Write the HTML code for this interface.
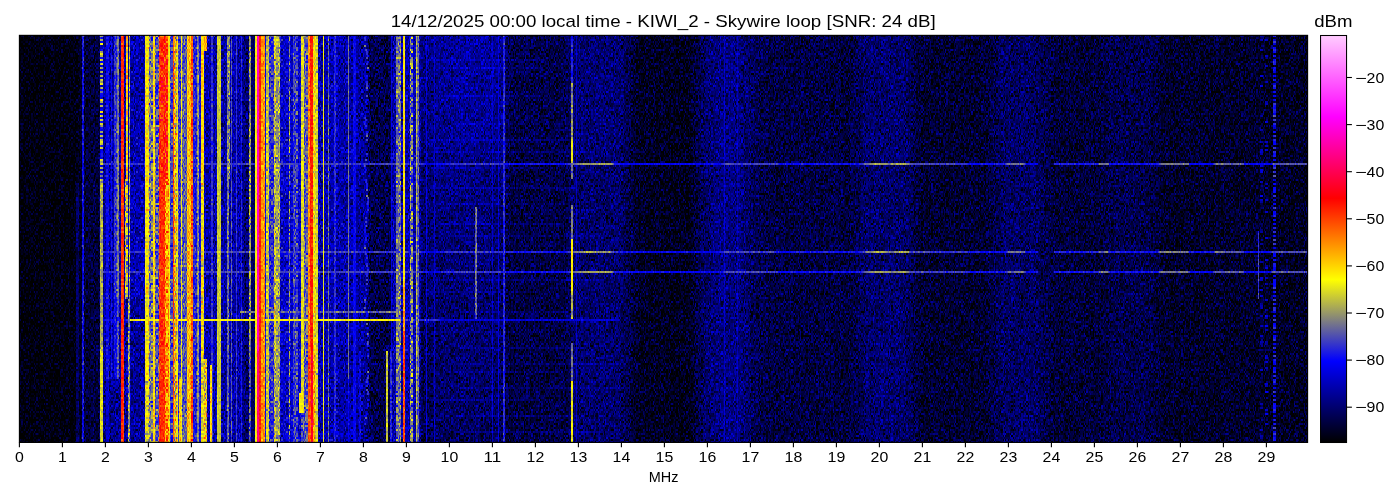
<!DOCTYPE html>
<html><head><meta charset="utf-8"><title>waterfall</title>
<style>
html,body{margin:0;padding:0;background:#fff;width:1400px;height:500px;overflow:hidden}
svg{position:absolute;left:0;top:0;display:block}
text{font-family:"Liberation Sans",sans-serif;fill:#000}
.t{font-size:13.9px}
.ti{font-size:16.7px}
</style></head><body>
<svg width="1400" height="500" viewBox="0 0 1400 500">
<defs>
<filter id="cm" filterUnits="userSpaceOnUse" x="19" y="35" width="1289" height="408" color-interpolation-filters="sRGB">
<feTurbulence type="fractalNoise" baseFrequency="0.877 0.713" numOctaves="2" seed="3" result="n0"/>
<feColorMatrix in="n0" type="matrix" values="2 0 0 0 -.5 2 0 0 0 -.5 2 0 0 0 -.5 0 0 0 0 1" result="n1"/>
<feFlood flood-color="#fff" x="19" y="35" width="1289" height="1" result="row"/>
<feOffset in="row" dx="0" dy="0" x="19" y="35" width="1289" height="2" result="rtile"/>
<feTile in="rtile" result="rmask"/>
<feComposite in="n1" in2="rmask" operator="in" result="ns"/>
<feOffset in="ns" dx="0" dy="1" result="ns2"/>
<feMerge result="nv"><feMergeNode in="ns"/><feMergeNode in="ns2"/></feMerge>
<feFlood flood-color="#fff" x="21" y="35" width="1" height="408" result="col"/>
<feOffset in="col" dx="0" dy="0" x="19" y="35" width="5" height="408" result="ctile"/>
<feTile in="ctile" result="cmask"/>
<feComposite in="nv" in2="cmask" operator="in" result="nc"/>
<feOffset in="nc" dx="1" dy="0" result="nc2"/>
<feMerge result="n"><feMergeNode in="nv"/><feMergeNode in="nc2"/></feMerge>
<feColorMatrix in="SourceGraphic" type="matrix" values="0 1 0 0 0 0 0 0 0 0 0 0 0 0 0 0 0 0 0 1" result="a"/>
<feColorMatrix in="SourceGraphic" type="matrix" values="1 0 0 0 0 0 0 0 0 0 0 0 1 0 0 0 0 0 0 1" result="b"/>
<feComposite in="n" in2="a" operator="arithmetic" k1="2" k2="0" k3="0" k4="0" result="na"/>
<feComposite in="na" in2="b" operator="arithmetic" k1="0" k2="1" k3="1" k4="0" result="sm"/>
<feColorMatrix in="sm" type="matrix" values="1 0 -1 0 0 1 0 -1 0 0 1 0 -1 0 0 0 0 0 0 1" result="t"/>
<feComponentTransfer in="t">
<feFuncR type="table" tableValues="0 0 1 1 1"/>
<feFuncG type="table" tableValues="0 0 1 0 0"/>
<feFuncB type="table" tableValues="0 1 0 0 1"/>
</feComponentTransfer>
</filter>
<linearGradient id="cb" x1="0" y1="1" x2="0" y2="0">
<stop offset="0" stop-color="#000"/><stop offset="0.2" stop-color="#00f"/><stop offset="0.4" stop-color="#ff0"/>
<stop offset="0.6" stop-color="#f00"/><stop offset="0.8" stop-color="#f0f"/><stop offset="1" stop-color="#fcf"/>
</linearGradient>
</defs>
<rect x="19" y="35" width="1289" height="408" fill="#000046"/>
<g filter="url(#cm)" shape-rendering="crispEdges">
<rect x="19" y="35" width="1289" height="408" fill="#002000"/>
<path fill="#001412" d="M19 35h57v408h-57z"/>
<path fill="#001410" d="M76 35h1v148h-1z"/>
<path fill="#081000" d="M76 183h1v260h-1zM77 183h1v260h-1zM78 183h1v260h-1zM251 35h4v128h-4zM251 165h4v86h-4zM251 253h4v18h-4zM251 273h4v38h-4zM251 313h4v6h-4zM251 321h4v122h-4z"/>
<path fill="#00140e" d="M77 35h1v148h-1z"/>
<path fill="#00140c" d="M78 35h1v148h-1zM79 35h1v408h-1z"/>
<path fill="#00140a" d="M80 35h2v408h-2z"/>
<path fill="#241a00" d="M82 35h2v408h-2z"/>
<path fill="#001608" d="M84 35h9v408h-9z"/>
<path fill="#001808" d="M93 35h1v408h-1z"/>
<path fill="#00180a" d="M94 35h5v408h-5z"/>
<path fill="#001806" d="M99 35h1v408h-1z"/>
<path fill="#600800" d="M100 35h3v2h-3zM100 75h3v2h-3zM100 87h3v2h-3zM100 131h3v2h-3zM100 161h3v2h-3z"/>
<path fill="#3a0800" d="M100 37h3v2h-3zM100 57h3v2h-3zM100 121h3v2h-3zM1273 51h3v2h-3zM1273 55h3v2h-3zM1273 59h3v2h-3zM1273 67h3v2h-3zM1273 79h3v2h-3zM1273 109h3v2h-3zM1273 189h3v4h-3zM1273 265h3v2h-3zM1273 279h3v2h-3zM1273 295h3v2h-3zM1273 359h3v2h-3zM1273 403h3v4h-3zM1273 423h3v2h-3zM1273 437h3v2h-3z"/>
<path fill="#640800" d="M100 39h3v2h-3zM100 51h3v2h-3zM100 67h3v2h-3zM100 101h3v2h-3z"/>
<path fill="#320800" d="M100 41h3v2h-3zM100 133h3v2h-3zM100 149h3v4h-3zM1260 85h3v2h-3zM1260 195h3v2h-3zM1265 315h3v2h-3zM1273 71h3v2h-3zM1273 247h3v2h-3zM1273 269h3v2h-3zM1273 343h3v2h-3zM1273 351h3v2h-3zM1273 363h3v2h-3zM1273 415h3v2h-3z"/>
<path fill="#720800" d="M100 43h3v2h-3zM100 159h3v2h-3z"/>
<path fill="#280800" d="M100 45h3v2h-3zM100 69h3v2h-3zM100 107h3v2h-3zM1260 39h3v2h-3zM1265 141h3v2h-3zM1265 199h3v2h-3zM1265 329h3v2h-3zM1265 367h3v2h-3z"/>
<path fill="#260800" d="M100 47h3v2h-3zM1260 35h3v2h-3zM1260 181h3v2h-3zM1260 199h3v2h-3zM1260 261h3v2h-3zM1260 341h3v2h-3zM1260 403h3v2h-3zM1265 39h3v2h-3zM1265 65h3v2h-3zM1265 101h3v4h-3zM1265 187h3v2h-3zM1265 277h3v2h-3zM1265 385h3v2h-3z"/>
<path fill="#340800" d="M100 49h3v2h-3zM100 61h3v2h-3zM100 109h3v2h-3zM100 113h3v2h-3zM1265 325h3v2h-3zM1265 413h3v2h-3zM1273 113h3v2h-3zM1273 203h3v2h-3zM1273 235h3v2h-3zM1273 267h3v2h-3zM1273 275h3v2h-3zM1273 367h3v2h-3zM1273 431h3v2h-3z"/>
<path fill="#7a0800" d="M100 53h3v2h-3zM100 111h3v2h-3z"/>
<path fill="#620800" d="M100 55h3v2h-3z"/>
<path fill="#700800" d="M100 59h3v2h-3zM100 119h3v2h-3zM100 123h3v2h-3zM100 141h3v4h-3z"/>
<path fill="#6c0800" d="M100 63h3v2h-3zM100 139h3v2h-3zM100 147h3v2h-3z"/>
<path fill="#2c0800" d="M100 65h3v2h-3zM100 169h3v2h-3zM1260 49h3v2h-3zM1260 151h3v2h-3zM1260 171h3v2h-3zM1260 277h3v2h-3zM1260 295h3v2h-3zM1260 369h3v2h-3zM1265 211h3v2h-3zM1265 361h3v2h-3zM1265 409h3v2h-3zM1273 39h3v2h-3zM1273 83h3v2h-3zM1273 179h3v2h-3z"/>
<path fill="#660800" d="M100 71h3v2h-3zM100 105h3v2h-3zM100 167h3v2h-3z"/>
<path fill="#240800" d="M100 73h3v2h-3zM1260 129h3v2h-3zM1260 141h3v2h-3zM1260 149h3v2h-3zM1260 305h3v4h-3zM1260 325h3v2h-3zM1260 429h3v2h-3zM1260 435h3v2h-3zM1265 183h3v2h-3zM1265 283h3v2h-3z"/>
<path fill="#2a0800" d="M100 77h3v2h-3zM100 85h3v2h-3zM100 97h3v2h-3zM100 157h3v2h-3zM1260 279h3v2h-3zM1265 55h3v2h-3zM1265 145h3v2h-3zM1265 149h3v2h-3zM1265 237h3v2h-3zM1265 299h3v2h-3zM1265 355h3v4h-3zM1265 383h3v2h-3zM1265 423h3v2h-3zM1273 383h3v2h-3z"/>
<path fill="#6a0800" d="M100 79h3v2h-3z"/>
<path fill="#5c0800" d="M100 81h3v2h-3z"/>
<path fill="#760800" d="M100 83h3v2h-3z"/>
<path fill="#3c0800" d="M100 89h3v2h-3zM100 137h3v2h-3zM100 145h3v2h-3zM1273 195h3v2h-3zM1273 291h3v2h-3zM1273 315h3v2h-3zM1273 337h3v2h-3zM1273 379h3v2h-3zM1273 419h3v2h-3zM1273 439h3v2h-3z"/>
<path fill="#580800" d="M100 91h3v2h-3zM100 175h3v2h-3z"/>
<path fill="#380800" d="M100 93h3v2h-3zM100 117h3v2h-3zM100 127h3v2h-3zM100 155h3v2h-3zM1273 75h3v2h-3zM1273 87h3v2h-3zM1273 95h3v2h-3zM1273 105h3v2h-3zM1273 131h3v2h-3zM1273 141h3v4h-3zM1273 153h3v2h-3zM1273 165h3v2h-3zM1273 183h3v2h-3zM1273 187h3v2h-3zM1273 211h3v4h-3zM1273 223h3v2h-3zM1273 259h3v2h-3zM1273 281h3v4h-3zM1273 325h3v2h-3zM1273 335h3v2h-3zM1273 361h3v2h-3zM1273 369h3v2h-3zM1273 395h3v2h-3zM1273 411h3v2h-3z"/>
<path fill="#360800" d="M100 95h3v2h-3zM100 129h3v2h-3zM100 153h3v2h-3zM100 165h3v2h-3zM1273 47h3v2h-3zM1273 69h3v2h-3zM1273 91h3v2h-3zM1273 99h3v2h-3zM1273 107h3v2h-3zM1273 159h3v2h-3zM1273 219h3v2h-3zM1273 253h3v4h-3zM1273 285h3v2h-3zM1273 323h3v2h-3zM1273 387h3v2h-3zM1273 407h3v2h-3z"/>
<path fill="#800800" d="M100 99h3v2h-3z"/>
<path fill="#2e0800" d="M100 103h3v2h-3zM100 173h3v2h-3zM1260 75h3v2h-3zM1260 165h3v2h-3zM1260 169h3v2h-3zM1265 259h3v2h-3zM1265 267h3v2h-3zM1273 43h3v2h-3zM1273 125h3v4h-3zM1273 199h3v2h-3zM1273 435h3v2h-3z"/>
<path fill="#6e0800" d="M100 115h3v2h-3zM100 163h3v2h-3z"/>
<path fill="#560800" d="M100 125h3v2h-3z"/>
<path fill="#680800" d="M100 135h3v2h-3z"/>
<path fill="#5e0800" d="M100 171h3v2h-3z"/>
<path fill="#300800" d="M100 177h3v2h-3zM1260 289h3v2h-3zM1260 335h3v2h-3zM1265 121h3v2h-3zM1265 391h3v2h-3zM1273 311h3v2h-3zM1273 331h3v2h-3z"/>
<path fill="#5a1000" d="M100 179h3v172h-3zM571 291h1v28h-1zM572 291h1v28h-1z"/>
<path fill="#6a0c00" d="M100 351h3v92h-3z"/>
<path fill="#081c00" d="M103 35h1v128h-1zM103 165h1v86h-1zM103 253h1v18h-1zM103 273h1v46h-1zM103 321h1v122h-1zM430 35h1v4h-1zM431 35h1v18h-1zM432 35h1v24h-1zM432 61h1v4h-1zM433 35h1v24h-1zM433 61h1v16h-1zM435 43h1v16h-1zM435 61h1v40h-1zM436 55h1v4h-1zM436 61h1v52h-1zM437 69h1v56h-1z"/>
<path fill="#400c00" d="M103 163h1v2h-1zM103 251h1v2h-1zM103 271h1v2h-1zM104 163h2v2h-2zM104 251h2v2h-2zM104 271h2v2h-2zM106 163h3v2h-3zM106 251h3v2h-3zM106 271h3v2h-3zM109 163h2v2h-2zM109 251h2v2h-2zM109 271h2v2h-2zM111 163h1v2h-1zM111 251h1v2h-1zM111 271h1v2h-1zM112 163h2v2h-2zM112 251h2v2h-2zM112 271h2v2h-2zM114 163h3v2h-3zM114 251h3v2h-3zM114 271h3v2h-3zM119 163h2v2h-2zM119 251h2v2h-2zM119 271h2v2h-2zM124 163h1v2h-1zM124 251h1v2h-1zM124 271h1v2h-1zM125 163h1v2h-1zM128 163h1v2h-1zM128 251h1v2h-1zM128 271h1v2h-1zM130 163h1v2h-1zM130 251h1v2h-1zM130 271h1v2h-1zM131 163h2v2h-2zM131 251h2v2h-2zM131 271h2v2h-2zM133 163h12v2h-12zM133 251h12v2h-12zM133 271h12v2h-12zM170 163h3v2h-3zM170 251h3v2h-3zM170 271h3v2h-3zM178 163h1v2h-1zM178 251h1v2h-1zM178 271h1v2h-1zM179 163h2v2h-2zM179 251h2v2h-2zM179 271h2v2h-2zM364 37h1v2h-1zM364 123h1v2h-1zM365 37h1v2h-1zM365 123h1v2h-1zM365 221h1v2h-1zM366 51h1v2h-1zM366 89h1v2h-1zM366 221h1v2h-1zM366 279h1v2h-1zM366 283h1v2h-1zM366 381h1v2h-1zM367 51h1v2h-1zM367 89h1v2h-1zM367 279h1v2h-1zM367 283h1v2h-1zM367 343h1v2h-1zM367 381h1v2h-1zM367 391h1v4h-1zM368 343h1v2h-1zM368 391h1v4h-1zM449 163h1v2h-1zM449 251h1v2h-1zM449 271h1v2h-1zM450 163h1v2h-1zM450 251h1v2h-1zM450 271h1v2h-1zM451 163h1v2h-1zM451 251h1v2h-1zM451 271h1v2h-1zM452 163h1v2h-1zM452 251h1v2h-1zM452 271h1v2h-1zM453 163h1v2h-1zM453 251h1v2h-1zM453 271h1v2h-1zM454 163h1v2h-1zM454 251h1v2h-1zM454 271h1v2h-1zM455 163h1v2h-1zM455 251h1v2h-1zM455 271h1v2h-1zM456 163h1v2h-1zM456 251h1v2h-1zM456 271h1v2h-1zM457 163h1v2h-1zM457 251h1v2h-1zM457 271h1v2h-1zM458 163h1v2h-1zM458 251h1v2h-1zM458 271h1v2h-1zM459 163h1v2h-1zM459 251h1v2h-1zM459 271h1v2h-1zM460 163h1v2h-1zM460 251h1v2h-1zM460 271h1v2h-1zM461 163h1v2h-1zM461 251h1v2h-1zM461 271h1v2h-1zM462 163h1v2h-1zM462 251h1v2h-1zM462 271h1v2h-1zM463 163h1v2h-1zM463 251h1v2h-1zM463 271h1v2h-1zM464 163h1v2h-1zM464 251h1v2h-1zM464 271h1v2h-1zM465 163h1v2h-1zM465 251h1v2h-1zM465 271h1v2h-1zM466 163h1v2h-1zM466 251h1v2h-1zM466 271h1v2h-1zM467 163h1v2h-1zM467 251h1v2h-1zM467 271h1v2h-1zM468 163h1v2h-1zM468 251h1v2h-1zM468 271h1v2h-1zM469 163h2v2h-2zM469 251h2v2h-2zM469 271h2v2h-2zM471 163h1v2h-1zM471 251h1v2h-1zM471 271h1v2h-1zM472 163h1v2h-1zM472 251h1v2h-1zM472 271h1v2h-1zM473 163h1v2h-1zM473 251h1v2h-1zM473 271h1v2h-1zM474 163h1v2h-1zM474 251h1v2h-1zM474 271h1v2h-1zM475 163h1v2h-1zM476 163h1v2h-1zM477 163h1v2h-1zM477 251h1v2h-1zM477 271h1v2h-1zM478 163h1v2h-1zM478 251h1v2h-1zM478 271h1v2h-1zM479 163h1v2h-1zM479 251h1v2h-1zM479 271h1v2h-1zM480 163h1v2h-1zM480 251h1v2h-1zM480 271h1v2h-1zM481 163h1v2h-1zM481 251h1v2h-1zM481 271h1v2h-1zM482 163h1v2h-1zM482 251h1v2h-1zM482 271h1v2h-1zM483 163h1v2h-1zM483 251h1v2h-1zM483 271h1v2h-1zM484 163h1v2h-1zM484 251h1v2h-1zM484 271h1v2h-1zM485 163h1v2h-1zM485 251h1v2h-1zM485 271h1v2h-1zM486 163h1v2h-1zM486 251h1v2h-1zM486 271h1v2h-1zM487 163h1v2h-1zM487 251h1v2h-1zM487 271h1v2h-1zM488 163h1v2h-1zM488 251h1v2h-1zM488 271h1v2h-1zM489 163h1v2h-1zM489 251h1v2h-1zM489 271h1v2h-1zM490 163h1v2h-1zM490 251h1v2h-1zM490 271h1v2h-1zM491 163h1v2h-1zM491 251h1v2h-1zM491 271h1v2h-1zM492 163h1v2h-1zM492 251h1v2h-1zM492 271h1v2h-1zM493 163h1v2h-1zM493 251h1v2h-1zM493 271h1v2h-1zM494 163h1v2h-1zM494 251h1v2h-1zM494 271h1v2h-1zM495 163h1v2h-1zM495 251h1v2h-1zM495 271h1v2h-1zM496 163h1v2h-1zM496 251h1v2h-1zM496 271h1v2h-1zM497 163h1v2h-1zM497 251h1v2h-1zM497 271h1v2h-1zM498 163h1v2h-1zM498 251h1v2h-1zM498 271h1v2h-1zM499 163h1v2h-1zM499 251h1v2h-1zM499 271h1v2h-1zM500 163h1v2h-1zM500 251h1v2h-1zM500 271h1v2h-1zM776 163h1v2h-1zM776 251h1v2h-1zM776 271h1v2h-1zM862 163h1v2h-1zM862 251h1v2h-1zM862 271h1v2h-1zM958 163h9v2h-9zM958 251h9v2h-9zM958 271h9v2h-9z"/>
<path fill="#320c00" d="M103 319h1v2h-1zM104 319h2v2h-2zM109 319h2v2h-2zM112 319h2v2h-2zM119 319h2v2h-2zM124 319h1v2h-1zM125 319h1v2h-1zM126 319h2v2h-2zM348 379h1v64h-1zM353 35h3v128h-3zM353 165h3v86h-3zM353 253h3v18h-3zM353 273h3v38h-3zM353 313h3v6h-3zM353 321h3v122h-3zM365 415h1v2h-1zM366 415h1v2h-1zM367 205h1v2h-1zM367 349h1v2h-1zM368 205h1v2h-1zM368 349h1v2h-1zM426 163h1v2h-1zM426 251h1v2h-1zM426 271h1v2h-1zM437 163h1v2h-1zM437 251h1v2h-1zM437 271h1v2h-1zM438 163h1v2h-1zM438 251h1v2h-1zM438 271h1v2h-1zM623 163h1v2h-1zM623 251h1v2h-1zM623 271h1v2h-1zM624 163h1v2h-1zM624 251h1v2h-1zM624 271h1v2h-1zM625 163h2v2h-2zM625 251h2v2h-2zM625 271h2v2h-2zM627 163h3v2h-3zM627 251h3v2h-3zM627 271h3v2h-3zM630 163h2v2h-2zM630 251h2v2h-2zM630 271h2v2h-2zM632 163h2v2h-2zM632 251h2v2h-2zM632 271h2v2h-2zM634 163h2v2h-2zM634 251h2v2h-2zM634 271h2v2h-2zM636 163h2v2h-2zM636 251h2v2h-2zM636 271h2v2h-2zM638 163h30v2h-30zM638 251h30v2h-30zM638 271h30v2h-30zM668 163h22v2h-22zM668 251h22v2h-22zM668 271h22v2h-22zM690 163h2v2h-2zM690 251h2v2h-2zM690 271h2v2h-2zM692 163h1v2h-1zM692 251h1v2h-1zM692 271h1v2h-1zM693 163h2v2h-2zM693 251h2v2h-2zM693 271h2v2h-2zM695 163h1v2h-1zM695 251h1v2h-1zM695 271h1v2h-1zM696 163h2v2h-2zM696 251h2v2h-2zM696 271h2v2h-2zM698 163h2v2h-2zM698 251h2v2h-2zM698 271h2v2h-2zM700 163h2v2h-2zM700 251h2v2h-2zM700 271h2v2h-2zM702 163h2v2h-2zM702 251h2v2h-2zM702 271h2v2h-2zM704 163h2v2h-2zM704 251h2v2h-2zM704 271h2v2h-2zM706 163h4v2h-4zM706 251h4v2h-4zM706 271h4v2h-4zM710 163h3v2h-3zM710 251h3v2h-3zM710 271h3v2h-3zM713 163h5v2h-5zM713 251h5v2h-5zM713 271h5v2h-5zM718 163h2v2h-2zM718 251h2v2h-2zM718 271h2v2h-2zM1026 163h10v2h-10zM1026 251h10v2h-10zM1026 271h10v2h-10zM1036 163h2v2h-2zM1036 251h2v2h-2zM1036 271h2v2h-2zM1190 163h23v2h-23zM1190 251h23v2h-23zM1190 271h23v2h-23zM1245 163h13v2h-13zM1245 251h13v2h-13zM1245 271h13v2h-13zM1258 163h1v2h-1zM1259 163h1v2h-1zM1259 251h1v2h-1zM1259 271h1v2h-1zM1260 163h3v2h-3zM1260 251h3v2h-3zM1260 271h3v2h-3zM1263 163h1v2h-1zM1263 251h1v2h-1zM1263 271h1v2h-1zM1264 163h1v2h-1zM1264 251h1v2h-1zM1264 271h1v2h-1zM1265 163h3v2h-3zM1265 251h3v2h-3zM1265 271h3v2h-3zM1268 163h3v2h-3zM1268 251h3v2h-3zM1268 271h3v2h-3z"/>
<path fill="#0a1e00" d="M104 35h2v128h-2zM104 165h2v86h-2zM104 253h2v18h-2zM104 273h2v46h-2zM104 321h2v58h-2zM109 35h2v128h-2zM109 165h2v86h-2zM109 253h2v18h-2zM109 273h2v46h-2zM109 321h2v58h-2zM112 35h2v128h-2zM112 165h2v86h-2zM112 253h2v18h-2zM112 273h2v46h-2zM112 321h2v58h-2zM119 35h2v128h-2zM119 165h2v86h-2zM119 253h2v18h-2zM119 273h2v46h-2zM119 321h2v58h-2zM124 35h1v128h-1zM124 165h1v86h-1zM124 253h1v18h-1zM124 273h1v46h-1zM124 321h1v122h-1zM125 35h1v128h-1zM125 165h1v14h-1zM125 299h1v20h-1zM125 321h1v122h-1zM126 299h2v20h-2zM126 321h2v122h-2zM128 35h1v128h-1zM128 165h1v86h-1zM128 253h1v18h-1zM128 273h1v26h-1zM351 35h2v128h-2zM351 165h2v86h-2zM351 253h2v18h-2zM351 273h2v38h-2zM351 313h2v6h-2zM351 321h2v122h-2zM356 35h2v128h-2zM356 165h2v86h-2zM356 253h2v18h-2zM356 273h2v38h-2zM356 313h2v6h-2zM356 321h2v122h-2zM392 35h1v128h-1zM392 165h1v86h-1zM392 253h1v18h-1zM392 273h1v38h-1zM392 313h1v6h-1zM392 321h1v122h-1zM419 175h1v76h-1zM419 253h1v18h-1zM419 273h1v46h-1zM419 321h1v28h-1zM420 35h1v70h-1z"/>
<path fill="#041e00" d="M104 379h2v64h-2zM109 379h2v64h-2zM111 379h1v64h-1zM112 379h2v64h-2zM114 379h3v64h-3zM117 379h2v64h-2zM119 379h2v64h-2zM366 37h1v12h-1zM366 55h1v2h-1zM366 59h1v4h-1zM366 65h1v10h-1zM366 77h1v4h-1zM366 91h1v4h-1zM366 97h1v2h-1zM366 103h1v4h-1zM366 109h1v10h-1zM366 121h1v4h-1zM366 129h1v2h-1zM366 137h1v2h-1zM366 141h1v12h-1zM366 157h1v2h-1zM366 161h1v2h-1zM366 165h1v4h-1zM366 171h1v8h-1zM366 191h1v4h-1zM366 197h1v14h-1zM366 213h1v4h-1zM366 227h1v10h-1zM366 241h1v10h-1zM366 261h1v2h-1zM366 267h1v4h-1zM366 277h1v2h-1zM366 281h1v2h-1zM366 285h1v4h-1zM366 291h1v2h-1zM366 295h1v2h-1zM366 299h1v12h-1zM366 317h1v2h-1zM366 321h1v2h-1zM366 325h1v54h-1zM366 383h1v2h-1zM366 387h1v2h-1zM366 391h1v16h-1zM366 409h1v6h-1zM366 419h1v16h-1zM366 437h1v2h-1zM366 441h1v2h-1zM420 185h1v66h-1zM420 253h1v18h-1zM420 273h1v28h-1z"/>
<path fill="#2e1000" d="M106 35h3v128h-3zM106 165h3v86h-3zM106 253h3v18h-3zM106 273h3v106h-3zM111 35h1v128h-1zM111 165h1v86h-1zM111 253h1v18h-1zM111 273h1v106h-1zM265 35h1v128h-1zM265 165h1v86h-1zM265 253h1v18h-1zM265 273h1v38h-1zM265 313h1v6h-1zM265 321h1v122h-1z"/>
<path fill="#221000" d="M106 379h3v64h-3zM724 35h1v128h-1zM724 165h1v86h-1zM724 253h1v18h-1zM724 273h1v170h-1z"/>
<path fill="#381400" d="M114 35h3v128h-3zM114 165h3v86h-3zM114 253h3v18h-3zM114 273h3v26h-3z"/>
<path fill="#2a1400" d="M114 299h3v80h-3zM199 35h2v128h-2zM199 165h2v86h-2zM199 253h2v18h-2zM199 273h2v46h-2zM199 321h2v122h-2z"/>
<path fill="#4e1000" d="M117 35h2v264h-2z"/>
<path fill="#401400" d="M117 299h2v80h-2z"/>
<path fill="#a01400" d="M121 35h3v408h-3zM159 179h6v264h-6z"/>
<path fill="#4c2600" d="M125 179h1v120h-1zM126 179h2v120h-2z"/>
<path fill="#6a1e00" d="M126 35h2v144h-2zM179 379h2v64h-2z"/>
<path fill="#3e2600" d="M128 299h1v144h-1zM129 299h1v144h-1z"/>
<path fill="#482200" d="M129 35h1v264h-1z"/>
<path fill="#0c1e00" d="M130 35h1v128h-1zM130 165h1v86h-1zM130 253h1v18h-1zM130 273h1v46h-1zM130 321h1v122h-1zM131 35h2v128h-2zM131 165h2v86h-2zM131 253h2v18h-2zM131 273h2v26h-2zM206 51h1v112h-1zM206 165h1v86h-1zM206 253h1v18h-1zM206 273h1v46h-1zM206 321h1v38h-1zM207 35h3v128h-3zM207 165h3v86h-3zM207 253h3v18h-3zM207 273h3v46h-3zM207 321h3v122h-3zM210 35h1v128h-1zM210 165h1v86h-1zM210 253h1v18h-1zM210 273h1v46h-1zM210 321h1v44h-1zM213 35h4v128h-4zM213 165h4v86h-4zM213 253h4v18h-4zM213 273h4v46h-4zM213 321h4v122h-4zM221 35h6v128h-6zM221 165h6v86h-6zM221 253h6v18h-6zM221 273h6v46h-6zM221 321h6v122h-6zM229 179h1v72h-1zM229 253h1v18h-1zM229 273h1v46h-1zM229 321h1v122h-1zM230 35h1v128h-1zM230 165h1v86h-1zM230 253h1v18h-1zM230 273h1v46h-1zM230 321h1v122h-1zM232 35h4v128h-4zM232 165h4v86h-4zM232 253h4v18h-4zM232 273h4v46h-4zM232 321h4v122h-4zM237 35h3v128h-3zM237 165h3v86h-3zM237 253h3v18h-3zM237 273h3v46h-3zM237 321h3v122h-3zM240 35h1v128h-1zM240 165h1v86h-1zM240 253h1v18h-1zM240 273h1v38h-1zM240 313h1v6h-1zM240 321h1v122h-1zM339 35h9v128h-9zM339 165h9v86h-9zM339 253h9v18h-9zM339 273h9v38h-9zM339 313h9v6h-9zM339 321h9v122h-9zM349 35h2v128h-2zM349 165h2v86h-2zM349 253h2v18h-2zM349 273h2v38h-2zM349 313h2v6h-2zM349 321h2v122h-2zM419 149h1v14h-1zM419 165h1v10h-1z"/>
<path fill="#740c00" d="M130 319h1v2h-1zM131 319h2v2h-2zM133 319h12v2h-12zM149 319h4v2h-4zM155 319h4v2h-4zM170 319h3v2h-3zM177 319h1v2h-1zM178 319h1v2h-1zM179 319h2v2h-2zM181 319h1v2h-1zM182 319h5v2h-5zM193 319h4v2h-4zM197 319h2v2h-2zM199 319h2v2h-2zM204 319h1v2h-1zM205 319h1v2h-1zM206 319h1v2h-1zM207 319h3v2h-3zM210 319h1v2h-1zM211 319h1v2h-1zM212 319h1v2h-1zM213 319h4v2h-4zM217 319h4v2h-4zM221 319h6v2h-6zM227 319h2v2h-2zM229 319h1v2h-1zM230 319h1v2h-1zM231 319h1v2h-1zM232 319h4v2h-4zM236 319h1v2h-1zM237 319h3v2h-3zM240 319h1v2h-1zM241 319h1v2h-1zM242 319h1v2h-1zM243 319h1v2h-1zM244 319h1v2h-1zM245 319h1v2h-1zM246 319h3v2h-3zM249 319h2v2h-2zM251 319h4v2h-4zM255 35h2v408h-2zM265 319h1v2h-1zM266 319h3v2h-3zM269 319h5v2h-5zM274 319h2v2h-2zM276 319h4v2h-4zM280 319h9v2h-9zM289 319h1v2h-1zM290 319h3v2h-3zM293 319h5v2h-5zM298 319h1v2h-1zM299 319h2v2h-2zM301 319h3v2h-3zM304 319h4v2h-4zM315 319h3v2h-3zM318 319h5v2h-5zM323 319h1v2h-1zM324 319h4v2h-4zM328 319h1v2h-1zM329 319h5v2h-5zM334 319h2v2h-2zM336 319h3v2h-3zM339 319h9v2h-9zM348 319h1v2h-1zM349 319h2v2h-2zM351 319h2v2h-2zM353 319h3v2h-3zM356 319h2v2h-2zM358 319h1v2h-1zM359 319h2v2h-2zM361 319h3v2h-3zM364 319h1v2h-1zM365 319h1v2h-1zM366 319h1v2h-1zM367 319h1v2h-1zM368 319h1v2h-1zM369 319h1v2h-1zM370 319h16v2h-16zM386 319h2v2h-2zM388 319h2v2h-2zM390 319h1v2h-1zM391 319h1v2h-1zM392 319h1v2h-1zM393 319h3v2h-3zM396 319h4v2h-4z"/>
<path fill="#081e00" d="M131 299h2v20h-2zM131 321h2v122h-2zM133 299h12v20h-12zM133 321h12v122h-12zM358 35h1v128h-1zM358 165h1v86h-1zM358 253h1v18h-1zM358 273h1v38h-1zM358 313h1v6h-1zM358 321h1v122h-1zM359 35h2v128h-2zM359 165h2v86h-2zM359 253h2v18h-2zM359 273h2v38h-2zM359 313h2v6h-2zM359 321h2v30h-2zM361 35h3v128h-3zM361 165h3v86h-3zM361 253h3v18h-3zM361 273h3v38h-3zM361 313h3v6h-3zM361 321h3v122h-3zM364 35h1v2h-1zM364 41h1v4h-1zM364 47h1v64h-1zM364 113h1v2h-1zM364 119h1v2h-1zM364 125h1v38h-1zM364 169h1v2h-1zM364 173h1v56h-1zM364 237h1v4h-1zM364 243h1v2h-1zM364 249h1v2h-1zM364 253h1v18h-1zM364 273h1v26h-1zM364 303h1v4h-1zM364 309h1v2h-1zM364 313h1v6h-1zM364 321h1v100h-1zM364 425h1v18h-1zM365 41h1v4h-1zM365 47h1v2h-1zM365 51h1v50h-1zM365 103h1v4h-1zM365 109h1v2h-1zM365 113h1v2h-1zM365 129h1v30h-1zM365 161h1v2h-1zM365 173h1v6h-1zM365 183h1v34h-1zM365 227h1v2h-1zM365 243h1v2h-1zM365 249h1v2h-1zM365 255h1v16h-1zM365 273h1v16h-1zM365 291h1v6h-1zM365 303h1v4h-1zM365 309h1v2h-1zM365 313h1v6h-1zM365 321h1v94h-1zM365 419h1v2h-1zM365 425h1v10h-1zM365 437h1v6h-1zM419 349h1v94h-1zM420 105h1v44h-1z"/>
<path fill="#0e1e00" d="M133 35h12v128h-12zM133 165h12v86h-12zM133 253h12v18h-12zM133 273h12v26h-12zM205 51h1v112h-1zM205 165h1v86h-1zM205 253h1v18h-1zM205 273h1v46h-1zM205 321h1v38h-1zM318 35h5v128h-5zM318 165h5v86h-5zM318 253h5v18h-5zM318 273h5v38h-5zM318 313h5v6h-5zM318 321h5v122h-5zM324 35h4v128h-4zM324 165h4v86h-4zM324 253h4v18h-4zM324 273h4v38h-4zM324 313h4v6h-4zM324 321h4v122h-4zM329 35h5v128h-5zM329 165h5v86h-5zM329 253h5v18h-5zM329 273h5v38h-5zM329 313h5v6h-5zM329 321h5v122h-5zM336 35h3v128h-3zM336 165h3v86h-3zM336 253h3v18h-3zM336 273h3v38h-3zM336 313h3v6h-3zM336 321h3v122h-3zM393 35h3v128h-3zM393 165h3v86h-3zM393 253h3v18h-3zM393 273h3v38h-3zM393 313h3v6h-3zM393 321h3v122h-3zM401 35h2v128h-2zM401 165h2v86h-2zM401 253h2v18h-2zM401 273h2v46h-2zM401 321h2v122h-2zM405 35h5v128h-5zM405 165h5v86h-5zM405 253h5v18h-5zM405 273h5v46h-5zM405 321h5v122h-5zM413 35h3v128h-3zM413 165h3v86h-3zM413 253h3v18h-3zM413 273h3v46h-3zM413 321h3v122h-3zM419 53h1v96h-1z"/>
<path fill="#681a00" d="M145 35h4v344h-4zM313 35h2v316h-2z"/>
<path fill="#542200" d="M145 379h4v64h-4z"/>
<path fill="#3e1e00" d="M149 35h4v284h-4zM149 321h4v122h-4zM396 35h4v284h-4zM396 321h4v122h-4zM400 35h1v408h-1z"/>
<path fill="#6e1a00" d="M153 35h2v408h-2zM210 365h1v78h-1zM211 365h1v78h-1z"/>
<path fill="#361e00" d="M155 35h4v284h-4zM155 321h4v122h-4z"/>
<path fill="#981e00" d="M159 35h6v144h-6zM165 35h3v144h-3z"/>
<path fill="#782200" d="M165 179h3v264h-3zM168 179h1v264h-1z"/>
<path fill="#6c1400" d="M168 35h1v144h-1zM169 35h1v408h-1z"/>
<path fill="#301e00" d="M170 35h3v128h-3zM170 165h3v86h-3zM170 253h3v18h-3zM170 273h3v46h-3zM170 321h3v122h-3z"/>
<path fill="#981400" d="M173 35h1v408h-1zM308 351h2v92h-2zM310 351h1v92h-1zM403 331h2v112h-2z"/>
<path fill="#4e3200" d="M174 35h3v408h-3z"/>
<path fill="#6c1000" d="M177 35h1v284h-1zM177 321h1v122h-1zM181 35h1v284h-1zM181 321h1v122h-1zM323 35h1v284h-1zM323 321h1v122h-1z"/>
<path fill="#341a00" d="M178 35h1v128h-1zM178 165h1v86h-1zM178 253h1v18h-1zM178 273h1v46h-1zM178 321h1v122h-1zM179 35h2v128h-2zM179 165h2v86h-2zM179 253h2v18h-2zM179 273h2v46h-2zM179 321h2v58h-2zM293 35h5v128h-5zM293 165h5v86h-5zM293 253h5v18h-5zM293 273h5v38h-5zM293 313h5v6h-5zM293 321h5v122h-5z"/>
<path fill="#3c1a00" d="M182 35h5v284h-5zM182 321h5v122h-5zM227 351h2v92h-2zM304 35h4v276h-4zM304 313h4v6h-4zM304 321h4v122h-4z"/>
<path fill="#761a00" d="M187 35h4v408h-4z"/>
<path fill="#901a00" d="M191 35h2v408h-2z"/>
<path fill="#2c1a00" d="M193 35h4v128h-4zM193 165h4v86h-4zM193 253h4v18h-4zM193 273h4v46h-4zM193 321h4v122h-4z"/>
<path fill="#420c00" d="M193 163h4v2h-4zM193 251h4v2h-4zM193 271h4v2h-4zM199 163h2v2h-2zM199 251h2v2h-2zM199 271h2v2h-2zM204 163h1v2h-1zM204 251h1v2h-1zM204 271h1v2h-1zM205 163h1v2h-1zM205 251h1v2h-1zM205 271h1v2h-1zM206 163h1v2h-1zM206 251h1v2h-1zM206 271h1v2h-1zM207 163h3v2h-3zM207 251h3v2h-3zM207 271h3v2h-3zM210 163h1v2h-1zM210 251h1v2h-1zM210 271h1v2h-1zM211 163h1v2h-1zM211 251h1v2h-1zM211 271h1v2h-1zM212 163h1v2h-1zM212 251h1v2h-1zM212 271h1v2h-1zM213 163h4v2h-4zM213 251h4v2h-4zM213 271h4v2h-4zM221 163h6v2h-6zM221 251h6v2h-6zM221 271h6v2h-6zM229 251h1v2h-1zM229 271h1v2h-1zM230 163h1v2h-1zM230 251h1v2h-1zM230 271h1v2h-1zM232 163h4v2h-4zM232 251h4v2h-4zM232 271h4v2h-4zM236 163h1v2h-1zM236 251h1v2h-1zM236 271h1v2h-1zM237 163h3v2h-3zM237 251h3v2h-3zM237 271h3v2h-3zM240 163h1v2h-1zM240 251h1v2h-1zM240 271h1v2h-1zM241 163h1v2h-1zM241 251h1v2h-1zM241 271h1v2h-1zM242 163h1v2h-1zM242 251h1v2h-1zM242 271h1v2h-1zM243 163h1v2h-1zM243 251h1v2h-1zM243 271h1v2h-1zM244 163h1v2h-1zM244 251h1v2h-1zM244 271h1v2h-1zM245 163h1v2h-1zM245 251h1v2h-1zM245 271h1v2h-1zM246 163h3v2h-3zM246 251h3v2h-3zM246 271h3v2h-3zM251 163h4v2h-4zM251 251h4v2h-4zM251 271h4v2h-4zM265 163h1v2h-1zM265 251h1v2h-1zM265 271h1v2h-1zM269 163h5v2h-5zM269 251h5v2h-5zM269 271h5v2h-5zM280 163h9v2h-9zM280 251h9v2h-9zM280 271h9v2h-9zM290 163h3v2h-3zM290 251h3v2h-3zM290 271h3v2h-3zM293 163h5v2h-5zM293 251h5v2h-5zM293 271h5v2h-5zM298 163h1v2h-1zM298 251h1v2h-1zM298 271h1v2h-1zM299 163h2v2h-2zM299 251h2v2h-2zM299 271h2v2h-2zM318 163h5v2h-5zM318 251h5v2h-5zM318 271h5v2h-5zM324 163h4v2h-4zM324 251h4v2h-4zM324 271h4v2h-4zM329 163h5v2h-5zM329 251h5v2h-5zM329 271h5v2h-5zM334 163h2v2h-2zM334 251h2v2h-2zM334 271h2v2h-2zM336 163h3v2h-3zM336 251h3v2h-3zM336 271h3v2h-3zM339 163h9v2h-9zM339 251h9v2h-9zM339 271h9v2h-9zM349 163h2v2h-2zM349 251h2v2h-2zM349 271h2v2h-2zM351 163h2v2h-2zM351 251h2v2h-2zM351 271h2v2h-2zM353 163h3v2h-3zM353 251h3v2h-3zM353 271h3v2h-3zM356 163h2v2h-2zM356 251h2v2h-2zM356 271h2v2h-2zM358 163h1v2h-1zM358 251h1v2h-1zM358 271h1v2h-1zM359 163h2v2h-2zM359 251h2v2h-2zM359 271h2v2h-2zM361 163h3v2h-3zM361 251h3v2h-3zM361 271h3v2h-3zM364 163h1v4h-1zM364 251h1v2h-1zM364 271h1v2h-1zM364 301h1v2h-1zM365 49h1v2h-1zM365 163h1v4h-1zM365 237h1v2h-1zM365 251h1v2h-1zM365 271h1v2h-1zM365 301h1v2h-1zM366 49h1v2h-1zM366 95h1v2h-1zM366 163h1v2h-1zM366 237h1v2h-1zM366 251h1v2h-1zM366 271h1v2h-1zM367 95h1v2h-1zM367 163h1v2h-1zM367 197h1v2h-1zM367 251h1v2h-1zM367 271h1v2h-1zM367 377h1v2h-1zM368 163h1v2h-1zM368 197h1v2h-1zM368 251h1v2h-1zM368 271h1v2h-1zM368 377h1v2h-1zM369 163h1v2h-1zM369 251h1v2h-1zM369 271h1v2h-1zM370 163h16v2h-16zM370 251h16v2h-16zM370 271h16v2h-16zM386 163h2v2h-2zM386 251h2v2h-2zM386 271h2v2h-2zM388 163h2v2h-2zM388 251h2v2h-2zM388 271h2v2h-2zM390 163h1v2h-1zM390 251h1v2h-1zM390 271h1v2h-1zM391 163h1v2h-1zM391 251h1v2h-1zM391 271h1v2h-1zM392 163h1v2h-1zM392 251h1v2h-1zM392 271h1v2h-1zM393 163h3v2h-3zM393 251h3v2h-3zM393 271h3v2h-3zM401 163h2v2h-2zM401 251h2v2h-2zM401 271h2v2h-2zM405 163h5v2h-5zM405 251h5v2h-5zM405 271h5v2h-5zM413 163h3v2h-3zM413 251h3v2h-3zM413 271h3v2h-3zM419 163h1v2h-1zM419 251h1v2h-1zM419 271h1v2h-1zM420 163h1v2h-1zM420 251h1v2h-1zM420 271h1v2h-1zM569 163h1v2h-1zM569 251h1v2h-1zM569 271h1v2h-1zM724 163h1v2h-1zM724 251h1v2h-1zM724 271h1v2h-1zM775 163h1v2h-1zM775 251h1v2h-1zM775 271h1v2h-1zM928 163h30v2h-30zM928 251h30v2h-30zM928 271h30v2h-30zM1006 163h1v2h-1zM1006 251h1v2h-1zM1006 271h1v2h-1zM1272 163h1v2h-1zM1272 251h1v2h-1zM1272 271h1v2h-1z"/>
<path fill="#4e1400" d="M197 35h2v284h-2zM197 321h2v122h-2z"/>
<path fill="#741400" d="M201 35h3v144h-3z"/>
<path fill="#5e2200" d="M201 179h3v172h-3z"/>
<path fill="#582200" d="M201 351h3v92h-3z"/>
<path fill="#821400" d="M204 35h1v16h-1zM205 35h1v16h-1zM206 35h1v16h-1zM403 283h2v48h-2z"/>
<path fill="#101e00" d="M204 51h1v112h-1zM204 165h1v86h-1zM204 253h1v18h-1zM204 273h1v46h-1zM204 321h1v38h-1zM419 35h1v18h-1z"/>
<path fill="#522e00" d="M204 359h1v84h-1zM205 359h1v84h-1zM206 359h1v84h-1z"/>
<path fill="#3c1000" d="M211 35h1v128h-1zM211 165h1v86h-1zM211 253h1v18h-1zM211 273h1v46h-1zM211 321h1v44h-1zM212 35h1v128h-1zM212 165h1v86h-1zM212 253h1v18h-1zM212 273h1v46h-1zM212 321h1v122h-1zM236 35h1v128h-1zM236 165h1v86h-1zM236 253h1v18h-1zM236 273h1v46h-1zM236 321h1v122h-1zM401 319h2v2h-2zM405 319h5v2h-5zM413 319h3v2h-3zM419 319h1v2h-1zM420 319h1v2h-1zM421 319h1v2h-1zM422 319h1v2h-1zM423 319h1v2h-1zM424 319h1v2h-1zM425 319h1v2h-1zM426 319h1v2h-1zM427 319h1v2h-1zM428 319h1v2h-1zM429 319h1v2h-1zM430 319h1v2h-1zM431 319h1v2h-1zM432 319h1v2h-1zM433 319h1v2h-1zM434 319h1v2h-1zM435 319h1v2h-1zM436 319h1v2h-1zM437 319h1v2h-1zM438 319h1v2h-1zM439 319h1v2h-1zM1258 231h1v68h-1z"/>
<path fill="#660c00" d="M217 35h4v284h-4zM217 321h4v122h-4zM386 351h2v92h-2z"/>
<path fill="#461e00" d="M227 35h2v144h-2zM229 35h1v144h-1zM249 35h2v284h-2zM249 321h2v30h-2z"/>
<path fill="#421a00" d="M227 179h2v140h-2zM227 321h2v30h-2z"/>
<path fill="#441000" d="M231 35h1v284h-1zM231 321h1v122h-1z"/>
<path fill="#461400" d="M240 311h1v2h-1zM241 311h1v2h-1zM242 311h1v2h-1zM243 311h1v2h-1zM244 311h1v2h-1zM245 311h1v2h-1zM246 311h3v2h-3zM251 311h4v2h-4zM265 311h1v2h-1zM269 311h5v2h-5zM280 311h9v2h-9zM290 311h3v2h-3zM293 311h5v2h-5zM298 311h1v2h-1zM299 311h2v2h-2zM304 311h4v2h-4zM318 311h5v2h-5zM324 311h4v2h-4zM328 35h1v284h-1zM328 321h1v122h-1zM329 311h5v2h-5zM334 311h2v2h-2zM336 311h3v2h-3zM339 311h9v2h-9zM349 311h2v2h-2zM351 311h2v2h-2zM353 311h3v2h-3zM356 311h2v2h-2zM358 311h1v2h-1zM359 311h2v2h-2zM361 311h3v2h-3zM364 311h1v2h-1zM365 311h1v2h-1zM366 311h1v2h-1zM367 311h1v2h-1zM368 311h1v2h-1zM369 311h1v2h-1zM370 311h16v2h-16zM386 311h2v2h-2zM388 311h2v2h-2zM390 311h1v2h-1zM391 311h1v2h-1zM392 311h1v2h-1zM393 311h3v2h-3zM475 207h1v112h-1zM476 207h1v112h-1z"/>
<path fill="#341000" d="M241 35h1v128h-1zM241 165h1v86h-1zM241 253h1v18h-1zM241 273h1v38h-1zM241 313h1v6h-1zM241 321h1v122h-1zM571 35h1v48h-1zM572 35h1v48h-1z"/>
<path fill="#061e00" d="M242 35h1v128h-1zM242 165h1v86h-1zM242 253h1v18h-1zM242 273h1v38h-1zM242 313h1v6h-1zM242 321h1v122h-1zM420 149h1v14h-1zM420 165h1v20h-1z"/>
<path fill="#021e00" d="M243 35h1v128h-1zM243 165h1v86h-1zM243 253h1v18h-1zM243 273h1v38h-1zM243 313h1v6h-1zM243 321h1v122h-1zM420 301h1v18h-1zM420 321h1v96h-1z"/>
<path fill="#001e00" d="M244 35h1v128h-1zM244 165h1v86h-1zM244 253h1v18h-1zM244 273h1v38h-1zM244 313h1v6h-1zM244 321h1v122h-1zM367 35h1v16h-1zM367 59h1v2h-1zM367 65h1v2h-1zM367 71h1v4h-1zM367 77h1v4h-1zM367 91h1v4h-1zM367 97h1v2h-1zM367 101h1v30h-1zM367 137h1v2h-1zM367 141h1v12h-1zM367 157h1v6h-1zM367 165h1v18h-1zM367 191h1v4h-1zM367 213h1v38h-1zM367 253h1v2h-1zM367 261h1v2h-1zM367 277h1v2h-1zM367 281h1v2h-1zM367 285h1v8h-1zM367 295h1v16h-1zM367 317h1v2h-1zM367 321h1v2h-1zM367 325h1v2h-1zM367 331h1v2h-1zM367 337h1v4h-1zM367 347h1v2h-1zM367 351h1v2h-1zM367 359h1v12h-1zM367 373h1v2h-1zM367 387h1v2h-1zM367 395h1v4h-1zM367 401h1v2h-1zM367 409h1v30h-1zM367 441h1v2h-1zM420 417h1v26h-1z"/>
<path fill="#001e02" d="M245 35h1v128h-1zM245 165h1v86h-1zM245 253h1v18h-1zM245 273h1v38h-1zM245 313h1v6h-1zM245 321h1v122h-1z"/>
<path fill="#001e04" d="M246 35h3v128h-3zM246 165h3v86h-3zM246 253h3v18h-3zM246 273h3v38h-3zM246 313h3v6h-3zM246 321h3v122h-3zM368 35h1v20h-1zM368 57h1v4h-1zM368 63h1v4h-1zM368 71h1v92h-1zM368 165h1v32h-1zM368 211h1v40h-1zM368 253h1v14h-1zM368 273h1v38h-1zM368 313h1v6h-1zM368 321h1v6h-1zM368 331h1v2h-1zM368 337h1v4h-1zM368 347h1v2h-1zM368 351h1v2h-1zM368 359h1v12h-1zM368 373h1v2h-1zM368 379h1v4h-1zM368 385h1v6h-1zM368 395h1v4h-1zM368 401h1v2h-1zM368 407h1v36h-1z"/>
<path fill="#341e00" d="M249 351h2v92h-2z"/>
<path fill="#e40c00" d="M257 35h2v316h-2z"/>
<path fill="#d40c00" d="M257 351h2v92h-2z"/>
<path fill="#a81000" d="M259 35h2v408h-2zM310 35h1v316h-1zM311 35h2v316h-2z"/>
<path fill="#861400" d="M261 35h4v408h-4z"/>
<path fill="#561a00" d="M266 35h3v284h-3zM266 321h3v122h-3z"/>
<path fill="#301a00" d="M269 35h5v128h-5zM269 165h5v86h-5zM269 253h5v18h-5zM269 273h5v38h-5zM269 313h5v6h-5zM269 321h5v122h-5z"/>
<path fill="#482a00" d="M274 35h2v284h-2zM274 321h2v122h-2z"/>
<path fill="#4e1a00" d="M276 35h4v284h-4zM276 321h4v122h-4z"/>
<path fill="#161e00" d="M280 35h9v128h-9zM280 165h9v86h-9zM280 253h9v18h-9zM280 273h9v38h-9zM280 313h9v6h-9zM280 321h9v122h-9zM290 35h3v128h-3zM290 165h3v86h-3zM290 253h3v18h-3zM290 273h3v38h-3zM290 313h3v6h-3zM290 321h3v122h-3zM298 35h1v128h-1zM298 165h1v86h-1zM298 253h1v18h-1zM298 273h1v38h-1zM298 313h1v6h-1zM298 321h1v122h-1zM299 35h2v128h-2zM299 165h2v86h-2zM299 253h2v18h-2zM299 273h2v38h-2zM299 313h2v6h-2zM299 321h2v72h-2zM299 413h2v30h-2z"/>
<path fill="#3a2200" d="M289 35h1v284h-1zM289 321h1v122h-1z"/>
<path fill="#701000" d="M299 393h2v20h-2zM301 393h3v20h-3z"/>
<path fill="#641400" d="M301 35h3v284h-3zM301 321h3v72h-3z"/>
<path fill="#362200" d="M301 413h3v30h-3z"/>
<path fill="#821a00" d="M308 35h2v316h-2z"/>
<path fill="#b61000" d="M311 351h2v92h-2z"/>
<path fill="#7e1a00" d="M313 351h2v92h-2z"/>
<path fill="#5c1a00" d="M315 35h3v284h-3zM315 321h3v122h-3z"/>
<path fill="#381000" d="M334 35h2v128h-2zM334 165h2v86h-2zM334 253h2v18h-2zM334 273h2v38h-2zM334 313h2v6h-2zM334 321h2v122h-2z"/>
<path fill="#500c00" d="M348 35h1v284h-1zM348 321h1v58h-1zM364 247h1v2h-1zM365 247h1v2h-1zM366 195h1v2h-1zM367 67h1v2h-1zM367 195h1v2h-1zM368 67h1v2h-1zM575 163h1v2h-1zM575 251h1v2h-1zM575 271h1v2h-1zM576 163h1v2h-1zM576 251h1v2h-1zM576 271h1v2h-1zM866 163h1v2h-1zM866 251h1v2h-1zM866 271h1v2h-1zM1008 163h16v2h-16zM1008 251h16v2h-16zM1008 271h16v2h-16zM1099 163h3v2h-3zM1099 251h3v2h-3zM1099 271h3v2h-3zM1102 163h6v2h-6zM1102 251h6v2h-6zM1102 271h6v2h-6z"/>
<path fill="#261400" d="M359 351h2v92h-2z"/>
<path fill="#3c0c00" d="M364 39h1v2h-1zM364 117h1v2h-1zM365 39h1v2h-1zM365 117h1v2h-1zM365 125h1v2h-1zM365 217h1v2h-1zM365 289h1v2h-1zM366 53h1v2h-1zM366 83h1v2h-1zM366 125h1v2h-1zM366 217h1v2h-1zM366 275h1v2h-1zM366 289h1v2h-1zM367 53h1v2h-1zM367 83h1v2h-1zM367 275h1v2h-1zM367 335h1v2h-1zM368 335h1v2h-1zM422 163h1v2h-1zM422 251h1v2h-1zM422 271h1v2h-1zM446 163h1v2h-1zM446 251h1v2h-1zM446 271h1v2h-1zM567 163h1v2h-1zM567 251h1v2h-1zM567 271h1v2h-1zM614 163h1v2h-1zM614 251h1v2h-1zM614 271h1v2h-1zM777 163h1v2h-1zM777 251h1v2h-1zM777 271h1v2h-1zM861 163h1v2h-1zM861 251h1v2h-1zM861 271h1v2h-1zM967 163h1v2h-1zM967 251h1v2h-1zM967 271h1v2h-1zM1109 163h1v2h-1zM1109 251h1v2h-1zM1109 271h1v2h-1zM1158 163h1v2h-1zM1158 251h1v2h-1zM1158 271h1v2h-1z"/>
<path fill="#4e0c00" d="M364 45h1v2h-1zM365 45h1v2h-1zM366 323h1v2h-1zM367 323h1v2h-1zM574 163h1v2h-1zM574 251h1v2h-1zM574 271h1v2h-1zM865 163h1v2h-1zM865 251h1v2h-1zM865 271h1v2h-1z"/>
<path fill="#280c00" d="M364 111h1v2h-1zM364 233h1v4h-1zM364 241h1v2h-1zM365 111h1v2h-1zM365 219h1v2h-1zM365 233h1v4h-1zM365 241h1v2h-1zM366 219h1v2h-1z"/>
<path fill="#2a0c00" d="M364 115h1v2h-1zM365 107h1v2h-1zM365 115h1v2h-1zM366 107h1v2h-1zM426 35h1v128h-1zM426 165h1v86h-1zM426 253h1v18h-1zM426 273h1v46h-1zM426 321h1v122h-1zM430 163h1v2h-1zM430 251h1v2h-1zM430 271h1v2h-1zM440 319h1v2h-1zM441 319h1v2h-1zM442 319h1v2h-1zM443 319h1v2h-1zM444 319h1v2h-1zM445 319h1v2h-1zM446 319h1v2h-1zM447 319h1v2h-1zM448 319h1v2h-1zM449 319h1v2h-1zM450 319h1v2h-1zM451 319h1v2h-1zM452 319h1v2h-1zM453 319h1v2h-1zM454 319h1v2h-1zM455 319h1v2h-1zM456 319h1v2h-1zM457 319h1v2h-1zM458 319h1v2h-1zM459 319h1v2h-1zM460 319h1v2h-1zM461 319h1v2h-1zM462 319h1v2h-1zM463 319h1v2h-1zM464 319h1v2h-1zM465 319h1v2h-1zM466 319h1v2h-1zM467 319h1v2h-1zM468 319h1v2h-1zM469 319h2v2h-2zM471 319h1v2h-1zM472 319h1v2h-1zM473 319h1v2h-1zM474 319h1v2h-1zM475 319h1v2h-1zM476 319h1v2h-1zM477 319h1v2h-1zM478 319h1v2h-1zM479 319h1v2h-1zM480 319h1v2h-1zM481 319h1v2h-1zM482 319h1v2h-1zM483 319h1v2h-1zM484 319h1v2h-1zM485 319h1v2h-1zM486 319h1v2h-1zM487 319h1v2h-1zM488 319h1v2h-1zM489 319h1v2h-1zM490 319h1v2h-1zM491 319h1v2h-1zM492 319h1v2h-1zM493 319h1v2h-1zM494 319h1v2h-1zM495 319h1v2h-1zM496 319h1v2h-1zM497 319h1v2h-1zM498 35h1v128h-1zM498 165h1v86h-1zM498 253h1v18h-1zM498 273h1v170h-1zM499 319h1v2h-1zM500 319h1v2h-1zM501 319h1v2h-1zM502 319h1v2h-1zM505 319h1v2h-1zM506 319h1v2h-1zM507 319h1v2h-1zM508 319h1v2h-1zM509 319h1v2h-1zM510 319h1v2h-1zM511 319h1v2h-1zM512 319h16v2h-16zM528 319h8v2h-8zM536 319h3v2h-3zM539 319h4v2h-4zM543 319h2v2h-2zM545 319h9v2h-9zM554 319h1v2h-1zM555 319h3v2h-3zM558 319h6v2h-6zM564 319h1v2h-1zM565 319h1v2h-1zM566 319h1v2h-1zM567 319h1v2h-1zM568 319h1v2h-1zM569 319h1v2h-1zM570 319h1v2h-1zM571 319h1v2h-1zM572 319h1v2h-1zM573 319h1v2h-1zM574 319h1v2h-1zM575 319h1v2h-1zM576 319h1v2h-1zM577 319h1v2h-1zM578 319h2v2h-2zM580 319h2v2h-2zM582 319h2v2h-2zM584 319h2v2h-2zM586 319h4v2h-4zM590 319h5v2h-5zM595 319h6v2h-6zM601 319h2v2h-2zM603 319h4v2h-4zM607 319h3v2h-3zM610 319h1v2h-1zM611 319h1v2h-1zM612 319h1v2h-1zM613 319h1v2h-1zM614 319h1v2h-1zM615 319h2v2h-2zM617 319h1v2h-1zM618 319h2v2h-2z"/>
<path fill="#380c00" d="M364 121h1v2h-1zM364 171h1v2h-1zM364 423h1v2h-1zM365 119h1v4h-1zM365 171h1v2h-1zM365 297h1v2h-1zM365 423h1v2h-1zM366 63h1v2h-1zM366 75h1v2h-1zM366 81h1v2h-1zM366 99h1v2h-1zM366 119h1v2h-1zM366 187h1v2h-1zM366 297h1v2h-1zM366 385h1v2h-1zM367 63h1v2h-1zM367 75h1v2h-1zM367 81h1v2h-1zM367 99h1v2h-1zM367 187h1v2h-1zM367 375h1v2h-1zM367 385h1v2h-1zM367 403h1v2h-1zM368 375h1v2h-1zM368 403h1v2h-1zM424 163h1v2h-1zM424 251h1v2h-1zM424 271h1v2h-1zM443 163h1v2h-1zM443 251h1v2h-1zM443 271h1v2h-1zM444 163h1v2h-1zM444 251h1v2h-1zM444 271h1v2h-1zM507 163h1v2h-1zM507 251h1v2h-1zM507 271h1v2h-1zM508 163h1v2h-1zM508 251h1v2h-1zM508 271h1v2h-1zM615 163h2v2h-2zM615 251h2v2h-2zM615 271h2v2h-2zM617 163h1v2h-1zM617 251h1v2h-1zM617 271h1v2h-1zM721 163h1v2h-1zM721 251h1v2h-1zM721 271h1v2h-1zM860 163h1v2h-1zM860 251h1v2h-1zM860 271h1v2h-1zM1213 163h1v2h-1zM1213 251h1v2h-1zM1213 271h1v2h-1zM1244 163h1v2h-1zM1244 251h1v2h-1zM1244 271h1v2h-1zM1271 163h1v2h-1zM1271 251h1v2h-1zM1271 271h1v2h-1z"/>
<path fill="#300c00" d="M364 167h1v2h-1zM365 167h1v2h-1zM366 155h1v2h-1zM366 211h1v2h-1zM366 407h1v2h-1zM366 439h1v2h-1zM367 155h1v2h-1zM367 211h1v2h-1zM367 353h1v2h-1zM367 383h1v2h-1zM367 407h1v2h-1zM367 439h1v2h-1zM368 353h1v2h-1zM368 383h1v2h-1zM427 163h1v2h-1zM427 251h1v2h-1zM427 271h1v2h-1zM435 163h1v2h-1zM435 251h1v2h-1zM435 271h1v2h-1zM436 163h1v2h-1zM436 251h1v2h-1zM436 271h1v2h-1z"/>
<path fill="#360c00" d="M364 229h1v2h-1zM364 245h1v2h-1zM365 169h1v2h-1zM365 229h1v2h-1zM365 245h1v2h-1zM366 131h1v2h-1zM366 169h1v2h-1zM366 379h1v2h-1zM367 55h1v2h-1zM367 61h1v2h-1zM367 131h1v2h-1zM367 203h1v2h-1zM367 345h1v2h-1zM367 379h1v2h-1zM368 55h1v2h-1zM368 61h1v2h-1zM368 203h1v2h-1zM368 345h1v2h-1zM425 163h1v2h-1zM425 251h1v2h-1zM425 271h1v2h-1zM442 163h1v2h-1zM442 251h1v2h-1zM442 271h1v2h-1zM509 163h1v2h-1zM509 251h1v2h-1zM509 271h1v2h-1zM510 163h1v2h-1zM510 251h1v2h-1zM510 271h1v2h-1zM511 163h1v2h-1zM511 251h1v2h-1zM511 271h1v2h-1zM512 163h16v2h-16zM512 251h16v2h-16zM512 271h16v2h-16zM528 163h8v2h-8zM528 251h8v2h-8zM528 271h8v2h-8zM536 163h3v2h-3zM536 251h3v2h-3zM536 271h3v2h-3zM539 163h4v2h-4zM539 251h4v2h-4zM539 271h4v2h-4zM543 163h2v2h-2zM543 251h2v2h-2zM543 271h2v2h-2zM545 163h9v2h-9zM545 251h9v2h-9zM545 271h9v2h-9zM554 163h1v2h-1zM554 251h1v2h-1zM554 271h1v2h-1zM555 163h3v2h-3zM555 251h3v2h-3zM555 271h3v2h-3zM558 163h6v2h-6zM558 251h6v2h-6zM558 271h6v2h-6zM564 163h1v2h-1zM564 251h1v2h-1zM564 271h1v2h-1zM565 163h1v2h-1zM565 251h1v2h-1zM565 271h1v2h-1zM618 163h2v2h-2zM618 251h2v2h-2zM618 271h2v2h-2zM620 163h1v2h-1zM620 251h1v2h-1zM620 271h1v2h-1zM779 163h63v2h-63zM779 251h63v2h-63zM779 271h63v2h-63zM842 163h8v2h-8zM842 251h8v2h-8zM842 271h8v2h-8zM850 163h3v2h-3zM850 251h3v2h-3zM850 271h3v2h-3zM853 163h3v2h-3zM853 251h3v2h-3zM853 271h3v2h-3zM856 163h4v2h-4zM856 251h4v2h-4zM856 271h4v2h-4zM969 163h17v2h-17zM969 251h17v2h-17zM969 271h17v2h-17zM986 163h3v2h-3zM986 251h3v2h-3zM986 271h3v2h-3zM989 163h4v2h-4zM989 251h4v2h-4zM989 271h4v2h-4zM993 163h3v2h-3zM993 251h3v2h-3zM993 271h3v2h-3zM996 163h3v2h-3zM996 251h3v2h-3zM996 271h3v2h-3zM999 163h3v2h-3zM999 251h3v2h-3zM999 271h3v2h-3zM1002 163h3v2h-3zM1002 251h3v2h-3zM1002 271h3v2h-3zM1110 163h42v2h-42zM1110 251h42v2h-42zM1110 271h42v2h-42zM1152 163h4v2h-4zM1152 251h4v2h-4zM1152 271h4v2h-4zM1156 163h2v2h-2zM1156 251h2v2h-2zM1156 271h2v2h-2z"/>
<path fill="#2e0c00" d="M364 231h1v2h-1zM365 35h1v2h-1zM365 127h1v2h-1zM365 231h1v2h-1zM365 435h1v2h-1zM366 35h1v2h-1zM366 127h1v2h-1zM366 435h1v2h-1zM367 199h1v2h-1zM367 207h1v2h-1zM367 267h1v2h-1zM367 327h1v2h-1zM367 357h1v2h-1zM368 199h1v2h-1zM368 207h1v2h-1zM368 267h1v2h-1zM368 327h1v2h-1zM368 357h1v2h-1zM391 35h1v128h-1zM391 165h1v86h-1zM391 253h1v18h-1zM391 273h1v38h-1zM391 313h1v6h-1zM391 321h1v30h-1zM428 163h1v2h-1zM428 251h1v2h-1zM428 271h1v2h-1zM433 163h1v2h-1zM433 251h1v2h-1zM433 271h1v2h-1zM434 163h1v2h-1zM434 251h1v2h-1zM434 271h1v2h-1z"/>
<path fill="#4c0c00" d="M364 299h1v2h-1zM364 307h1v2h-1zM365 299h1v2h-1zM365 307h1v2h-1zM367 333h1v2h-1zM368 333h1v2h-1zM573 163h1v2h-1zM573 251h1v2h-1zM573 271h1v2h-1zM1215 163h28v2h-28zM1215 251h28v2h-28zM1215 271h28v2h-28z"/>
<path fill="#200c00" d="M364 421h1v2h-1zM365 223h1v2h-1zM365 421h1v2h-1zM366 223h1v2h-1z"/>
<path fill="#340c00" d="M365 101h1v2h-1zM366 101h1v2h-1zM366 255h1v2h-1zM366 293h1v2h-1zM366 313h1v4h-1zM367 69h1v2h-1zM367 255h1v2h-1zM367 293h1v2h-1zM367 313h1v4h-1zM367 405h1v2h-1zM368 69h1v2h-1zM368 405h1v2h-1zM439 163h1v2h-1zM439 251h1v2h-1zM439 271h1v2h-1zM440 163h1v2h-1zM440 251h1v2h-1zM440 271h1v2h-1zM441 163h1v2h-1zM441 251h1v2h-1zM441 271h1v2h-1zM621 163h2v2h-2zM621 251h2v2h-2zM621 271h2v2h-2zM720 163h1v2h-1zM720 251h1v2h-1zM720 271h1v2h-1z"/>
<path fill="#460c00" d="M365 159h1v2h-1zM366 57h1v2h-1zM366 85h1v2h-1zM366 159h1v2h-1zM366 189h1v2h-1zM366 273h1v2h-1zM367 57h1v2h-1zM367 85h1v2h-1zM367 189h1v2h-1zM367 273h1v2h-1zM1214 163h1v2h-1zM1214 251h1v2h-1zM1214 271h1v2h-1zM1243 163h1v2h-1zM1243 251h1v2h-1zM1243 271h1v2h-1z"/>
<path fill="#3a0c00" d="M365 179h1v2h-1zM365 239h1v2h-1zM366 179h1v2h-1zM366 239h1v2h-1zM366 265h1v2h-1zM367 265h1v2h-1zM423 163h1v2h-1zM423 251h1v2h-1zM423 271h1v2h-1zM445 163h1v2h-1zM445 251h1v2h-1zM445 271h1v2h-1zM505 163h1v2h-1zM505 251h1v2h-1zM505 271h1v2h-1zM506 163h1v2h-1zM506 251h1v2h-1zM506 271h1v2h-1zM566 163h1v2h-1zM566 251h1v2h-1zM566 271h1v2h-1zM722 163h1v2h-1zM722 251h1v2h-1zM722 271h1v2h-1zM778 163h1v2h-1zM778 251h1v2h-1zM778 271h1v2h-1zM968 163h1v2h-1zM968 251h1v2h-1zM968 271h1v2h-1zM1005 163h1v2h-1zM1005 251h1v2h-1zM1005 271h1v2h-1zM1025 163h1v2h-1zM1025 251h1v2h-1zM1025 271h1v2h-1zM1054 163h44v2h-44zM1054 251h44v2h-44zM1054 271h44v2h-44zM1189 163h1v2h-1zM1189 251h1v2h-1zM1189 271h1v2h-1z"/>
<path fill="#3e0c00" d="M365 181h1v2h-1zM366 153h1v2h-1zM366 181h1v6h-1zM366 257h1v2h-1zM366 263h1v2h-1zM367 153h1v2h-1zM367 183h1v4h-1zM367 201h1v2h-1zM367 209h1v2h-1zM367 257h1v2h-1zM367 263h1v2h-1zM367 269h1v2h-1zM367 355h1v2h-1zM367 399h1v2h-1zM368 201h1v2h-1zM368 209h1v2h-1zM368 269h1v2h-1zM368 355h1v2h-1zM368 399h1v2h-1zM421 163h1v2h-1zM421 251h1v2h-1zM421 271h1v2h-1zM447 163h1v2h-1zM447 251h1v2h-1zM447 271h1v2h-1zM448 163h1v2h-1zM448 251h1v2h-1zM448 271h1v2h-1zM501 163h1v2h-1zM501 251h1v2h-1zM501 271h1v2h-1zM502 163h1v2h-1zM502 251h1v2h-1zM502 271h1v2h-1zM568 163h1v2h-1zM568 251h1v2h-1zM568 271h1v2h-1zM723 163h1v2h-1zM723 251h1v2h-1zM723 271h1v2h-1z"/>
<path fill="#440c00" d="M365 225h1v2h-1zM365 253h1v2h-1zM366 87h1v2h-1zM366 139h1v2h-1zM366 225h1v2h-1zM366 253h1v2h-1zM367 87h1v2h-1zM367 139h1v2h-1zM570 163h1v2h-1zM570 251h1v2h-1zM570 271h1v2h-1zM613 163h1v2h-1zM613 251h1v2h-1zM613 271h1v2h-1zM725 163h12v2h-12zM725 251h12v2h-12zM725 271h12v2h-12zM737 163h1v2h-1zM737 251h1v2h-1zM737 271h1v2h-1zM738 163h2v2h-2zM738 251h2v2h-2zM738 271h2v2h-2zM740 163h2v2h-2zM740 251h2v2h-2zM740 271h2v2h-2zM742 163h3v2h-3zM742 251h3v2h-3zM742 271h3v2h-3zM745 163h4v2h-4zM745 251h4v2h-4zM745 271h4v2h-4zM749 163h2v2h-2zM749 251h2v2h-2zM749 271h2v2h-2zM751 163h3v2h-3zM751 251h3v2h-3zM751 271h3v2h-3zM754 163h5v2h-5zM754 251h5v2h-5zM754 271h5v2h-5zM759 163h9v2h-9zM759 251h9v2h-9zM759 271h9v2h-9zM768 163h7v2h-7zM768 251h7v2h-7zM768 271h7v2h-7zM863 163h1v2h-1zM863 251h1v2h-1zM863 271h1v2h-1zM910 163h1v2h-1zM910 251h1v2h-1zM910 271h1v2h-1zM911 163h2v2h-2zM911 251h2v2h-2zM911 271h2v2h-2zM913 163h3v2h-3zM913 251h3v2h-3zM913 271h3v2h-3zM916 163h2v2h-2zM916 251h2v2h-2zM916 271h2v2h-2zM918 163h3v2h-3zM918 251h3v2h-3zM918 271h3v2h-3zM921 163h7v2h-7zM921 251h7v2h-7zM921 271h7v2h-7zM1098 163h1v2h-1zM1098 251h1v2h-1zM1098 271h1v2h-1z"/>
<path fill="#4a0c00" d="M365 417h1v2h-1zM366 135h1v2h-1zM366 417h1v2h-1zM367 135h1v2h-1zM612 163h1v2h-1zM612 251h1v2h-1zM612 271h1v2h-1zM909 163h1v2h-1zM909 251h1v2h-1zM909 271h1v2h-1zM1007 163h1v2h-1zM1007 251h1v2h-1zM1007 271h1v2h-1zM1159 163h1v2h-1zM1159 251h1v2h-1zM1159 271h1v2h-1zM1188 163h1v2h-1zM1188 251h1v2h-1zM1188 271h1v2h-1z"/>
<path fill="#480c00" d="M366 133h1v2h-1zM366 389h1v2h-1zM367 133h1v2h-1zM367 341h1v2h-1zM367 389h1v2h-1zM368 341h1v2h-1zM864 163h1v2h-1zM864 251h1v2h-1zM864 271h1v2h-1zM1024 163h1v2h-1zM1024 251h1v2h-1zM1024 271h1v2h-1zM1108 163h1v2h-1zM1108 251h1v2h-1zM1108 271h1v2h-1zM1273 163h3v2h-3zM1273 251h3v2h-3zM1273 271h3v2h-3zM1276 163h32v2h-32zM1276 251h32v2h-32zM1276 271h32v2h-32z"/>
<path fill="#240c00" d="M366 259h1v2h-1zM367 259h1v2h-1z"/>
<path fill="#1c0c00" d="M367 329h1v2h-1zM368 329h1v2h-1z"/>
<path fill="#560c00" d="M367 371h1v2h-1zM368 371h1v2h-1zM580 163h2v2h-2zM580 251h2v2h-2zM580 271h2v2h-2zM870 163h2v2h-2zM870 251h2v2h-2zM870 271h2v2h-2zM888 163h1v2h-1zM888 251h1v2h-1zM888 271h1v2h-1zM892 163h2v2h-2zM892 251h2v2h-2zM892 271h2v2h-2zM908 163h1v2h-1zM908 251h1v2h-1zM908 271h1v2h-1z"/>
<path fill="#001e0a" d="M369 35h1v128h-1zM369 165h1v86h-1zM369 253h1v18h-1zM369 273h1v38h-1zM369 313h1v6h-1zM369 321h1v122h-1z"/>
<path fill="#001e0c" d="M370 35h16v128h-16zM370 165h16v86h-16zM370 253h16v18h-16zM370 273h16v38h-16zM370 313h16v6h-16zM370 321h16v122h-16zM386 35h2v128h-2zM386 165h2v86h-2zM386 253h2v18h-2zM386 273h2v38h-2zM386 313h2v6h-2zM386 321h2v30h-2zM388 35h2v128h-2zM388 165h2v86h-2zM388 253h2v18h-2zM388 273h2v38h-2zM388 313h2v6h-2zM388 321h2v122h-2z"/>
<path fill="#001e08" d="M390 35h1v128h-1zM390 165h1v86h-1zM390 253h1v18h-1zM390 273h1v38h-1zM390 313h1v6h-1zM390 321h1v30h-1z"/>
<path fill="#341400" d="M390 351h1v92h-1zM391 351h1v92h-1zM503 35h2v408h-2z"/>
<path fill="#741000" d="M403 35h2v248h-2z"/>
<path fill="#362600" d="M410 35h3v408h-3z"/>
<path fill="#5e1000" d="M416 35h1v408h-1z"/>
<path fill="#441400" d="M417 35h2v408h-2z"/>
<path fill="#061c00" d="M421 35h1v12h-1zM425 35h1v2h-1zM427 35h1v26h-1zM428 35h1v38h-1zM429 35h1v24h-1zM429 61h1v24h-1zM430 39h1v20h-1zM430 61h1v36h-1zM431 53h1v6h-1zM431 61h1v48h-1zM432 65h1v56h-1zM433 77h1v58h-1zM435 101h1v38h-1zM435 141h1v8h-1zM436 113h1v26h-1zM436 141h1v8h-1zM437 125h1v14h-1zM437 141h1v8h-1z"/>
<path fill="#041c00" d="M421 47h1v86h-1zM422 35h1v10h-1zM423 35h1v34h-1zM424 35h1v46h-1zM425 37h1v56h-1zM427 61h1v58h-1zM428 73h1v58h-1zM429 85h1v54h-1zM429 141h1v2h-1zM430 97h1v42h-1zM430 141h1v8h-1zM431 109h1v30h-1zM431 141h1v8h-1zM432 121h1v18h-1zM432 141h1v8h-1zM433 135h1v4h-1zM433 141h1v8h-1zM436 149h1v2h-1zM437 149h1v2h-1zM437 153h1v10h-1zM437 165h1v2h-1z"/>
<path fill="#021c00" d="M421 133h1v16h-1zM422 45h1v68h-1zM423 69h1v58h-1zM424 81h1v58h-1zM425 93h1v56h-1zM427 119h1v30h-1zM428 131h1v18h-1zM429 143h1v6h-1zM431 149h1v2h-1zM432 149h1v2h-1zM432 153h1v10h-1zM433 149h1v2h-1zM433 153h1v10h-1zM433 165h1v2h-1zM433 169h1v6h-1zM435 149h1v2h-1zM435 153h1v10h-1zM435 165h1v2h-1zM435 169h1v18h-1zM435 189h1v10h-1zM436 153h1v10h-1zM436 165h1v2h-1zM436 169h1v18h-1zM436 189h1v14h-1zM436 205h1v6h-1zM437 169h1v18h-1zM437 189h1v14h-1zM437 205h1v18h-1z"/>
<path fill="#001c00" d="M421 149h1v14h-1zM421 165h1v72h-1zM422 113h1v36h-1zM423 127h1v22h-1zM424 139h1v12h-1zM425 149h1v2h-1zM425 153h1v10h-1zM427 149h1v2h-1zM427 153h1v10h-1zM427 165h1v22h-1zM428 149h1v2h-1zM428 153h1v10h-1zM428 165h1v34h-1zM429 149h1v2h-1zM429 153h1v10h-1zM429 165h1v38h-1zM429 205h1v8h-1zM430 149h1v2h-1zM430 153h1v10h-1zM430 165h1v22h-1zM430 189h1v14h-1zM430 205h1v20h-1zM431 153h1v10h-1zM431 165h1v2h-1zM431 169h1v18h-1zM431 189h1v14h-1zM431 205h1v32h-1zM432 165h1v2h-1zM432 169h1v18h-1zM432 189h1v14h-1zM432 205h1v44h-1zM433 175h1v12h-1zM433 189h1v14h-1zM433 205h1v46h-1zM433 253h1v8h-1zM435 199h1v4h-1zM435 205h1v30h-1zM435 237h1v14h-1zM435 253h1v18h-1zM435 273h1v6h-1zM435 281h1v4h-1zM436 211h1v24h-1zM436 237h1v14h-1zM436 253h1v18h-1zM436 273h1v6h-1zM436 281h1v10h-1zM436 293h1v6h-1zM437 223h1v12h-1zM437 237h1v14h-1zM437 253h1v18h-1zM437 273h1v6h-1zM437 281h1v10h-1zM437 293h1v18h-1z"/>
<path fill="#001c02" d="M421 237h1v14h-1zM421 253h1v18h-1zM421 273h1v46h-1zM421 321h1v2h-1zM422 149h1v14h-1zM422 165h1v32h-1zM423 149h1v14h-1zM423 165h1v32h-1zM424 151h1v12h-1zM424 165h1v44h-1zM425 165h1v38h-1zM425 205h1v16h-1zM427 187h1v16h-1zM427 205h1v40h-1zM428 199h1v4h-1zM428 205h1v46h-1zM428 253h1v4h-1zM429 213h1v38h-1zM429 253h1v16h-1zM430 225h1v26h-1zM430 253h1v18h-1zM430 273h1v10h-1zM431 237h1v14h-1zM431 253h1v18h-1zM431 273h1v18h-1zM431 293h1v2h-1zM432 249h1v2h-1zM432 253h1v18h-1zM432 273h1v18h-1zM432 293h1v14h-1zM433 261h1v10h-1zM433 273h1v6h-1zM433 281h1v10h-1zM433 293h1v26h-1zM435 285h1v6h-1zM435 293h1v26h-1zM435 321h1v10h-1zM435 333h1v10h-1zM436 299h1v20h-1zM436 321h1v10h-1zM436 333h1v22h-1zM437 311h1v8h-1zM437 321h1v10h-1zM437 333h1v34h-1z"/>
<path fill="#001c04" d="M421 323h1v88h-1zM422 197h1v54h-1zM422 253h1v12h-1zM423 197h1v54h-1zM424 209h1v42h-1zM424 253h1v14h-1zM425 221h1v30h-1zM425 253h1v18h-1zM425 273h1v6h-1zM427 245h1v6h-1zM427 253h1v18h-1zM427 273h1v18h-1zM427 293h1v10h-1zM428 257h1v14h-1zM428 273h1v18h-1zM428 293h1v22h-1zM429 269h1v2h-1zM429 273h1v18h-1zM429 293h1v26h-1zM429 321h1v6h-1zM430 283h1v8h-1zM430 293h1v26h-1zM430 321h1v18h-1zM431 295h1v24h-1zM431 321h1v32h-1zM432 307h1v12h-1zM432 321h1v10h-1zM432 333h1v32h-1zM433 321h1v10h-1zM433 333h1v44h-1zM435 343h1v56h-1zM436 355h1v44h-1zM436 401h1v12h-1zM437 367h1v32h-1zM437 401h1v24h-1z"/>
<path fill="#001c06" d="M421 411h1v32h-1zM422 265h1v6h-1zM422 273h1v46h-1zM422 321h1v14h-1zM423 253h1v18h-1zM423 273h1v38h-1zM424 267h1v4h-1zM424 273h1v46h-1zM424 321h1v2h-1zM425 279h1v12h-1zM425 293h1v26h-1zM425 321h1v16h-1zM427 303h1v16h-1zM427 321h1v40h-1zM428 315h1v4h-1zM428 321h1v52h-1zM429 327h1v58h-1zM430 339h1v58h-1zM431 353h1v46h-1zM431 401h1v8h-1zM432 365h1v34h-1zM432 401h1v20h-1zM433 377h1v22h-1zM433 401h1v34h-1zM435 401h1v42h-1zM436 413h1v30h-1zM437 425h1v18h-1z"/>
<path fill="#001c08" d="M422 335h1v68h-1zM423 311h1v8h-1zM423 321h1v48h-1zM424 323h1v58h-1zM425 337h1v56h-1zM427 361h1v58h-1zM428 373h1v58h-1zM429 385h1v14h-1zM429 401h1v42h-1zM430 397h1v2h-1zM430 401h1v42h-1zM431 409h1v34h-1zM432 421h1v22h-1zM433 435h1v8h-1z"/>
<path fill="#001c0a" d="M422 403h1v40h-1zM423 369h1v58h-1zM424 381h1v58h-1zM425 393h1v50h-1zM427 419h1v24h-1zM428 431h1v12h-1z"/>
<path fill="#001c0c" d="M423 427h1v16h-1zM424 439h1v4h-1z"/>
<path fill="#121400" d="M425 151h1v2h-1zM427 151h1v2h-1zM435 203h1v2h-1zM435 235h1v2h-1zM436 203h1v2h-1zM436 235h1v2h-1zM436 279h1v2h-1zM437 203h1v2h-1zM437 235h1v2h-1zM437 279h1v2h-1zM438 203h1v2h-1zM438 235h1v2h-1zM438 279h1v2h-1zM439 203h1v2h-1zM439 235h1v2h-1zM439 279h1v2h-1zM440 203h1v2h-1zM440 279h1v2h-1zM441 203h1v2h-1zM441 279h1v2h-1zM442 203h1v2h-1zM442 279h1v2h-1zM443 203h1v2h-1zM443 279h1v2h-1zM444 203h1v2h-1zM444 279h1v2h-1zM445 203h1v2h-1zM445 279h1v2h-1zM446 203h1v2h-1zM446 279h1v2h-1zM447 203h1v2h-1zM447 279h1v2h-1zM448 203h1v2h-1zM448 279h1v2h-1zM449 279h1v2h-1zM450 279h1v2h-1zM451 279h1v2h-1zM460 347h1v2h-1zM461 347h1v2h-1zM462 347h1v2h-1zM463 347h1v2h-1zM464 311h1v2h-1zM464 347h1v2h-1zM465 311h1v2h-1zM465 347h1v2h-1zM466 311h1v2h-1zM466 347h1v2h-1zM467 311h1v2h-1zM467 347h1v2h-1zM468 291h1v2h-1zM468 311h1v2h-1zM468 347h1v2h-1zM469 291h2v2h-2zM469 311h2v2h-2zM469 347h2v2h-2zM471 291h1v2h-1zM471 311h1v2h-1zM471 347h1v2h-1zM472 311h1v2h-1zM472 347h1v2h-1zM473 311h1v2h-1zM473 347h1v2h-1zM474 311h1v2h-1zM474 347h1v2h-1zM475 347h1v2h-1zM476 347h1v2h-1zM477 347h1v2h-1zM478 347h1v2h-1zM479 347h1v2h-1zM480 347h1v2h-1zM481 347h1v2h-1zM482 347h1v2h-1zM483 347h1v2h-1zM484 347h1v2h-1zM485 347h1v2h-1zM486 347h1v2h-1zM487 347h1v2h-1zM488 279h1v2h-1zM488 347h1v2h-1zM489 279h1v2h-1zM489 347h1v2h-1zM490 279h1v2h-1zM490 347h1v2h-1zM491 203h1v2h-1zM491 279h1v2h-1zM493 203h1v2h-1zM493 279h1v2h-1zM494 203h1v2h-1zM494 279h1v2h-1zM495 203h1v2h-1zM495 279h1v2h-1zM496 203h1v2h-1zM496 279h1v2h-1zM497 203h1v2h-1zM497 279h1v2h-1zM499 203h1v2h-1zM499 279h1v2h-1zM500 203h1v2h-1zM500 235h1v2h-1zM500 279h1v2h-1zM502 151h1v2h-1zM502 167h1v2h-1zM502 187h1v2h-1zM502 223h1v2h-1zM505 59h1v2h-1zM505 67h1v2h-1zM505 95h1v2h-1zM505 139h1v2h-1zM572 187h1v2h-1zM573 151h1v2h-1zM573 279h1v2h-1zM573 347h1v2h-1zM573 363h1v2h-1zM573 415h1v2h-1zM573 431h1v2h-1zM574 151h1v2h-1zM574 235h1v2h-1zM574 279h1v2h-1zM574 347h1v2h-1zM574 363h1v2h-1zM574 431h1v2h-1zM575 151h1v2h-1zM575 235h1v2h-1zM575 279h1v2h-1zM575 347h1v2h-1zM575 363h1v2h-1zM575 431h1v2h-1zM577 151h1v2h-1zM577 235h1v2h-1zM577 279h1v2h-1zM577 347h1v2h-1zM577 363h1v2h-1zM577 431h1v2h-1zM578 151h2v2h-2zM578 235h2v2h-2zM578 279h2v2h-2zM578 347h2v2h-2zM578 363h2v2h-2zM578 431h2v2h-2zM580 151h2v2h-2zM580 235h2v2h-2zM580 279h2v2h-2zM580 347h2v2h-2zM580 363h2v2h-2zM580 431h2v2h-2zM582 151h2v2h-2zM582 235h2v2h-2zM582 279h2v2h-2zM582 347h2v2h-2zM582 363h2v2h-2zM582 431h2v2h-2zM584 151h2v2h-2zM584 235h2v2h-2zM584 279h2v2h-2zM584 363h2v2h-2zM584 431h2v2h-2zM586 151h4v2h-4zM586 235h4v2h-4zM586 279h4v2h-4zM586 363h4v2h-4zM586 431h4v2h-4zM590 151h5v2h-5zM590 279h5v2h-5zM590 363h5v2h-5zM590 431h5v2h-5zM595 279h6v2h-6zM595 363h6v2h-6zM595 431h6v2h-6zM601 279h2v2h-2z"/>
<path fill="#0e1400" d="M425 203h1v2h-1zM427 203h1v2h-1zM428 203h1v2h-1zM433 291h1v2h-1zM435 291h1v2h-1zM435 331h1v2h-1zM436 291h1v2h-1zM436 331h1v2h-1zM436 399h1v2h-1zM437 291h1v2h-1zM437 331h1v2h-1zM437 399h1v2h-1zM438 291h1v2h-1zM438 331h1v2h-1zM438 399h1v2h-1zM439 331h1v2h-1zM439 399h1v2h-1zM440 331h1v2h-1zM440 399h1v2h-1zM441 331h1v2h-1zM441 399h1v2h-1zM442 331h1v2h-1zM442 399h1v2h-1zM443 331h1v2h-1zM443 399h1v2h-1zM444 399h1v2h-1zM445 399h1v2h-1zM446 371h1v2h-1zM446 399h1v2h-1zM447 371h1v2h-1zM447 399h1v2h-1zM448 371h1v2h-1zM448 399h1v2h-1zM449 371h1v2h-1zM449 399h1v2h-1zM452 387h1v2h-1zM453 387h1v2h-1zM454 387h1v2h-1zM454 431h1v2h-1zM455 387h1v2h-1zM455 431h1v2h-1zM456 387h1v2h-1zM456 431h1v2h-1zM457 387h1v2h-1zM457 431h1v2h-1zM458 387h1v2h-1zM458 431h1v2h-1zM459 387h1v2h-1zM459 431h1v2h-1zM460 387h1v2h-1zM460 431h1v2h-1zM461 387h1v2h-1zM461 431h1v2h-1zM462 387h1v2h-1zM462 431h1v2h-1zM463 387h1v2h-1zM463 431h1v2h-1zM464 387h1v2h-1zM464 431h1v2h-1zM465 387h1v2h-1zM465 431h1v2h-1zM466 387h1v2h-1zM467 387h1v2h-1zM468 387h1v2h-1zM469 387h2v2h-2zM471 387h1v2h-1zM472 387h1v2h-1zM473 387h1v2h-1zM474 387h1v2h-1zM474 431h1v2h-1zM475 387h1v2h-1zM475 431h1v2h-1zM476 387h1v2h-1zM476 431h1v2h-1zM477 387h1v2h-1zM477 431h1v2h-1zM478 387h1v2h-1zM478 431h1v2h-1zM479 387h1v2h-1zM479 431h1v2h-1zM480 387h1v2h-1zM480 431h1v2h-1zM481 387h1v2h-1zM481 431h1v2h-1zM482 387h1v2h-1zM482 431h1v2h-1zM483 387h1v2h-1zM483 431h1v2h-1zM484 387h1v2h-1zM484 431h1v2h-1zM485 387h1v2h-1zM485 431h1v2h-1zM486 387h1v2h-1zM486 431h1v2h-1zM487 387h1v2h-1zM487 431h1v2h-1zM488 387h1v2h-1zM488 431h1v2h-1zM489 387h1v2h-1zM489 431h1v2h-1zM490 371h1v2h-1zM490 387h1v2h-1zM490 399h1v2h-1zM490 431h1v2h-1zM491 371h1v2h-1zM491 387h1v2h-1zM491 399h1v2h-1zM491 431h1v2h-1zM493 371h1v2h-1zM493 387h1v2h-1zM493 399h1v2h-1zM493 431h1v2h-1zM494 371h1v2h-1zM494 387h1v2h-1zM494 399h1v2h-1zM494 431h1v2h-1zM495 371h1v2h-1zM495 387h1v2h-1zM495 399h1v2h-1zM495 431h1v2h-1zM496 331h1v2h-1zM496 371h1v2h-1zM496 387h1v2h-1zM496 399h1v2h-1zM496 431h1v2h-1zM497 331h1v2h-1zM497 363h1v2h-1zM497 371h1v2h-1zM497 387h1v2h-1zM497 399h1v2h-1zM497 431h1v2h-1zM499 331h1v2h-1zM499 363h1v2h-1zM499 371h1v2h-1zM499 399h1v2h-1zM499 415h1v2h-1zM499 431h1v2h-1zM500 291h1v2h-1zM500 311h1v2h-1zM500 331h1v2h-1zM500 363h1v2h-1zM500 371h1v2h-1zM500 399h1v2h-1zM500 415h1v2h-1zM501 347h1v2h-1zM502 203h1v2h-1zM502 235h1v2h-1zM502 279h1v2h-1zM505 151h1v2h-1zM505 167h1v2h-1zM505 187h1v2h-1zM506 123h1v2h-1zM507 59h1v2h-1zM507 67h1v2h-1zM507 95h1v2h-1zM507 139h1v2h-1zM567 139h1v2h-1zM569 187h1v2h-1zM569 347h1v2h-1zM569 415h1v2h-1zM569 431h1v2h-1zM570 151h1v2h-1zM570 235h1v2h-1zM570 279h1v2h-1zM570 347h1v2h-1zM570 363h1v2h-1zM570 431h1v2h-1z"/>
<path fill="#0a1400" d="M425 291h1v2h-1zM501 387h1v2h-1zM501 431h1v2h-1zM502 331h1v2h-1zM502 363h1v2h-1zM502 371h1v2h-1zM502 399h1v2h-1zM502 415h1v2h-1zM502 431h1v2h-1zM505 203h1v2h-1zM505 235h1v2h-1zM505 279h1v2h-1zM506 235h1v2h-1zM507 151h1v2h-1zM507 167h1v2h-1zM507 223h1v2h-1zM508 151h1v2h-1zM508 187h1v2h-1zM508 223h1v2h-1zM509 59h1v2h-1zM509 67h1v2h-1zM509 95h1v2h-1zM509 123h1v2h-1zM510 139h1v2h-1zM511 139h1v2h-1zM512 139h16v2h-16zM528 139h8v2h-8zM536 139h3v2h-3zM539 139h4v2h-4zM543 139h2v2h-2zM545 139h9v2h-9zM554 139h1v2h-1zM555 139h3v2h-3zM558 139h6v2h-6zM564 139h1v2h-1zM565 187h1v2h-1zM565 415h1v2h-1zM566 187h1v2h-1zM566 347h1v2h-1zM566 415h1v2h-1zM566 431h1v2h-1zM567 151h1v2h-1zM567 235h1v2h-1zM567 279h1v2h-1zM567 347h1v2h-1zM567 363h1v2h-1zM567 431h1v2h-1zM568 235h1v2h-1zM568 363h1v2h-1zM568 387h1v2h-1zM569 387h1v2h-1z"/>
<path fill="#0c1400" d="M427 291h1v2h-1zM428 291h1v2h-1zM429 291h1v2h-1zM429 399h1v2h-1zM430 291h1v2h-1zM430 399h1v2h-1zM431 291h1v2h-1zM431 399h1v2h-1zM432 291h1v2h-1zM432 331h1v2h-1zM432 399h1v2h-1zM433 331h1v2h-1zM433 399h1v2h-1zM435 399h1v2h-1zM499 387h1v2h-1zM500 387h1v2h-1zM500 431h1v2h-1zM501 291h1v2h-1zM501 311h1v2h-1zM501 331h1v2h-1zM501 363h1v2h-1zM501 371h1v2h-1zM501 399h1v2h-1zM501 415h1v2h-1zM502 291h1v2h-1zM502 311h1v2h-1zM502 347h1v2h-1zM505 223h1v2h-1zM506 151h1v2h-1zM506 167h1v2h-1zM506 187h1v2h-1zM506 223h1v2h-1zM507 123h1v2h-1zM507 187h1v2h-1zM508 59h1v2h-1zM508 67h1v2h-1zM508 95h1v2h-1zM508 123h1v2h-1zM508 139h1v2h-1zM509 139h1v2h-1zM565 139h1v2h-1zM566 139h1v2h-1zM567 187h1v2h-1zM567 415h1v2h-1zM568 151h1v2h-1zM568 187h1v2h-1zM568 279h1v2h-1zM568 347h1v2h-1zM568 415h1v2h-1zM568 431h1v2h-1zM569 151h1v2h-1zM569 235h1v2h-1zM569 279h1v2h-1zM569 363h1v2h-1zM570 387h1v2h-1z"/>
<path fill="#141400" d="M428 151h1v2h-1zM429 151h1v2h-1zM430 151h1v2h-1zM430 187h1v2h-1zM431 151h1v2h-1zM431 167h1v2h-1zM431 187h1v2h-1zM432 151h1v2h-1zM432 167h1v2h-1zM432 187h1v2h-1zM433 151h1v2h-1zM433 167h1v2h-1zM433 187h1v2h-1zM435 167h1v2h-1zM440 235h1v2h-1zM441 235h1v2h-1zM442 235h1v2h-1zM443 235h1v2h-1zM444 235h1v2h-1zM445 235h1v2h-1zM446 235h1v2h-1zM447 235h1v2h-1zM448 235h1v2h-1zM449 203h1v2h-1zM449 235h1v2h-1zM450 203h1v2h-1zM450 235h1v2h-1zM451 203h1v2h-1zM451 235h1v2h-1zM452 203h1v2h-1zM452 235h1v2h-1zM452 279h1v2h-1zM453 203h1v2h-1zM453 235h1v2h-1zM453 279h1v2h-1zM454 203h1v2h-1zM454 235h1v2h-1zM454 279h1v2h-1zM455 203h1v2h-1zM455 235h1v2h-1zM455 279h1v2h-1zM456 203h1v2h-1zM456 235h1v2h-1zM456 279h1v2h-1zM457 203h1v2h-1zM457 235h1v2h-1zM457 279h1v2h-1zM458 203h1v2h-1zM458 235h1v2h-1zM458 279h1v2h-1zM459 203h1v2h-1zM459 235h1v2h-1zM459 279h1v2h-1zM460 203h1v2h-1zM460 235h1v2h-1zM460 279h1v2h-1zM461 203h1v2h-1zM461 235h1v2h-1zM461 279h1v2h-1zM462 203h1v2h-1zM462 235h1v2h-1zM462 279h1v2h-1zM463 203h1v2h-1zM463 235h1v2h-1zM463 279h1v2h-1zM464 203h1v2h-1zM464 235h1v2h-1zM464 279h1v2h-1zM465 203h1v2h-1zM465 235h1v2h-1zM465 279h1v2h-1zM466 203h1v2h-1zM466 235h1v2h-1zM466 279h1v2h-1zM467 203h1v2h-1zM467 235h1v2h-1zM467 279h1v2h-1zM468 203h1v2h-1zM468 235h1v2h-1zM468 279h1v2h-1zM469 203h2v2h-2zM469 235h2v2h-2zM469 279h2v2h-2zM471 203h1v2h-1zM471 235h1v2h-1zM471 279h1v2h-1zM472 203h1v2h-1zM472 235h1v2h-1zM472 279h1v2h-1zM473 203h1v2h-1zM473 235h1v2h-1zM473 279h1v2h-1zM474 203h1v2h-1zM474 235h1v2h-1zM474 279h1v2h-1zM475 203h1v2h-1zM476 203h1v2h-1zM477 203h1v2h-1zM477 235h1v2h-1zM477 279h1v2h-1zM478 203h1v2h-1zM478 235h1v2h-1zM478 279h1v2h-1zM479 203h1v2h-1zM479 235h1v2h-1zM479 279h1v2h-1zM480 203h1v2h-1zM480 235h1v2h-1zM480 279h1v2h-1zM481 203h1v2h-1zM481 235h1v2h-1zM481 279h1v2h-1zM482 203h1v2h-1zM482 235h1v2h-1zM482 279h1v2h-1zM483 203h1v2h-1zM483 235h1v2h-1zM483 279h1v2h-1zM484 203h1v2h-1zM484 235h1v2h-1zM484 279h1v2h-1zM485 203h1v2h-1zM485 235h1v2h-1zM485 279h1v2h-1zM486 203h1v2h-1zM486 235h1v2h-1zM486 279h1v2h-1zM487 203h1v2h-1zM487 235h1v2h-1zM487 279h1v2h-1zM488 203h1v2h-1zM488 235h1v2h-1zM489 203h1v2h-1zM489 235h1v2h-1zM490 203h1v2h-1zM490 235h1v2h-1zM491 235h1v2h-1zM493 235h1v2h-1zM494 235h1v2h-1zM495 235h1v2h-1zM496 235h1v2h-1zM497 235h1v2h-1zM499 235h1v2h-1zM500 223h1v2h-1zM501 151h1v2h-1zM501 167h1v2h-1zM501 187h1v2h-1zM501 223h1v2h-1zM573 187h1v2h-1zM574 187h1v2h-1zM574 415h1v2h-1zM575 187h1v2h-1zM575 415h1v2h-1z"/>
<path fill="#181400" d="M429 59h1v2h-1zM429 139h1v2h-1zM430 59h1v2h-1zM430 139h1v2h-1zM431 59h1v2h-1zM431 139h1v2h-1zM432 59h1v2h-1zM432 139h1v2h-1zM433 59h1v2h-1zM433 139h1v2h-1zM442 187h1v2h-1zM443 187h1v2h-1zM444 151h1v2h-1zM444 187h1v2h-1zM445 151h1v2h-1zM445 187h1v2h-1zM446 151h1v2h-1zM446 187h1v2h-1zM447 151h1v2h-1zM447 187h1v2h-1zM448 151h1v2h-1zM448 187h1v2h-1zM449 151h1v2h-1zM449 187h1v2h-1zM450 151h1v2h-1zM450 187h1v2h-1zM451 151h1v2h-1zM451 187h1v2h-1zM452 151h1v2h-1zM452 167h1v2h-1zM452 187h1v2h-1zM453 151h1v2h-1zM453 167h1v2h-1zM453 187h1v2h-1zM454 151h1v2h-1zM454 167h1v2h-1zM454 187h1v2h-1zM455 151h1v2h-1zM455 167h1v2h-1zM455 187h1v2h-1zM456 151h1v2h-1zM456 167h1v2h-1zM456 187h1v2h-1zM457 151h1v2h-1zM457 167h1v2h-1zM457 187h1v2h-1zM458 151h1v2h-1zM458 167h1v2h-1zM458 187h1v2h-1zM459 151h1v2h-1zM459 167h1v2h-1zM459 187h1v2h-1zM460 151h1v2h-1zM460 167h1v2h-1zM460 187h1v2h-1zM461 151h1v2h-1zM461 167h1v2h-1zM461 187h1v2h-1zM462 151h1v2h-1zM462 167h1v2h-1zM462 187h1v2h-1zM463 151h1v2h-1zM463 167h1v2h-1zM463 187h1v2h-1zM464 151h1v2h-1zM464 167h1v2h-1zM464 187h1v2h-1zM464 223h1v2h-1zM465 151h1v2h-1zM465 167h1v2h-1zM465 187h1v2h-1zM465 223h1v2h-1zM466 151h1v2h-1zM466 167h1v2h-1zM466 187h1v2h-1zM466 223h1v2h-1zM467 151h1v2h-1zM467 167h1v2h-1zM467 187h1v2h-1zM467 223h1v2h-1zM468 151h1v2h-1zM468 167h1v2h-1zM468 187h1v2h-1zM468 223h1v2h-1zM469 151h2v2h-2zM469 167h2v2h-2zM469 187h2v2h-2zM469 223h2v2h-2zM471 151h1v2h-1zM471 167h1v2h-1zM471 187h1v2h-1zM471 223h1v2h-1zM472 151h1v2h-1zM472 167h1v2h-1zM472 187h1v2h-1zM472 223h1v2h-1zM473 151h1v2h-1zM473 167h1v2h-1zM473 187h1v2h-1zM473 223h1v2h-1zM474 151h1v2h-1zM474 167h1v2h-1zM474 187h1v2h-1zM474 223h1v2h-1zM475 151h1v2h-1zM475 167h1v2h-1zM475 187h1v2h-1zM476 151h1v2h-1zM476 167h1v2h-1zM476 187h1v2h-1zM477 151h1v2h-1zM477 167h1v2h-1zM477 187h1v2h-1zM478 151h1v2h-1zM478 167h1v2h-1zM478 187h1v2h-1zM479 151h1v2h-1zM479 167h1v2h-1zM479 187h1v2h-1zM480 151h1v2h-1zM480 167h1v2h-1zM480 187h1v2h-1zM481 151h1v2h-1zM481 167h1v2h-1zM481 187h1v2h-1zM482 151h1v2h-1zM482 167h1v2h-1zM482 187h1v2h-1zM483 151h1v2h-1zM483 167h1v2h-1zM483 187h1v2h-1zM484 151h1v2h-1zM484 167h1v2h-1zM484 187h1v2h-1zM485 151h1v2h-1zM485 167h1v2h-1zM485 187h1v2h-1zM486 151h1v2h-1zM486 167h1v2h-1zM486 187h1v2h-1zM487 151h1v2h-1zM487 167h1v2h-1zM487 187h1v2h-1zM488 151h1v2h-1zM488 187h1v2h-1zM489 151h1v2h-1zM489 187h1v2h-1zM490 151h1v2h-1zM490 187h1v2h-1zM491 151h1v2h-1zM491 187h1v2h-1zM493 151h1v2h-1zM493 187h1v2h-1zM494 151h1v2h-1zM494 187h1v2h-1zM495 151h1v2h-1zM495 187h1v2h-1zM496 187h1v2h-1zM497 187h1v2h-1zM500 123h1v2h-1zM501 59h1v2h-1zM501 67h1v2h-1zM501 95h1v2h-1zM501 139h1v2h-1z"/>
<path fill="#2c0c00" d="M429 163h1v2h-1zM429 251h1v2h-1zM429 271h1v2h-1zM431 163h1v2h-1zM431 251h1v2h-1zM431 271h1v2h-1zM432 163h1v2h-1zM432 251h1v2h-1zM432 271h1v2h-1z"/>
<path fill="#101400" d="M429 203h1v2h-1zM430 203h1v2h-1zM431 203h1v2h-1zM432 203h1v2h-1zM433 203h1v2h-1zM433 279h1v2h-1zM435 279h1v2h-1zM439 291h1v2h-1zM440 291h1v2h-1zM441 291h1v2h-1zM442 291h1v2h-1zM443 291h1v2h-1zM444 291h1v2h-1zM444 331h1v2h-1zM445 291h1v2h-1zM445 331h1v2h-1zM446 291h1v2h-1zM446 331h1v2h-1zM447 291h1v2h-1zM447 331h1v2h-1zM448 291h1v2h-1zM448 331h1v2h-1zM448 363h1v2h-1zM449 291h1v2h-1zM449 331h1v2h-1zM449 363h1v2h-1zM450 291h1v2h-1zM450 331h1v2h-1zM450 363h1v2h-1zM450 371h1v2h-1zM450 399h1v2h-1zM451 291h1v2h-1zM451 331h1v2h-1zM451 363h1v2h-1zM451 371h1v2h-1zM451 399h1v2h-1zM452 291h1v2h-1zM452 331h1v2h-1zM452 363h1v2h-1zM452 371h1v2h-1zM452 399h1v2h-1zM453 291h1v2h-1zM453 331h1v2h-1zM453 363h1v2h-1zM453 371h1v2h-1zM453 399h1v2h-1zM454 291h1v2h-1zM454 311h1v2h-1zM454 331h1v2h-1zM454 363h1v2h-1zM454 371h1v2h-1zM454 399h1v2h-1zM455 291h1v2h-1zM455 311h1v2h-1zM455 331h1v2h-1zM455 363h1v2h-1zM455 371h1v2h-1zM455 399h1v2h-1zM455 415h1v2h-1zM456 291h1v2h-1zM456 311h1v2h-1zM456 331h1v2h-1zM456 363h1v2h-1zM456 371h1v2h-1zM456 399h1v2h-1zM456 415h1v2h-1zM457 291h1v2h-1zM457 311h1v2h-1zM457 331h1v2h-1zM457 363h1v2h-1zM457 371h1v2h-1zM457 399h1v2h-1zM457 415h1v2h-1zM458 291h1v2h-1zM458 311h1v2h-1zM458 331h1v2h-1zM458 363h1v2h-1zM458 371h1v2h-1zM458 399h1v2h-1zM458 415h1v2h-1zM459 291h1v2h-1zM459 311h1v2h-1zM459 331h1v2h-1zM459 363h1v2h-1zM459 371h1v2h-1zM459 399h1v2h-1zM459 415h1v2h-1zM460 291h1v2h-1zM460 311h1v2h-1zM460 331h1v2h-1zM460 363h1v2h-1zM460 371h1v2h-1zM460 399h1v2h-1zM460 415h1v2h-1zM461 291h1v2h-1zM461 311h1v2h-1zM461 331h1v2h-1zM461 363h1v2h-1zM461 371h1v2h-1zM461 399h1v2h-1zM461 415h1v2h-1zM462 291h1v2h-1zM462 311h1v2h-1zM462 331h1v2h-1zM462 363h1v2h-1zM462 371h1v2h-1zM462 399h1v2h-1zM462 415h1v2h-1zM463 291h1v2h-1zM463 311h1v2h-1zM463 331h1v2h-1zM463 363h1v2h-1zM463 371h1v2h-1zM463 399h1v2h-1zM463 415h1v2h-1zM464 291h1v2h-1zM464 331h1v2h-1zM464 363h1v2h-1zM464 371h1v2h-1zM464 399h1v2h-1zM464 415h1v2h-1zM465 291h1v2h-1zM465 331h1v2h-1zM465 363h1v2h-1zM465 371h1v2h-1zM465 399h1v2h-1zM465 415h1v2h-1zM466 291h1v2h-1zM466 331h1v2h-1zM466 363h1v2h-1zM466 371h1v2h-1zM466 399h1v2h-1zM466 415h1v2h-1zM466 431h1v2h-1zM467 291h1v2h-1zM467 331h1v2h-1zM467 363h1v2h-1zM467 371h1v2h-1zM467 399h1v2h-1zM467 415h1v2h-1zM467 431h1v2h-1zM468 331h1v2h-1zM468 363h1v2h-1zM468 371h1v2h-1zM468 399h1v2h-1zM468 415h1v2h-1zM468 431h1v2h-1zM469 331h2v2h-2zM469 363h2v2h-2zM469 371h2v2h-2zM469 399h2v2h-2zM469 415h2v2h-2zM469 431h2v2h-2zM471 331h1v2h-1zM471 363h1v2h-1zM471 371h1v2h-1zM471 399h1v2h-1zM471 415h1v2h-1zM471 431h1v2h-1zM472 291h1v2h-1zM472 331h1v2h-1zM472 363h1v2h-1zM472 371h1v2h-1zM472 399h1v2h-1zM472 415h1v2h-1zM472 431h1v2h-1zM473 291h1v2h-1zM473 331h1v2h-1zM473 363h1v2h-1zM473 371h1v2h-1zM473 399h1v2h-1zM473 415h1v2h-1zM473 431h1v2h-1zM474 291h1v2h-1zM474 331h1v2h-1zM474 363h1v2h-1zM474 371h1v2h-1zM474 399h1v2h-1zM474 415h1v2h-1zM475 331h1v2h-1zM475 363h1v2h-1zM475 371h1v2h-1zM475 399h1v2h-1zM475 415h1v2h-1zM476 331h1v2h-1zM476 363h1v2h-1zM476 371h1v2h-1zM476 399h1v2h-1zM476 415h1v2h-1zM477 291h1v2h-1zM477 311h1v2h-1zM477 331h1v2h-1zM477 363h1v2h-1zM477 371h1v2h-1zM477 399h1v2h-1zM477 415h1v2h-1zM478 291h1v2h-1zM478 311h1v2h-1zM478 331h1v2h-1zM478 363h1v2h-1zM478 371h1v2h-1zM478 399h1v2h-1zM478 415h1v2h-1zM479 291h1v2h-1zM479 311h1v2h-1zM479 331h1v2h-1zM479 363h1v2h-1zM479 371h1v2h-1zM479 399h1v2h-1zM479 415h1v2h-1zM480 291h1v2h-1zM480 311h1v2h-1zM480 331h1v2h-1zM480 363h1v2h-1zM480 371h1v2h-1zM480 399h1v2h-1zM480 415h1v2h-1zM481 291h1v2h-1zM481 311h1v2h-1zM481 331h1v2h-1zM481 363h1v2h-1zM481 371h1v2h-1zM481 399h1v2h-1zM481 415h1v2h-1zM482 291h1v2h-1zM482 311h1v2h-1zM482 331h1v2h-1zM482 363h1v2h-1zM482 371h1v2h-1zM482 399h1v2h-1zM482 415h1v2h-1zM483 291h1v2h-1zM483 311h1v2h-1zM483 331h1v2h-1zM483 363h1v2h-1zM483 371h1v2h-1zM483 399h1v2h-1zM483 415h1v2h-1zM484 291h1v2h-1zM484 311h1v2h-1zM484 331h1v2h-1zM484 363h1v2h-1zM484 371h1v2h-1zM484 399h1v2h-1zM484 415h1v2h-1zM485 291h1v2h-1zM485 311h1v2h-1zM485 331h1v2h-1zM485 363h1v2h-1zM485 371h1v2h-1zM485 399h1v2h-1zM485 415h1v2h-1zM486 291h1v2h-1zM486 311h1v2h-1zM486 331h1v2h-1zM486 363h1v2h-1zM486 371h1v2h-1zM486 399h1v2h-1zM486 415h1v2h-1zM487 291h1v2h-1zM487 311h1v2h-1zM487 331h1v2h-1zM487 363h1v2h-1zM487 371h1v2h-1zM487 399h1v2h-1zM487 415h1v2h-1zM488 291h1v2h-1zM488 311h1v2h-1zM488 331h1v2h-1zM488 363h1v2h-1zM488 371h1v2h-1zM488 399h1v2h-1zM488 415h1v2h-1zM489 291h1v2h-1zM489 311h1v2h-1zM489 331h1v2h-1zM489 363h1v2h-1zM489 371h1v2h-1zM489 399h1v2h-1zM489 415h1v2h-1zM490 291h1v2h-1zM490 311h1v2h-1zM490 331h1v2h-1zM490 363h1v2h-1zM490 415h1v2h-1zM491 291h1v2h-1zM491 311h1v2h-1zM491 331h1v2h-1zM491 347h1v2h-1zM491 363h1v2h-1zM491 415h1v2h-1zM493 291h1v2h-1zM493 311h1v2h-1zM493 331h1v2h-1zM493 347h1v2h-1zM493 363h1v2h-1zM493 415h1v2h-1zM494 291h1v2h-1zM494 311h1v2h-1zM494 331h1v2h-1zM494 347h1v2h-1zM494 363h1v2h-1zM494 415h1v2h-1zM495 291h1v2h-1zM495 311h1v2h-1zM495 331h1v2h-1zM495 347h1v2h-1zM495 363h1v2h-1zM495 415h1v2h-1zM496 291h1v2h-1zM496 311h1v2h-1zM496 347h1v2h-1zM496 363h1v2h-1zM496 415h1v2h-1zM497 291h1v2h-1zM497 311h1v2h-1zM497 347h1v2h-1zM497 415h1v2h-1zM499 291h1v2h-1zM499 311h1v2h-1zM499 347h1v2h-1zM500 347h1v2h-1zM501 203h1v2h-1zM501 235h1v2h-1zM501 279h1v2h-1zM505 123h1v2h-1zM506 59h1v2h-1zM506 67h1v2h-1zM506 95h1v2h-1zM506 139h1v2h-1zM570 187h1v2h-1zM570 415h1v2h-1zM571 187h1v2h-1zM573 235h1v2h-1zM573 387h1v2h-1zM574 387h1v2h-1zM575 387h1v2h-1zM577 387h1v2h-1zM578 387h2v2h-2zM580 387h2v2h-2zM582 387h2v2h-2zM584 387h2v2h-2zM586 387h4v2h-4zM590 235h5v2h-5zM590 387h5v2h-5zM595 235h6v2h-6zM595 387h6v2h-6zM601 235h2v2h-2zM601 363h2v2h-2zM601 387h2v2h-2zM603 235h4v2h-4zM603 363h4v2h-4zM603 387h4v2h-4zM607 363h3v2h-3zM607 387h3v2h-3zM610 363h1v2h-1zM610 387h1v2h-1zM611 363h1v2h-1zM611 387h1v2h-1zM612 387h1v2h-1zM613 387h1v2h-1zM614 387h1v2h-1zM615 387h2v2h-2z"/>
<path fill="#260c00" d="M434 35h1v24h-1zM434 61h1v78h-1zM434 141h1v10h-1zM434 153h1v10h-1zM434 165h1v2h-1zM434 169h1v18h-1zM434 189h1v14h-1zM434 205h1v30h-1zM434 237h1v14h-1zM434 253h1v18h-1zM434 273h1v6h-1zM434 281h1v10h-1zM434 293h1v26h-1zM434 321h1v10h-1zM434 333h1v66h-1zM434 401h1v42h-1zM492 35h1v24h-1zM492 61h1v6h-1zM492 69h1v26h-1zM492 97h1v26h-1zM492 125h1v14h-1zM492 141h1v10h-1zM492 153h1v10h-1zM492 165h1v2h-1zM492 169h1v18h-1zM492 189h1v14h-1zM492 205h1v18h-1zM492 225h1v10h-1zM492 237h1v14h-1zM492 253h1v18h-1zM492 273h1v6h-1zM492 281h1v10h-1zM492 293h1v18h-1zM492 313h1v6h-1zM492 321h1v10h-1zM492 333h1v14h-1zM492 349h1v14h-1zM492 365h1v6h-1zM492 373h1v14h-1zM492 389h1v10h-1zM492 401h1v14h-1zM492 417h1v14h-1zM492 433h1v10h-1zM576 35h1v116h-1zM576 153h1v10h-1zM576 165h1v70h-1zM576 237h1v14h-1zM576 253h1v18h-1zM576 273h1v6h-1zM576 281h1v38h-1zM576 321h1v26h-1zM576 349h1v14h-1zM576 365h1v22h-1zM576 389h1v26h-1zM576 417h1v14h-1zM576 433h1v10h-1z"/>
<path fill="#201400" d="M434 59h1v2h-1zM434 139h1v2h-1zM434 151h1v2h-1zM434 167h1v2h-1zM434 187h1v2h-1zM434 203h1v2h-1zM434 235h1v2h-1zM434 279h1v2h-1zM434 291h1v2h-1zM434 331h1v2h-1zM434 399h1v2h-1zM492 59h1v2h-1zM492 67h1v2h-1zM492 95h1v2h-1zM492 123h1v2h-1zM492 139h1v2h-1zM492 151h1v2h-1zM492 167h1v2h-1zM492 187h1v2h-1zM492 203h1v2h-1zM492 223h1v2h-1zM492 235h1v2h-1zM492 279h1v2h-1zM492 291h1v2h-1zM492 311h1v2h-1zM492 331h1v2h-1zM492 347h1v2h-1zM492 363h1v2h-1zM492 371h1v2h-1zM492 387h1v2h-1zM492 399h1v2h-1zM492 415h1v2h-1zM492 431h1v2h-1zM576 151h1v2h-1zM576 235h1v2h-1zM576 279h1v2h-1zM576 347h1v2h-1zM576 363h1v2h-1zM576 387h1v2h-1zM576 415h1v2h-1zM576 431h1v2h-1z"/>
<path fill="#0a1c00" d="M435 35h1v8h-1zM436 35h1v20h-1zM437 35h1v24h-1zM437 61h1v8h-1z"/>
<path fill="#1a1400" d="M435 59h1v2h-1zM435 139h1v2h-1zM436 59h1v2h-1zM436 139h1v2h-1zM437 59h1v2h-1zM437 139h1v2h-1zM438 59h1v2h-1zM438 139h1v2h-1zM439 59h1v2h-1zM439 95h1v2h-1zM439 139h1v2h-1zM440 59h1v2h-1zM440 95h1v2h-1zM440 139h1v2h-1zM441 59h1v2h-1zM441 95h1v2h-1zM441 139h1v2h-1zM442 59h1v2h-1zM442 95h1v2h-1zM442 139h1v2h-1zM443 59h1v2h-1zM443 95h1v2h-1zM443 139h1v2h-1zM444 59h1v2h-1zM444 95h1v2h-1zM444 139h1v2h-1zM445 59h1v2h-1zM445 95h1v2h-1zM445 139h1v2h-1zM446 59h1v2h-1zM446 95h1v2h-1zM446 139h1v2h-1zM447 59h1v2h-1zM447 95h1v2h-1zM447 139h1v2h-1zM448 95h1v2h-1zM448 139h1v2h-1zM449 95h1v2h-1zM450 95h1v2h-1zM451 123h1v2h-1zM452 123h1v2h-1zM453 123h1v2h-1zM454 123h1v2h-1zM455 123h1v2h-1zM456 123h1v2h-1zM457 123h1v2h-1zM458 123h1v2h-1zM459 123h1v2h-1zM460 123h1v2h-1zM461 123h1v2h-1zM462 123h1v2h-1zM463 123h1v2h-1zM464 123h1v2h-1zM465 123h1v2h-1zM466 123h1v2h-1zM473 123h1v2h-1zM474 123h1v2h-1zM475 123h1v2h-1zM476 123h1v2h-1zM477 123h1v2h-1zM478 123h1v2h-1zM479 123h1v2h-1zM480 123h1v2h-1zM481 123h1v2h-1zM482 123h1v2h-1zM483 123h1v2h-1zM484 123h1v2h-1zM485 123h1v2h-1zM486 123h1v2h-1zM487 123h1v2h-1zM488 123h1v2h-1zM489 95h1v2h-1zM489 123h1v2h-1zM490 95h1v2h-1zM490 123h1v2h-1zM491 95h1v2h-1zM491 123h1v2h-1zM491 139h1v2h-1zM493 59h1v2h-1zM493 95h1v2h-1zM493 123h1v2h-1zM493 139h1v2h-1zM494 59h1v2h-1zM494 95h1v2h-1zM494 123h1v2h-1zM494 139h1v2h-1zM495 59h1v2h-1zM495 95h1v2h-1zM495 123h1v2h-1zM495 139h1v2h-1zM496 59h1v2h-1zM496 95h1v2h-1zM496 123h1v2h-1zM496 139h1v2h-1zM497 59h1v2h-1zM497 95h1v2h-1zM497 123h1v2h-1zM497 139h1v2h-1zM499 59h1v2h-1zM499 95h1v2h-1zM499 123h1v2h-1zM499 139h1v2h-1zM500 59h1v2h-1zM500 67h1v2h-1zM500 95h1v2h-1zM500 139h1v2h-1z"/>
<path fill="#161400" d="M435 151h1v2h-1zM435 187h1v2h-1zM436 151h1v2h-1zM436 167h1v2h-1zM436 187h1v2h-1zM437 151h1v2h-1zM437 167h1v2h-1zM437 187h1v2h-1zM438 151h1v2h-1zM438 167h1v2h-1zM438 187h1v2h-1zM439 151h1v2h-1zM439 167h1v2h-1zM439 187h1v2h-1zM439 223h1v2h-1zM440 151h1v2h-1zM440 167h1v2h-1zM440 187h1v2h-1zM440 223h1v2h-1zM441 151h1v2h-1zM441 167h1v2h-1zM441 187h1v2h-1zM441 223h1v2h-1zM442 151h1v2h-1zM442 167h1v2h-1zM442 223h1v2h-1zM443 151h1v2h-1zM443 167h1v2h-1zM443 223h1v2h-1zM444 167h1v2h-1zM444 223h1v2h-1zM445 167h1v2h-1zM445 223h1v2h-1zM446 167h1v2h-1zM446 223h1v2h-1zM447 167h1v2h-1zM447 223h1v2h-1zM448 167h1v2h-1zM448 223h1v2h-1zM449 167h1v2h-1zM449 223h1v2h-1zM450 167h1v2h-1zM450 223h1v2h-1zM451 167h1v2h-1zM451 223h1v2h-1zM452 223h1v2h-1zM453 223h1v2h-1zM454 223h1v2h-1zM455 223h1v2h-1zM456 223h1v2h-1zM457 223h1v2h-1zM458 223h1v2h-1zM459 223h1v2h-1zM460 223h1v2h-1zM461 223h1v2h-1zM462 223h1v2h-1zM463 223h1v2h-1zM477 223h1v2h-1zM478 223h1v2h-1zM479 223h1v2h-1zM480 223h1v2h-1zM481 223h1v2h-1zM482 223h1v2h-1zM483 223h1v2h-1zM484 223h1v2h-1zM485 223h1v2h-1zM486 223h1v2h-1zM487 223h1v2h-1zM488 167h1v2h-1zM488 223h1v2h-1zM489 167h1v2h-1zM489 223h1v2h-1zM490 167h1v2h-1zM490 223h1v2h-1zM491 167h1v2h-1zM491 223h1v2h-1zM493 167h1v2h-1zM493 223h1v2h-1zM494 167h1v2h-1zM494 223h1v2h-1zM495 167h1v2h-1zM495 223h1v2h-1zM496 151h1v2h-1zM496 167h1v2h-1zM496 223h1v2h-1zM497 151h1v2h-1zM497 167h1v2h-1zM497 223h1v2h-1zM499 151h1v2h-1zM499 167h1v2h-1zM499 187h1v2h-1zM499 223h1v2h-1zM500 151h1v2h-1zM500 167h1v2h-1zM500 187h1v2h-1zM501 123h1v2h-1zM502 59h1v2h-1zM502 67h1v2h-1zM502 95h1v2h-1zM502 123h1v2h-1zM502 139h1v2h-1z"/>
<path fill="#0a1a00" d="M438 35h1v24h-1zM438 61h1v20h-1zM439 35h1v24h-1zM439 61h1v32h-1zM440 41h1v18h-1zM440 61h1v34h-1zM440 97h1v2h-1zM441 43h1v16h-1zM441 61h1v34h-1zM441 97h1v4h-1zM442 45h1v14h-1zM442 61h1v34h-1zM442 97h1v6h-1zM443 47h1v12h-1zM443 61h1v34h-1zM443 97h1v8h-1zM444 49h1v10h-1zM444 61h1v6h-1zM444 69h1v26h-1zM444 97h1v10h-1zM445 51h1v8h-1zM445 61h1v6h-1zM445 69h1v26h-1zM445 97h1v12h-1zM446 53h1v6h-1zM446 61h1v6h-1zM446 69h1v26h-1zM446 97h1v14h-1zM447 55h1v4h-1zM447 61h1v6h-1zM447 69h1v26h-1zM447 97h1v16h-1zM448 57h1v2h-1zM448 61h1v6h-1zM448 69h1v26h-1zM448 97h1v16h-1zM449 57h1v2h-1zM449 61h1v6h-1zM449 69h1v26h-1zM449 97h1v18h-1zM450 61h1v6h-1zM450 69h1v26h-1zM450 97h1v20h-1zM451 61h1v6h-1zM451 69h1v26h-1zM451 97h1v22h-1zM452 63h1v4h-1zM452 69h1v26h-1zM452 97h1v24h-1zM453 65h1v2h-1zM453 69h1v26h-1zM453 97h1v26h-1zM454 69h1v26h-1zM454 97h1v26h-1zM455 69h1v26h-1zM455 97h1v26h-1zM455 125h1v2h-1zM456 71h1v24h-1zM456 97h1v26h-1zM456 125h1v4h-1zM457 73h1v22h-1zM457 97h1v26h-1zM457 125h1v4h-1zM458 73h1v22h-1zM458 97h1v26h-1zM458 125h1v6h-1zM459 75h1v20h-1zM459 97h1v26h-1zM459 125h1v8h-1zM460 77h1v18h-1zM460 97h1v26h-1zM460 125h1v10h-1zM461 79h1v16h-1zM461 97h1v26h-1zM461 125h1v12h-1zM462 81h1v14h-1zM462 97h1v26h-1zM462 125h1v14h-1zM463 83h1v12h-1zM463 97h1v26h-1zM463 125h1v14h-1zM464 85h1v10h-1zM464 97h1v26h-1zM464 125h1v14h-1zM464 141h1v2h-1zM465 87h1v8h-1zM465 97h1v26h-1zM465 125h1v14h-1zM465 141h1v4h-1zM466 89h1v6h-1zM466 97h1v26h-1zM466 125h1v14h-1zM466 141h1v4h-1zM467 91h1v4h-1zM467 97h1v26h-1zM467 125h1v14h-1zM467 141h1v6h-1zM468 91h1v4h-1zM468 97h1v26h-1zM468 125h1v14h-1zM468 141h1v8h-1zM469 93h2v2h-2zM469 97h2v26h-2zM469 125h2v14h-2zM469 141h2v8h-2zM471 91h1v4h-1zM471 97h1v26h-1zM471 125h1v14h-1zM471 141h1v8h-1zM472 91h1v4h-1zM472 97h1v26h-1zM472 125h1v14h-1zM472 141h1v6h-1zM473 89h1v6h-1zM473 97h1v26h-1zM473 125h1v14h-1zM473 141h1v4h-1zM474 87h1v8h-1zM474 97h1v26h-1zM474 125h1v14h-1zM474 141h1v4h-1zM475 85h1v10h-1zM475 97h1v26h-1zM475 125h1v14h-1zM475 141h1v2h-1zM476 83h1v12h-1zM476 97h1v26h-1zM476 125h1v14h-1zM477 81h1v14h-1zM477 97h1v26h-1zM477 125h1v14h-1zM478 79h1v16h-1zM478 97h1v26h-1zM478 125h1v12h-1zM479 77h1v18h-1zM479 97h1v26h-1zM479 125h1v10h-1zM480 75h1v20h-1zM480 97h1v26h-1zM480 125h1v8h-1zM481 73h1v22h-1zM481 97h1v26h-1zM481 125h1v6h-1zM482 73h1v22h-1zM482 97h1v26h-1zM482 125h1v4h-1zM483 71h1v24h-1zM483 97h1v26h-1zM483 125h1v4h-1zM484 69h1v26h-1zM484 97h1v26h-1zM484 125h1v2h-1zM485 69h1v26h-1zM485 97h1v26h-1zM486 65h1v2h-1zM486 69h1v26h-1zM486 97h1v26h-1zM487 63h1v4h-1zM487 69h1v26h-1zM487 97h1v24h-1zM488 61h1v6h-1zM488 69h1v26h-1zM488 97h1v22h-1zM489 61h1v6h-1zM489 69h1v26h-1zM489 97h1v20h-1zM490 57h1v2h-1zM490 61h1v6h-1zM490 69h1v26h-1zM490 97h1v18h-1zM491 57h1v2h-1zM491 61h1v6h-1zM491 69h1v26h-1zM491 97h1v16h-1zM493 53h1v6h-1zM493 61h1v6h-1zM493 69h1v26h-1zM493 97h1v14h-1zM494 51h1v8h-1zM494 61h1v6h-1zM494 69h1v26h-1zM494 97h1v12h-1zM495 49h1v10h-1zM495 61h1v6h-1zM495 69h1v26h-1zM495 97h1v10h-1zM496 47h1v12h-1zM496 61h1v6h-1zM496 69h1v26h-1zM496 97h1v8h-1zM497 45h1v14h-1zM497 61h1v6h-1zM497 69h1v26h-1zM497 97h1v6h-1zM499 41h1v18h-1zM499 61h1v6h-1zM499 69h1v26h-1zM499 97h1v2h-1zM500 35h1v24h-1zM500 61h1v6h-1zM500 69h1v6h-1z"/>
<path fill="#081a00" d="M438 81h1v56h-1zM439 93h1v2h-1zM439 97h1v42h-1zM439 141h1v8h-1zM440 99h1v40h-1zM440 141h1v8h-1zM441 101h1v38h-1zM441 141h1v8h-1zM442 103h1v36h-1zM442 141h1v8h-1zM443 105h1v34h-1zM443 141h1v8h-1zM444 107h1v32h-1zM444 141h1v8h-1zM445 109h1v30h-1zM445 141h1v8h-1zM446 111h1v28h-1zM446 141h1v8h-1zM447 113h1v26h-1zM447 141h1v8h-1zM448 113h1v26h-1zM448 141h1v8h-1zM449 115h1v24h-1zM449 141h1v8h-1zM450 117h1v22h-1zM450 141h1v8h-1zM451 119h1v4h-1zM451 125h1v14h-1zM451 141h1v8h-1zM452 121h1v2h-1zM452 125h1v14h-1zM452 141h1v8h-1zM453 125h1v14h-1zM453 141h1v8h-1zM454 125h1v14h-1zM454 141h1v8h-1zM455 127h1v12h-1zM455 141h1v8h-1zM456 129h1v10h-1zM456 141h1v8h-1zM457 129h1v10h-1zM457 141h1v8h-1zM458 131h1v8h-1zM458 141h1v8h-1zM459 133h1v6h-1zM459 141h1v8h-1zM460 135h1v4h-1zM460 141h1v8h-1zM461 137h1v2h-1zM461 141h1v8h-1zM462 141h1v8h-1zM463 141h1v8h-1zM464 143h1v6h-1zM465 145h1v4h-1zM466 145h1v4h-1zM467 147h1v2h-1zM472 147h1v2h-1zM473 145h1v4h-1zM474 145h1v4h-1zM475 143h1v6h-1zM476 141h1v8h-1zM477 141h1v8h-1zM478 137h1v2h-1zM478 141h1v8h-1zM479 135h1v4h-1zM479 141h1v8h-1zM480 133h1v6h-1zM480 141h1v8h-1zM481 131h1v8h-1zM481 141h1v8h-1zM482 129h1v10h-1zM482 141h1v8h-1zM483 129h1v10h-1zM483 141h1v8h-1zM484 127h1v12h-1zM484 141h1v8h-1zM485 125h1v14h-1zM485 141h1v8h-1zM486 125h1v14h-1zM486 141h1v8h-1zM487 121h1v2h-1zM487 125h1v14h-1zM487 141h1v8h-1zM488 119h1v4h-1zM488 125h1v14h-1zM488 141h1v8h-1zM489 117h1v6h-1zM489 125h1v14h-1zM489 141h1v8h-1zM490 115h1v8h-1zM490 125h1v14h-1zM490 141h1v8h-1zM491 113h1v10h-1zM491 125h1v14h-1zM491 141h1v8h-1zM493 111h1v12h-1zM493 125h1v14h-1zM493 141h1v8h-1zM494 109h1v14h-1zM494 125h1v14h-1zM494 141h1v8h-1zM495 107h1v16h-1zM495 125h1v14h-1zM495 141h1v8h-1zM496 105h1v18h-1zM496 125h1v14h-1zM496 141h1v8h-1zM497 103h1v20h-1zM497 125h1v14h-1zM497 141h1v8h-1zM499 99h1v24h-1zM499 125h1v14h-1zM499 141h1v8h-1zM500 75h1v20h-1zM500 97h1v26h-1zM500 125h1v8h-1zM501 35h1v24h-1zM501 61h1v6h-1zM501 69h1v16h-1zM502 35h1v2h-1z"/>
<path fill="#061a00" d="M438 137h1v2h-1zM438 141h1v8h-1zM446 149h1v2h-1zM447 149h1v2h-1zM448 149h1v2h-1zM448 153h1v2h-1zM449 149h1v2h-1zM449 153h1v4h-1zM450 149h1v2h-1zM450 153h1v4h-1zM451 149h1v2h-1zM451 153h1v6h-1zM452 149h1v2h-1zM452 153h1v8h-1zM453 149h1v2h-1zM453 153h1v10h-1zM454 149h1v2h-1zM454 153h1v10h-1zM455 149h1v2h-1zM455 153h1v10h-1zM455 165h1v2h-1zM456 149h1v2h-1zM456 153h1v10h-1zM456 165h1v2h-1zM457 149h1v2h-1zM457 153h1v10h-1zM457 165h1v2h-1zM457 169h1v2h-1zM458 149h1v2h-1zM458 153h1v10h-1zM458 165h1v2h-1zM458 169h1v4h-1zM459 149h1v2h-1zM459 153h1v10h-1zM459 165h1v2h-1zM459 169h1v4h-1zM460 149h1v2h-1zM460 153h1v10h-1zM460 165h1v2h-1zM460 169h1v6h-1zM461 149h1v2h-1zM461 153h1v10h-1zM461 165h1v2h-1zM461 169h1v8h-1zM462 149h1v2h-1zM462 153h1v10h-1zM462 165h1v2h-1zM462 169h1v10h-1zM463 149h1v2h-1zM463 153h1v10h-1zM463 165h1v2h-1zM463 169h1v12h-1zM464 149h1v2h-1zM464 153h1v10h-1zM464 165h1v2h-1zM464 169h1v14h-1zM465 149h1v2h-1zM465 153h1v10h-1zM465 165h1v2h-1zM465 169h1v16h-1zM466 149h1v2h-1zM466 153h1v10h-1zM466 165h1v2h-1zM466 169h1v18h-1zM467 149h1v2h-1zM467 153h1v10h-1zM467 165h1v2h-1zM467 169h1v18h-1zM468 149h1v2h-1zM468 153h1v10h-1zM468 165h1v2h-1zM468 169h1v18h-1zM469 149h2v2h-2zM469 153h2v10h-2zM469 165h2v2h-2zM469 169h2v18h-2zM469 189h2v2h-2zM471 149h1v2h-1zM471 153h1v10h-1zM471 165h1v2h-1zM471 169h1v18h-1zM472 149h1v2h-1zM472 153h1v10h-1zM472 165h1v2h-1zM472 169h1v18h-1zM473 149h1v2h-1zM473 153h1v10h-1zM473 165h1v2h-1zM473 169h1v18h-1zM474 149h1v2h-1zM474 153h1v10h-1zM474 165h1v2h-1zM474 169h1v16h-1zM475 149h1v2h-1zM475 153h1v10h-1zM475 165h1v2h-1zM475 169h1v14h-1zM476 149h1v2h-1zM476 153h1v10h-1zM476 165h1v2h-1zM476 169h1v12h-1zM477 149h1v2h-1zM477 153h1v10h-1zM477 165h1v2h-1zM477 169h1v10h-1zM478 149h1v2h-1zM478 153h1v10h-1zM478 165h1v2h-1zM478 169h1v8h-1zM479 149h1v2h-1zM479 153h1v10h-1zM479 165h1v2h-1zM479 169h1v6h-1zM480 149h1v2h-1zM480 153h1v10h-1zM480 165h1v2h-1zM480 169h1v4h-1zM481 149h1v2h-1zM481 153h1v10h-1zM481 165h1v2h-1zM481 169h1v4h-1zM482 149h1v2h-1zM482 153h1v10h-1zM482 165h1v2h-1zM482 169h1v2h-1zM483 149h1v2h-1zM483 153h1v10h-1zM483 165h1v2h-1zM484 149h1v2h-1zM484 153h1v10h-1zM484 165h1v2h-1zM485 149h1v2h-1zM485 153h1v10h-1zM486 149h1v2h-1zM486 153h1v10h-1zM487 149h1v2h-1zM487 153h1v8h-1zM488 149h1v2h-1zM488 153h1v6h-1zM489 149h1v2h-1zM489 153h1v4h-1zM490 149h1v2h-1zM490 153h1v4h-1zM491 149h1v2h-1zM491 153h1v2h-1zM493 149h1v2h-1zM500 133h1v6h-1zM500 141h1v8h-1zM501 85h1v10h-1zM501 97h1v26h-1zM501 125h1v14h-1zM502 37h1v22h-1zM502 61h1v6h-1zM502 69h1v24h-1zM718 35h2v128h-2zM718 165h2v86h-2zM718 253h2v18h-2zM718 273h2v170h-2zM720 35h1v128h-1zM720 165h1v86h-1zM720 253h1v18h-1zM720 273h1v170h-1zM721 35h1v128h-1zM721 165h1v86h-1zM721 253h1v18h-1zM721 273h1v170h-1zM722 35h1v128h-1zM722 165h1v86h-1zM722 253h1v18h-1zM722 273h1v170h-1zM723 35h1v128h-1zM723 165h1v86h-1zM723 253h1v18h-1zM723 273h1v170h-1zM725 35h12v128h-12zM725 165h12v86h-12zM725 253h12v18h-12zM725 273h12v170h-12zM738 35h2v128h-2zM738 165h2v86h-2zM738 253h2v18h-2zM738 273h2v170h-2z"/>
<path fill="#041a00" d="M438 149h1v2h-1zM438 153h1v10h-1zM438 165h1v2h-1zM438 169h1v10h-1zM439 149h1v2h-1zM439 153h1v10h-1zM439 165h1v2h-1zM439 169h1v18h-1zM439 189h1v2h-1zM440 149h1v2h-1zM440 153h1v10h-1zM440 165h1v2h-1zM440 169h1v18h-1zM440 189h1v8h-1zM441 149h1v2h-1zM441 153h1v10h-1zM441 165h1v2h-1zM441 169h1v18h-1zM441 189h1v10h-1zM442 149h1v2h-1zM442 153h1v10h-1zM442 165h1v2h-1zM442 169h1v18h-1zM442 189h1v12h-1zM443 149h1v2h-1zM443 153h1v10h-1zM443 165h1v2h-1zM443 169h1v18h-1zM443 189h1v14h-1zM444 149h1v2h-1zM444 153h1v10h-1zM444 165h1v2h-1zM444 169h1v18h-1zM444 189h1v14h-1zM445 149h1v2h-1zM445 153h1v10h-1zM445 165h1v2h-1zM445 169h1v18h-1zM445 189h1v14h-1zM445 205h1v2h-1zM446 153h1v10h-1zM446 165h1v2h-1zM446 169h1v18h-1zM446 189h1v14h-1zM446 205h1v4h-1zM447 153h1v10h-1zM447 165h1v2h-1zM447 169h1v18h-1zM447 189h1v14h-1zM447 205h1v6h-1zM448 155h1v8h-1zM448 165h1v2h-1zM448 169h1v18h-1zM448 189h1v14h-1zM448 205h1v8h-1zM449 157h1v6h-1zM449 165h1v2h-1zM449 169h1v18h-1zM449 189h1v14h-1zM449 205h1v8h-1zM450 157h1v6h-1zM450 165h1v2h-1zM450 169h1v18h-1zM450 189h1v14h-1zM450 205h1v10h-1zM451 159h1v4h-1zM451 165h1v2h-1zM451 169h1v18h-1zM451 189h1v14h-1zM451 205h1v12h-1zM452 161h1v2h-1zM452 165h1v2h-1zM452 169h1v18h-1zM452 189h1v14h-1zM452 205h1v14h-1zM453 165h1v2h-1zM453 169h1v18h-1zM453 189h1v14h-1zM453 205h1v16h-1zM454 165h1v2h-1zM454 169h1v18h-1zM454 189h1v14h-1zM454 205h1v18h-1zM455 169h1v18h-1zM455 189h1v14h-1zM455 205h1v18h-1zM456 169h1v18h-1zM456 189h1v14h-1zM456 205h1v18h-1zM456 225h1v2h-1zM457 171h1v16h-1zM457 189h1v14h-1zM457 205h1v18h-1zM457 225h1v4h-1zM458 173h1v14h-1zM458 189h1v14h-1zM458 205h1v18h-1zM458 225h1v4h-1zM459 173h1v14h-1zM459 189h1v14h-1zM459 205h1v18h-1zM459 225h1v6h-1zM460 175h1v12h-1zM460 189h1v14h-1zM460 205h1v18h-1zM460 225h1v8h-1zM461 177h1v10h-1zM461 189h1v14h-1zM461 205h1v18h-1zM461 225h1v10h-1zM462 179h1v8h-1zM462 189h1v14h-1zM462 205h1v18h-1zM462 225h1v10h-1zM463 181h1v6h-1zM463 189h1v14h-1zM463 205h1v18h-1zM463 225h1v10h-1zM463 237h1v2h-1zM464 183h1v4h-1zM464 189h1v14h-1zM464 205h1v18h-1zM464 225h1v10h-1zM464 237h1v4h-1zM465 185h1v2h-1zM465 189h1v14h-1zM465 205h1v18h-1zM465 225h1v10h-1zM465 237h1v6h-1zM466 189h1v14h-1zM466 205h1v18h-1zM466 225h1v10h-1zM466 237h1v8h-1zM467 189h1v14h-1zM467 205h1v18h-1zM467 225h1v10h-1zM467 237h1v8h-1zM468 189h1v14h-1zM468 205h1v18h-1zM468 225h1v10h-1zM468 237h1v10h-1zM469 191h2v12h-2zM469 205h2v18h-2zM469 225h2v10h-2zM469 237h2v12h-2zM471 189h1v14h-1zM471 205h1v18h-1zM471 225h1v10h-1zM471 237h1v10h-1zM472 189h1v14h-1zM472 205h1v18h-1zM472 225h1v10h-1zM472 237h1v8h-1zM473 189h1v14h-1zM473 205h1v18h-1zM473 225h1v10h-1zM473 237h1v8h-1zM474 185h1v2h-1zM474 189h1v14h-1zM474 205h1v18h-1zM474 225h1v10h-1zM474 237h1v6h-1zM475 183h1v4h-1zM475 189h1v14h-1zM475 205h1v2h-1zM476 181h1v6h-1zM476 189h1v14h-1zM476 205h1v2h-1zM477 179h1v8h-1zM477 189h1v14h-1zM477 205h1v18h-1zM477 225h1v10h-1zM478 177h1v10h-1zM478 189h1v14h-1zM478 205h1v18h-1zM478 225h1v10h-1zM479 175h1v12h-1zM479 189h1v14h-1zM479 205h1v18h-1zM479 225h1v8h-1zM480 173h1v14h-1zM480 189h1v14h-1zM480 205h1v18h-1zM480 225h1v6h-1zM481 173h1v14h-1zM481 189h1v14h-1zM481 205h1v18h-1zM481 225h1v4h-1zM482 171h1v16h-1zM482 189h1v14h-1zM482 205h1v18h-1zM482 225h1v4h-1zM483 169h1v18h-1zM483 189h1v14h-1zM483 205h1v18h-1zM483 225h1v2h-1zM484 169h1v18h-1zM484 189h1v14h-1zM484 205h1v18h-1zM485 165h1v2h-1zM485 169h1v18h-1zM485 189h1v14h-1zM485 205h1v18h-1zM486 165h1v2h-1zM486 169h1v18h-1zM486 189h1v14h-1zM486 205h1v16h-1zM487 161h1v2h-1zM487 165h1v2h-1zM487 169h1v18h-1zM487 189h1v14h-1zM487 205h1v14h-1zM488 159h1v4h-1zM488 165h1v2h-1zM488 169h1v18h-1zM488 189h1v14h-1zM488 205h1v12h-1zM489 157h1v6h-1zM489 165h1v2h-1zM489 169h1v18h-1zM489 189h1v14h-1zM489 205h1v10h-1zM490 157h1v6h-1zM490 165h1v2h-1zM490 169h1v18h-1zM490 189h1v14h-1zM490 205h1v8h-1zM491 155h1v8h-1zM491 165h1v2h-1zM491 169h1v18h-1zM491 189h1v14h-1zM491 205h1v8h-1zM493 153h1v10h-1zM493 165h1v2h-1zM493 169h1v18h-1zM493 189h1v14h-1zM493 205h1v4h-1zM494 149h1v2h-1zM494 153h1v10h-1zM494 165h1v2h-1zM494 169h1v18h-1zM494 189h1v14h-1zM494 205h1v2h-1zM495 149h1v2h-1zM495 153h1v10h-1zM495 165h1v2h-1zM495 169h1v18h-1zM495 189h1v14h-1zM496 149h1v2h-1zM496 153h1v10h-1zM496 165h1v2h-1zM496 169h1v18h-1zM496 189h1v14h-1zM497 149h1v2h-1zM497 153h1v10h-1zM497 165h1v2h-1zM497 169h1v18h-1zM497 189h1v12h-1zM499 149h1v2h-1zM499 153h1v10h-1zM499 165h1v2h-1zM499 169h1v18h-1zM499 189h1v8h-1zM500 149h1v2h-1zM500 153h1v10h-1zM500 165h1v2h-1zM500 169h1v4h-1zM501 141h1v8h-1zM502 93h1v2h-1zM502 97h1v26h-1zM502 125h1v14h-1zM502 141h1v8h-1zM713 35h5v128h-5zM713 165h5v86h-5zM713 253h5v18h-5zM713 273h5v170h-5zM740 35h2v128h-2zM740 165h2v86h-2zM740 253h2v18h-2zM740 273h2v170h-2z"/>
<path fill="#021a00" d="M438 179h1v8h-1zM438 189h1v14h-1zM438 205h1v30h-1zM439 191h1v12h-1zM439 205h1v18h-1zM439 225h1v10h-1zM439 237h1v12h-1zM440 197h1v6h-1zM440 205h1v18h-1zM440 225h1v10h-1zM440 237h1v14h-1zM440 253h1v2h-1zM441 199h1v4h-1zM441 205h1v18h-1zM441 225h1v10h-1zM441 237h1v14h-1zM441 253h1v4h-1zM442 201h1v2h-1zM442 205h1v18h-1zM442 225h1v10h-1zM442 237h1v14h-1zM442 253h1v6h-1zM443 205h1v18h-1zM443 225h1v10h-1zM443 237h1v14h-1zM443 253h1v8h-1zM444 205h1v18h-1zM444 225h1v10h-1zM444 237h1v14h-1zM444 253h1v10h-1zM445 207h1v16h-1zM445 225h1v10h-1zM445 237h1v14h-1zM445 253h1v12h-1zM446 209h1v14h-1zM446 225h1v10h-1zM446 237h1v14h-1zM446 253h1v14h-1zM447 211h1v12h-1zM447 225h1v10h-1zM447 237h1v14h-1zM447 253h1v14h-1zM448 213h1v10h-1zM448 225h1v10h-1zM448 237h1v14h-1zM448 253h1v16h-1zM449 213h1v10h-1zM449 225h1v10h-1zM449 237h1v14h-1zM449 253h1v18h-1zM450 215h1v8h-1zM450 225h1v10h-1zM450 237h1v14h-1zM450 253h1v18h-1zM451 217h1v6h-1zM451 225h1v10h-1zM451 237h1v14h-1zM451 253h1v18h-1zM451 273h1v2h-1zM452 219h1v4h-1zM452 225h1v10h-1zM452 237h1v14h-1zM452 253h1v18h-1zM452 273h1v4h-1zM453 221h1v2h-1zM453 225h1v10h-1zM453 237h1v14h-1zM453 253h1v18h-1zM453 273h1v6h-1zM454 225h1v10h-1zM454 237h1v14h-1zM454 253h1v18h-1zM454 273h1v6h-1zM455 225h1v10h-1zM455 237h1v14h-1zM455 253h1v18h-1zM455 273h1v6h-1zM455 281h1v2h-1zM456 227h1v8h-1zM456 237h1v14h-1zM456 253h1v18h-1zM456 273h1v6h-1zM456 281h1v2h-1zM457 229h1v6h-1zM457 237h1v14h-1zM457 253h1v18h-1zM457 273h1v6h-1zM457 281h1v4h-1zM458 229h1v6h-1zM458 237h1v14h-1zM458 253h1v18h-1zM458 273h1v6h-1zM458 281h1v6h-1zM459 231h1v4h-1zM459 237h1v14h-1zM459 253h1v18h-1zM459 273h1v6h-1zM459 281h1v8h-1zM460 233h1v2h-1zM460 237h1v14h-1zM460 253h1v18h-1zM460 273h1v6h-1zM460 281h1v10h-1zM461 237h1v14h-1zM461 253h1v18h-1zM461 273h1v6h-1zM461 281h1v10h-1zM462 237h1v14h-1zM462 253h1v18h-1zM462 273h1v6h-1zM462 281h1v10h-1zM462 293h1v2h-1zM463 239h1v12h-1zM463 253h1v18h-1zM463 273h1v6h-1zM463 281h1v10h-1zM463 293h1v4h-1zM464 241h1v10h-1zM464 253h1v18h-1zM464 273h1v6h-1zM464 281h1v10h-1zM464 293h1v6h-1zM465 243h1v8h-1zM465 253h1v18h-1zM465 273h1v6h-1zM465 281h1v10h-1zM465 293h1v6h-1zM466 245h1v6h-1zM466 253h1v18h-1zM466 273h1v6h-1zM466 281h1v10h-1zM466 293h1v8h-1zM467 245h1v6h-1zM467 253h1v18h-1zM467 273h1v6h-1zM467 281h1v10h-1zM467 293h1v10h-1zM468 247h1v4h-1zM468 253h1v18h-1zM468 273h1v6h-1zM468 281h1v10h-1zM468 293h1v12h-1zM469 249h2v2h-2zM469 253h2v18h-2zM469 273h2v6h-2zM469 281h2v10h-2zM469 293h2v14h-2zM471 247h1v4h-1zM471 253h1v18h-1zM471 273h1v6h-1zM471 281h1v10h-1zM471 293h1v12h-1zM472 245h1v6h-1zM472 253h1v18h-1zM472 273h1v6h-1zM472 281h1v10h-1zM472 293h1v10h-1zM473 245h1v6h-1zM473 253h1v18h-1zM473 273h1v6h-1zM473 281h1v10h-1zM473 293h1v8h-1zM474 243h1v8h-1zM474 253h1v18h-1zM474 273h1v6h-1zM474 281h1v10h-1zM474 293h1v6h-1zM477 237h1v14h-1zM477 253h1v18h-1zM477 273h1v6h-1zM477 281h1v10h-1zM477 293h1v2h-1zM478 237h1v14h-1zM478 253h1v18h-1zM478 273h1v6h-1zM478 281h1v10h-1zM479 233h1v2h-1zM479 237h1v14h-1zM479 253h1v18h-1zM479 273h1v6h-1zM479 281h1v10h-1zM480 231h1v4h-1zM480 237h1v14h-1zM480 253h1v18h-1zM480 273h1v6h-1zM480 281h1v8h-1zM481 229h1v6h-1zM481 237h1v14h-1zM481 253h1v18h-1zM481 273h1v6h-1zM481 281h1v6h-1zM482 229h1v6h-1zM482 237h1v14h-1zM482 253h1v18h-1zM482 273h1v6h-1zM482 281h1v4h-1zM483 227h1v8h-1zM483 237h1v14h-1zM483 253h1v18h-1zM483 273h1v6h-1zM483 281h1v2h-1zM484 225h1v10h-1zM484 237h1v14h-1zM484 253h1v18h-1zM484 273h1v6h-1zM484 281h1v2h-1zM485 225h1v10h-1zM485 237h1v14h-1zM485 253h1v18h-1zM485 273h1v6h-1zM486 221h1v2h-1zM486 225h1v10h-1zM486 237h1v14h-1zM486 253h1v18h-1zM486 273h1v6h-1zM487 219h1v4h-1zM487 225h1v10h-1zM487 237h1v14h-1zM487 253h1v18h-1zM487 273h1v4h-1zM488 217h1v6h-1zM488 225h1v10h-1zM488 237h1v14h-1zM488 253h1v18h-1zM488 273h1v2h-1zM489 215h1v8h-1zM489 225h1v10h-1zM489 237h1v14h-1zM489 253h1v18h-1zM490 213h1v10h-1zM490 225h1v10h-1zM490 237h1v14h-1zM490 253h1v18h-1zM491 213h1v10h-1zM491 225h1v10h-1zM491 237h1v14h-1zM491 253h1v16h-1zM493 209h1v14h-1zM493 225h1v10h-1zM493 237h1v14h-1zM493 253h1v14h-1zM494 207h1v16h-1zM494 225h1v10h-1zM494 237h1v14h-1zM494 253h1v12h-1zM495 205h1v18h-1zM495 225h1v10h-1zM495 237h1v14h-1zM495 253h1v10h-1zM496 205h1v18h-1zM496 225h1v10h-1zM496 237h1v14h-1zM496 253h1v8h-1zM497 201h1v2h-1zM497 205h1v18h-1zM497 225h1v10h-1zM497 237h1v14h-1zM497 253h1v6h-1zM499 197h1v6h-1zM499 205h1v18h-1zM499 225h1v10h-1zM499 237h1v14h-1zM499 253h1v2h-1zM500 173h1v14h-1zM500 189h1v14h-1zM500 205h1v18h-1zM500 225h1v6h-1zM501 149h1v2h-1zM501 153h1v10h-1zM501 165h1v2h-1zM501 169h1v14h-1zM505 35h1v22h-1zM573 35h1v114h-1zM574 35h1v114h-1zM575 35h1v114h-1zM577 35h1v114h-1zM578 35h2v114h-2zM580 35h2v114h-2zM582 35h2v114h-2zM584 35h2v114h-2zM586 35h4v114h-4zM590 35h5v114h-5zM595 35h6v114h-6zM601 35h2v114h-2zM603 35h4v114h-4zM607 35h3v114h-3zM610 35h1v114h-1zM611 35h1v114h-1zM612 35h1v114h-1zM613 35h1v114h-1zM614 35h1v114h-1zM615 35h2v114h-2zM617 35h1v114h-1zM618 35h2v114h-2zM620 35h1v114h-1zM710 35h3v128h-3zM710 165h3v86h-3zM710 253h3v18h-3zM710 273h3v170h-3zM742 35h3v128h-3zM742 165h3v86h-3zM742 253h3v18h-3zM742 273h3v170h-3z"/>
<path fill="#001a00" d="M438 237h1v14h-1zM438 253h1v18h-1zM438 273h1v6h-1zM438 281h1v10h-1zM438 293h1v26h-1zM438 321h1v2h-1zM439 249h1v2h-1zM439 253h1v18h-1zM439 273h1v6h-1zM439 281h1v10h-1zM439 293h1v26h-1zM439 321h1v10h-1zM439 333h1v2h-1zM440 255h1v16h-1zM440 273h1v6h-1zM440 281h1v10h-1zM440 293h1v26h-1zM440 321h1v10h-1zM440 333h1v8h-1zM441 257h1v14h-1zM441 273h1v6h-1zM441 281h1v10h-1zM441 293h1v26h-1zM441 321h1v10h-1zM441 333h1v10h-1zM442 259h1v12h-1zM442 273h1v6h-1zM442 281h1v10h-1zM442 293h1v26h-1zM442 321h1v10h-1zM442 333h1v12h-1zM443 261h1v10h-1zM443 273h1v6h-1zM443 281h1v10h-1zM443 293h1v26h-1zM443 321h1v10h-1zM443 333h1v14h-1zM444 263h1v8h-1zM444 273h1v6h-1zM444 281h1v10h-1zM444 293h1v26h-1zM444 321h1v10h-1zM444 333h1v16h-1zM445 265h1v6h-1zM445 273h1v6h-1zM445 281h1v10h-1zM445 293h1v26h-1zM445 321h1v10h-1zM445 333h1v18h-1zM446 267h1v4h-1zM446 273h1v6h-1zM446 281h1v10h-1zM446 293h1v26h-1zM446 321h1v10h-1zM446 333h1v20h-1zM447 267h1v4h-1zM447 273h1v6h-1zM447 281h1v10h-1zM447 293h1v26h-1zM447 321h1v10h-1zM447 333h1v22h-1zM448 269h1v2h-1zM448 273h1v6h-1zM448 281h1v10h-1zM448 293h1v26h-1zM448 321h1v10h-1zM448 333h1v24h-1zM449 273h1v6h-1zM449 281h1v10h-1zM449 293h1v26h-1zM449 321h1v10h-1zM449 333h1v24h-1zM450 273h1v6h-1zM450 281h1v10h-1zM450 293h1v26h-1zM450 321h1v10h-1zM450 333h1v26h-1zM451 275h1v4h-1zM451 281h1v10h-1zM451 293h1v26h-1zM451 321h1v10h-1zM451 333h1v28h-1zM452 277h1v2h-1zM452 281h1v10h-1zM452 293h1v26h-1zM452 321h1v10h-1zM452 333h1v30h-1zM453 281h1v10h-1zM453 293h1v26h-1zM453 321h1v10h-1zM453 333h1v30h-1zM454 281h1v10h-1zM454 293h1v18h-1zM454 313h1v6h-1zM454 321h1v10h-1zM454 333h1v30h-1zM454 365h1v2h-1zM455 283h1v8h-1zM455 293h1v18h-1zM455 313h1v6h-1zM455 321h1v10h-1zM455 333h1v30h-1zM455 365h1v4h-1zM456 283h1v8h-1zM456 293h1v18h-1zM456 313h1v6h-1zM456 321h1v10h-1zM456 333h1v30h-1zM456 365h1v6h-1zM457 285h1v6h-1zM457 293h1v18h-1zM457 313h1v6h-1zM457 321h1v10h-1zM457 333h1v30h-1zM457 365h1v6h-1zM458 287h1v4h-1zM458 293h1v18h-1zM458 313h1v6h-1zM458 321h1v10h-1zM458 333h1v30h-1zM458 365h1v6h-1zM459 289h1v2h-1zM459 293h1v18h-1zM459 313h1v6h-1zM459 321h1v10h-1zM459 333h1v30h-1zM459 365h1v6h-1zM459 373h1v2h-1zM460 293h1v18h-1zM460 313h1v6h-1zM460 321h1v10h-1zM460 333h1v14h-1zM460 349h1v14h-1zM460 365h1v6h-1zM460 373h1v4h-1zM461 293h1v18h-1zM461 313h1v6h-1zM461 321h1v10h-1zM461 333h1v14h-1zM461 349h1v14h-1zM461 365h1v6h-1zM461 373h1v6h-1zM462 295h1v16h-1zM462 313h1v6h-1zM462 321h1v10h-1zM462 333h1v14h-1zM462 349h1v14h-1zM462 365h1v6h-1zM462 373h1v8h-1zM463 297h1v14h-1zM463 313h1v6h-1zM463 321h1v10h-1zM463 333h1v14h-1zM463 349h1v14h-1zM463 365h1v6h-1zM463 373h1v10h-1zM464 299h1v12h-1zM464 313h1v6h-1zM464 321h1v10h-1zM464 333h1v14h-1zM464 349h1v14h-1zM464 365h1v6h-1zM464 373h1v12h-1zM465 299h1v12h-1zM465 313h1v6h-1zM465 321h1v10h-1zM465 333h1v14h-1zM465 349h1v14h-1zM465 365h1v6h-1zM465 373h1v14h-1zM466 301h1v10h-1zM466 313h1v6h-1zM466 321h1v10h-1zM466 333h1v14h-1zM466 349h1v14h-1zM466 365h1v6h-1zM466 373h1v14h-1zM467 303h1v8h-1zM467 313h1v6h-1zM467 321h1v10h-1zM467 333h1v14h-1zM467 349h1v14h-1zM467 365h1v6h-1zM467 373h1v14h-1zM468 305h1v6h-1zM468 313h1v6h-1zM468 321h1v10h-1zM468 333h1v14h-1zM468 349h1v14h-1zM468 365h1v6h-1zM468 373h1v14h-1zM468 389h1v2h-1zM469 307h2v4h-2zM469 313h2v6h-2zM469 321h2v10h-2zM469 333h2v14h-2zM469 349h2v14h-2zM469 365h2v6h-2zM469 373h2v14h-2zM469 389h2v4h-2zM471 305h1v6h-1zM471 313h1v6h-1zM471 321h1v10h-1zM471 333h1v14h-1zM471 349h1v14h-1zM471 365h1v6h-1zM471 373h1v14h-1zM471 389h1v2h-1zM472 303h1v8h-1zM472 313h1v6h-1zM472 321h1v10h-1zM472 333h1v14h-1zM472 349h1v14h-1zM472 365h1v6h-1zM472 373h1v14h-1zM473 301h1v10h-1zM473 313h1v6h-1zM473 321h1v10h-1zM473 333h1v14h-1zM473 349h1v14h-1zM473 365h1v6h-1zM473 373h1v14h-1zM474 299h1v12h-1zM474 313h1v6h-1zM474 321h1v10h-1zM474 333h1v14h-1zM474 349h1v14h-1zM474 365h1v6h-1zM474 373h1v14h-1zM475 321h1v10h-1zM475 333h1v14h-1zM475 349h1v14h-1zM475 365h1v6h-1zM475 373h1v12h-1zM476 321h1v10h-1zM476 333h1v14h-1zM476 349h1v14h-1zM476 365h1v6h-1zM476 373h1v10h-1zM477 295h1v16h-1zM477 313h1v6h-1zM477 321h1v10h-1zM477 333h1v14h-1zM477 349h1v14h-1zM477 365h1v6h-1zM477 373h1v8h-1zM478 293h1v18h-1zM478 313h1v6h-1zM478 321h1v10h-1zM478 333h1v14h-1zM478 349h1v14h-1zM478 365h1v6h-1zM478 373h1v6h-1zM479 293h1v18h-1zM479 313h1v6h-1zM479 321h1v10h-1zM479 333h1v14h-1zM479 349h1v14h-1zM479 365h1v6h-1zM479 373h1v4h-1zM480 289h1v2h-1zM480 293h1v18h-1zM480 313h1v6h-1zM480 321h1v10h-1zM480 333h1v14h-1zM480 349h1v14h-1zM480 365h1v6h-1zM480 373h1v2h-1zM481 287h1v4h-1zM481 293h1v18h-1zM481 313h1v6h-1zM481 321h1v10h-1zM481 333h1v14h-1zM481 349h1v14h-1zM481 365h1v6h-1zM482 285h1v6h-1zM482 293h1v18h-1zM482 313h1v6h-1zM482 321h1v10h-1zM482 333h1v14h-1zM482 349h1v14h-1zM482 365h1v6h-1zM483 283h1v8h-1zM483 293h1v18h-1zM483 313h1v6h-1zM483 321h1v10h-1zM483 333h1v14h-1zM483 349h1v14h-1zM483 365h1v6h-1zM484 283h1v8h-1zM484 293h1v18h-1zM484 313h1v6h-1zM484 321h1v10h-1zM484 333h1v14h-1zM484 349h1v14h-1zM484 365h1v4h-1zM485 281h1v10h-1zM485 293h1v18h-1zM485 313h1v6h-1zM485 321h1v10h-1zM485 333h1v14h-1zM485 349h1v14h-1zM485 365h1v2h-1zM486 281h1v10h-1zM486 293h1v18h-1zM486 313h1v6h-1zM486 321h1v10h-1zM486 333h1v14h-1zM486 349h1v14h-1zM487 277h1v2h-1zM487 281h1v10h-1zM487 293h1v18h-1zM487 313h1v6h-1zM487 321h1v10h-1zM487 333h1v14h-1zM487 349h1v14h-1zM488 275h1v4h-1zM488 281h1v10h-1zM488 293h1v18h-1zM488 313h1v6h-1zM488 321h1v10h-1zM488 333h1v14h-1zM488 349h1v12h-1zM489 273h1v6h-1zM489 281h1v10h-1zM489 293h1v18h-1zM489 313h1v6h-1zM489 321h1v10h-1zM489 333h1v14h-1zM489 349h1v10h-1zM490 273h1v6h-1zM490 281h1v10h-1zM490 293h1v18h-1zM490 313h1v6h-1zM490 321h1v10h-1zM490 333h1v14h-1zM490 349h1v8h-1zM491 269h1v2h-1zM491 273h1v6h-1zM491 281h1v10h-1zM491 293h1v18h-1zM491 313h1v6h-1zM491 321h1v10h-1zM491 333h1v14h-1zM491 349h1v8h-1zM493 267h1v4h-1zM493 273h1v6h-1zM493 281h1v10h-1zM493 293h1v18h-1zM493 313h1v6h-1zM493 321h1v10h-1zM493 333h1v14h-1zM493 349h1v4h-1zM494 265h1v6h-1zM494 273h1v6h-1zM494 281h1v10h-1zM494 293h1v18h-1zM494 313h1v6h-1zM494 321h1v10h-1zM494 333h1v14h-1zM494 349h1v2h-1zM495 263h1v8h-1zM495 273h1v6h-1zM495 281h1v10h-1zM495 293h1v18h-1zM495 313h1v6h-1zM495 321h1v10h-1zM495 333h1v14h-1zM496 261h1v10h-1zM496 273h1v6h-1zM496 281h1v10h-1zM496 293h1v18h-1zM496 313h1v6h-1zM496 321h1v10h-1zM496 333h1v14h-1zM497 259h1v12h-1zM497 273h1v6h-1zM497 281h1v10h-1zM497 293h1v18h-1zM497 313h1v6h-1zM497 321h1v10h-1zM497 333h1v12h-1zM499 255h1v16h-1zM499 273h1v6h-1zM499 281h1v10h-1zM499 293h1v18h-1zM499 313h1v6h-1zM499 321h1v10h-1zM499 333h1v8h-1zM500 231h1v4h-1zM500 237h1v14h-1zM500 253h1v18h-1zM500 273h1v6h-1zM500 281h1v10h-1zM500 293h1v18h-1zM500 313h1v4h-1zM501 183h1v4h-1zM501 189h1v14h-1zM501 205h1v18h-1zM501 225h1v10h-1zM501 237h1v14h-1zM501 253h1v16h-1zM502 149h1v2h-1zM502 153h1v10h-1zM502 165h1v2h-1zM502 169h1v18h-1zM502 189h1v14h-1zM502 205h1v16h-1zM505 57h1v2h-1zM505 61h1v6h-1zM505 69h1v26h-1zM505 97h1v26h-1zM505 125h1v14h-1zM505 141h1v8h-1zM506 35h1v24h-1zM506 61h1v6h-1zM506 69h1v26h-1zM570 35h1v114h-1zM572 179h1v8h-1zM572 189h1v16h-1zM572 321h1v22h-1zM573 149h1v2h-1zM573 153h1v10h-1zM573 165h1v22h-1zM573 189h1v46h-1zM573 237h1v14h-1zM573 253h1v18h-1zM573 273h1v6h-1zM573 281h1v38h-1zM573 321h1v26h-1zM573 349h1v14h-1zM573 365h1v22h-1zM573 389h1v26h-1zM573 417h1v14h-1zM573 433h1v10h-1zM574 149h1v2h-1zM574 153h1v10h-1zM574 165h1v22h-1zM574 189h1v46h-1zM574 237h1v14h-1zM574 253h1v18h-1zM574 273h1v6h-1zM574 281h1v38h-1zM574 321h1v26h-1zM574 349h1v14h-1zM574 365h1v22h-1zM574 389h1v26h-1zM574 417h1v14h-1zM574 433h1v10h-1zM575 149h1v2h-1zM575 153h1v10h-1zM575 165h1v22h-1zM575 189h1v46h-1zM575 237h1v14h-1zM575 253h1v18h-1zM575 273h1v6h-1zM575 281h1v38h-1zM575 321h1v26h-1zM575 349h1v14h-1zM575 365h1v22h-1zM575 389h1v26h-1zM575 417h1v14h-1zM575 433h1v10h-1zM577 149h1v2h-1zM577 153h1v10h-1zM577 165h1v70h-1zM577 237h1v14h-1zM577 253h1v18h-1zM577 273h1v6h-1zM577 281h1v38h-1zM577 321h1v26h-1zM577 349h1v14h-1zM577 365h1v22h-1zM577 389h1v42h-1zM577 433h1v10h-1zM578 149h2v2h-2zM578 153h2v10h-2zM578 165h2v70h-2zM578 237h2v14h-2zM578 253h2v18h-2zM578 273h2v6h-2zM578 281h2v38h-2zM578 321h2v26h-2zM578 349h2v14h-2zM578 365h2v22h-2zM578 389h2v42h-2zM578 433h2v10h-2zM580 149h2v2h-2zM580 153h2v10h-2zM580 165h2v70h-2zM580 237h2v14h-2zM580 253h2v18h-2zM580 273h2v6h-2zM580 281h2v38h-2zM580 321h2v26h-2zM580 349h2v14h-2zM580 365h2v22h-2zM580 389h2v42h-2zM580 433h2v10h-2zM582 149h2v2h-2zM582 153h2v10h-2zM582 165h2v70h-2zM582 237h2v14h-2zM582 253h2v18h-2zM582 273h2v6h-2zM582 281h2v38h-2zM582 321h2v26h-2zM582 349h2v14h-2zM582 365h2v22h-2zM582 389h2v42h-2zM582 433h2v10h-2zM584 149h2v2h-2zM584 153h2v10h-2zM584 165h2v70h-2zM584 237h2v14h-2zM584 253h2v18h-2zM584 273h2v6h-2zM584 281h2v38h-2zM584 321h2v42h-2zM584 365h2v22h-2zM584 389h2v42h-2zM584 433h2v10h-2zM586 149h4v2h-4zM586 153h4v10h-4zM586 165h4v70h-4zM586 237h4v14h-4zM586 253h4v18h-4zM586 273h4v6h-4zM586 281h4v38h-4zM586 321h4v42h-4zM586 365h4v22h-4zM586 389h4v42h-4zM586 433h4v10h-4zM590 149h5v2h-5zM590 153h5v10h-5zM590 165h5v70h-5zM590 237h5v14h-5zM590 253h5v18h-5zM590 273h5v6h-5zM590 281h5v38h-5zM590 321h5v42h-5zM590 365h5v22h-5zM590 389h5v42h-5zM590 433h5v10h-5zM595 149h6v14h-6zM595 165h6v70h-6zM595 237h6v14h-6zM595 253h6v18h-6zM595 273h6v6h-6zM595 281h6v38h-6zM595 321h6v42h-6zM595 365h6v22h-6zM595 389h6v42h-6zM595 433h6v10h-6zM601 149h2v14h-2zM601 165h2v70h-2zM601 237h2v14h-2zM601 253h2v18h-2zM601 273h2v6h-2zM601 281h2v38h-2zM601 321h2v42h-2zM601 365h2v22h-2zM601 389h2v54h-2zM603 149h4v14h-4zM603 165h4v70h-4zM603 237h4v14h-4zM603 253h4v18h-4zM603 273h4v46h-4zM603 321h4v42h-4zM603 365h4v22h-4zM603 389h4v54h-4zM607 149h3v14h-3zM607 165h3v86h-3zM607 253h3v18h-3zM607 273h3v46h-3zM607 321h3v42h-3zM607 365h3v22h-3zM607 389h3v54h-3zM610 149h1v14h-1zM610 165h1v86h-1zM610 253h1v18h-1zM610 273h1v46h-1zM610 321h1v42h-1zM610 365h1v22h-1zM610 389h1v54h-1zM611 149h1v14h-1zM611 165h1v86h-1zM611 253h1v18h-1zM611 273h1v46h-1zM611 321h1v42h-1zM611 365h1v22h-1zM611 389h1v54h-1zM612 149h1v14h-1zM612 165h1v86h-1zM612 253h1v18h-1zM612 273h1v46h-1zM612 321h1v66h-1zM612 389h1v54h-1zM613 149h1v14h-1zM613 165h1v86h-1zM613 253h1v18h-1zM613 273h1v46h-1zM613 321h1v66h-1zM613 389h1v54h-1zM614 149h1v14h-1zM614 165h1v86h-1zM614 253h1v18h-1zM614 273h1v46h-1zM614 321h1v66h-1zM614 389h1v54h-1zM615 149h2v14h-2zM615 165h2v86h-2zM615 253h2v18h-2zM615 273h2v46h-2zM615 321h2v66h-2zM615 389h2v54h-2zM617 149h1v14h-1zM617 165h1v86h-1zM617 253h1v18h-1zM617 273h1v46h-1zM617 321h1v122h-1zM618 149h2v14h-2zM618 165h2v86h-2zM618 253h2v18h-2zM618 273h2v46h-2zM618 321h2v122h-2zM620 149h1v14h-1zM620 165h1v86h-1zM620 253h1v18h-1zM620 273h1v170h-1zM621 35h2v114h-2zM623 35h1v114h-1zM706 35h4v128h-4zM706 165h4v86h-4zM706 253h4v18h-4zM706 273h4v170h-4zM745 35h4v128h-4zM745 165h4v86h-4zM745 253h4v18h-4zM745 273h4v170h-4zM866 35h1v128h-1zM866 165h1v86h-1zM866 253h1v18h-1zM866 273h1v170h-1zM867 35h2v128h-2zM867 165h2v86h-2zM867 253h2v18h-2zM867 273h2v170h-2zM869 35h1v128h-1zM869 165h1v86h-1zM869 253h1v18h-1zM869 273h1v170h-1zM870 35h2v128h-2zM870 165h2v86h-2zM870 253h2v18h-2zM870 273h2v170h-2zM872 35h1v128h-1zM872 165h1v86h-1zM872 253h1v18h-1zM872 273h1v170h-1zM873 35h2v128h-2zM873 165h2v86h-2zM873 253h2v18h-2zM873 273h2v170h-2zM875 35h12v128h-12zM875 165h12v86h-12zM875 253h12v18h-12zM875 273h12v170h-12zM887 35h1v128h-1zM887 165h1v86h-1zM887 253h1v18h-1zM887 273h1v170h-1zM888 35h1v128h-1zM888 165h1v86h-1zM888 253h1v18h-1zM888 273h1v170h-1zM889 35h3v128h-3zM889 165h3v86h-3zM889 253h3v18h-3zM889 273h3v170h-3zM892 35h2v128h-2zM892 165h2v86h-2zM892 253h2v18h-2zM892 273h2v170h-2zM894 35h2v128h-2zM894 165h2v86h-2zM894 253h2v18h-2zM894 273h2v170h-2zM896 35h2v128h-2zM896 165h2v86h-2zM896 253h2v18h-2zM896 273h2v170h-2zM898 35h7v128h-7zM898 165h7v86h-7zM898 253h7v18h-7zM898 273h7v170h-7z"/>
<path fill="#001a02" d="M438 323h1v8h-1zM438 333h1v48h-1zM439 335h1v58h-1zM440 341h1v58h-1zM441 343h1v56h-1zM442 345h1v54h-1zM442 401h1v2h-1zM443 347h1v52h-1zM443 401h1v4h-1zM444 349h1v50h-1zM444 401h1v6h-1zM445 351h1v48h-1zM445 401h1v8h-1zM446 353h1v18h-1zM446 373h1v26h-1zM446 401h1v10h-1zM447 355h1v16h-1zM447 373h1v26h-1zM447 401h1v12h-1zM448 357h1v6h-1zM448 365h1v6h-1zM448 373h1v26h-1zM448 401h1v12h-1zM449 357h1v6h-1zM449 365h1v6h-1zM449 373h1v26h-1zM449 401h1v14h-1zM450 359h1v4h-1zM450 365h1v6h-1zM450 373h1v26h-1zM450 401h1v16h-1zM451 361h1v2h-1zM451 365h1v6h-1zM451 373h1v26h-1zM451 401h1v18h-1zM452 365h1v6h-1zM452 373h1v14h-1zM452 389h1v10h-1zM452 401h1v20h-1zM453 365h1v6h-1zM453 373h1v14h-1zM453 389h1v10h-1zM453 401h1v22h-1zM454 367h1v4h-1zM454 373h1v14h-1zM454 389h1v10h-1zM454 401h1v24h-1zM455 369h1v2h-1zM455 373h1v14h-1zM455 389h1v10h-1zM455 401h1v14h-1zM455 417h1v10h-1zM456 373h1v14h-1zM456 389h1v10h-1zM456 401h1v14h-1zM456 417h1v12h-1zM457 373h1v14h-1zM457 389h1v10h-1zM457 401h1v14h-1zM457 417h1v12h-1zM458 373h1v14h-1zM458 389h1v10h-1zM458 401h1v14h-1zM458 417h1v14h-1zM459 375h1v12h-1zM459 389h1v10h-1zM459 401h1v14h-1zM459 417h1v14h-1zM460 377h1v10h-1zM460 389h1v10h-1zM460 401h1v14h-1zM460 417h1v14h-1zM460 433h1v2h-1zM461 379h1v8h-1zM461 389h1v10h-1zM461 401h1v14h-1zM461 417h1v14h-1zM461 433h1v4h-1zM462 381h1v6h-1zM462 389h1v10h-1zM462 401h1v14h-1zM462 417h1v14h-1zM462 433h1v6h-1zM463 383h1v4h-1zM463 389h1v10h-1zM463 401h1v14h-1zM463 417h1v14h-1zM463 433h1v8h-1zM464 385h1v2h-1zM464 389h1v10h-1zM464 401h1v14h-1zM464 417h1v14h-1zM464 433h1v10h-1zM465 389h1v10h-1zM465 401h1v14h-1zM465 417h1v14h-1zM465 433h1v10h-1zM466 389h1v10h-1zM466 401h1v14h-1zM466 417h1v14h-1zM466 433h1v10h-1zM467 389h1v10h-1zM467 401h1v14h-1zM467 417h1v14h-1zM467 433h1v10h-1zM468 391h1v8h-1zM468 401h1v14h-1zM468 417h1v14h-1zM468 433h1v10h-1zM469 393h2v6h-2zM469 401h2v14h-2zM469 417h2v14h-2zM469 433h2v10h-2zM471 391h1v8h-1zM471 401h1v14h-1zM471 417h1v14h-1zM471 433h1v10h-1zM472 389h1v10h-1zM472 401h1v14h-1zM472 417h1v14h-1zM472 433h1v10h-1zM473 389h1v10h-1zM473 401h1v14h-1zM473 417h1v14h-1zM473 433h1v10h-1zM474 389h1v10h-1zM474 401h1v14h-1zM474 417h1v14h-1zM474 433h1v10h-1zM475 385h1v2h-1zM475 389h1v10h-1zM475 401h1v14h-1zM475 417h1v14h-1zM475 433h1v10h-1zM476 383h1v4h-1zM476 389h1v10h-1zM476 401h1v14h-1zM476 417h1v14h-1zM476 433h1v8h-1zM477 381h1v6h-1zM477 389h1v10h-1zM477 401h1v14h-1zM477 417h1v14h-1zM477 433h1v6h-1zM478 379h1v8h-1zM478 389h1v10h-1zM478 401h1v14h-1zM478 417h1v14h-1zM478 433h1v4h-1zM479 377h1v10h-1zM479 389h1v10h-1zM479 401h1v14h-1zM479 417h1v14h-1zM479 433h1v2h-1zM480 375h1v12h-1zM480 389h1v10h-1zM480 401h1v14h-1zM480 417h1v14h-1zM481 373h1v14h-1zM481 389h1v10h-1zM481 401h1v14h-1zM481 417h1v14h-1zM482 373h1v14h-1zM482 389h1v10h-1zM482 401h1v14h-1zM482 417h1v12h-1zM483 373h1v14h-1zM483 389h1v10h-1zM483 401h1v14h-1zM483 417h1v12h-1zM484 369h1v2h-1zM484 373h1v14h-1zM484 389h1v10h-1zM484 401h1v14h-1zM484 417h1v10h-1zM485 367h1v4h-1zM485 373h1v14h-1zM485 389h1v10h-1zM485 401h1v14h-1zM485 417h1v8h-1zM486 365h1v6h-1zM486 373h1v14h-1zM486 389h1v10h-1zM486 401h1v14h-1zM486 417h1v6h-1zM487 365h1v6h-1zM487 373h1v14h-1zM487 389h1v10h-1zM487 401h1v14h-1zM487 417h1v4h-1zM488 361h1v2h-1zM488 365h1v6h-1zM488 373h1v14h-1zM488 389h1v10h-1zM488 401h1v14h-1zM488 417h1v2h-1zM489 359h1v4h-1zM489 365h1v6h-1zM489 373h1v14h-1zM489 389h1v10h-1zM489 401h1v14h-1zM490 357h1v6h-1zM490 365h1v6h-1zM490 373h1v14h-1zM490 389h1v10h-1zM490 401h1v14h-1zM491 357h1v6h-1zM491 365h1v6h-1zM491 373h1v14h-1zM491 389h1v10h-1zM491 401h1v12h-1zM493 353h1v10h-1zM493 365h1v6h-1zM493 373h1v14h-1zM493 389h1v10h-1zM493 401h1v10h-1zM494 351h1v12h-1zM494 365h1v6h-1zM494 373h1v14h-1zM494 389h1v10h-1zM494 401h1v8h-1zM495 349h1v14h-1zM495 365h1v6h-1zM495 373h1v14h-1zM495 389h1v10h-1zM495 401h1v6h-1zM496 349h1v14h-1zM496 365h1v6h-1zM496 373h1v14h-1zM496 389h1v10h-1zM496 401h1v4h-1zM497 345h1v2h-1zM497 349h1v14h-1zM497 365h1v6h-1zM497 373h1v14h-1zM497 389h1v10h-1zM497 401h1v2h-1zM499 341h1v6h-1zM499 349h1v14h-1zM499 365h1v6h-1zM499 373h1v14h-1zM499 389h1v10h-1zM500 317h1v2h-1zM500 321h1v10h-1zM500 333h1v14h-1zM500 349h1v14h-1zM500 365h1v6h-1zM500 373h1v2h-1zM501 269h1v2h-1zM501 273h1v6h-1zM501 281h1v10h-1zM501 293h1v18h-1zM501 313h1v6h-1zM501 321h1v6h-1zM502 221h1v2h-1zM502 225h1v10h-1zM502 237h1v14h-1zM502 253h1v18h-1zM502 273h1v6h-1zM506 97h1v26h-1zM506 125h1v14h-1zM506 141h1v8h-1zM507 35h1v24h-1zM507 61h1v6h-1zM507 69h1v26h-1zM507 97h1v10h-1zM569 35h1v114h-1zM571 179h1v8h-1zM571 189h1v16h-1zM571 321h1v22h-1zM621 149h2v14h-2zM621 165h2v86h-2zM621 253h2v18h-2zM621 273h2v170h-2zM624 35h1v114h-1zM704 35h2v128h-2zM704 165h2v86h-2zM704 253h2v18h-2zM704 273h2v170h-2zM749 35h2v128h-2zM749 165h2v86h-2zM749 253h2v18h-2zM749 273h2v170h-2zM863 35h1v128h-1zM863 165h1v86h-1zM863 253h1v18h-1zM863 273h1v170h-1zM864 35h1v128h-1zM864 165h1v86h-1zM864 253h1v18h-1zM864 273h1v170h-1zM865 35h1v128h-1zM865 165h1v86h-1zM865 253h1v18h-1zM865 273h1v170h-1zM905 35h3v128h-3zM905 165h3v86h-3zM905 253h3v18h-3zM905 273h3v170h-3zM1002 35h3v128h-3zM1002 165h3v86h-3zM1002 253h3v18h-3zM1002 273h3v170h-3zM1005 35h1v128h-1zM1005 165h1v86h-1zM1005 253h1v18h-1zM1005 273h1v170h-1zM1006 35h1v128h-1zM1006 165h1v86h-1zM1006 253h1v18h-1zM1006 273h1v170h-1zM1007 35h1v128h-1zM1007 165h1v86h-1zM1007 253h1v18h-1zM1007 273h1v170h-1zM1008 35h16v128h-16zM1008 165h16v86h-16zM1008 253h16v18h-16zM1008 273h16v170h-16zM1024 35h1v128h-1zM1024 165h1v86h-1zM1024 253h1v18h-1zM1024 273h1v170h-1zM1025 35h1v128h-1zM1025 165h1v86h-1zM1025 253h1v18h-1zM1025 273h1v170h-1zM1026 35h10v128h-10zM1026 165h10v86h-10zM1026 253h10v18h-10zM1026 273h10v170h-10z"/>
<path fill="#001a04" d="M438 381h1v18h-1zM438 401h1v36h-1zM439 393h1v6h-1zM439 401h1v42h-1zM440 401h1v42h-1zM441 401h1v42h-1zM442 403h1v40h-1zM443 405h1v38h-1zM444 407h1v36h-1zM445 409h1v34h-1zM446 411h1v32h-1zM447 413h1v30h-1zM448 413h1v30h-1zM449 415h1v28h-1zM450 417h1v26h-1zM451 419h1v24h-1zM452 421h1v22h-1zM453 423h1v20h-1zM454 425h1v6h-1zM454 433h1v10h-1zM455 427h1v4h-1zM455 433h1v10h-1zM456 429h1v2h-1zM456 433h1v10h-1zM457 429h1v2h-1zM457 433h1v10h-1zM458 433h1v10h-1zM459 433h1v10h-1zM460 435h1v8h-1zM461 437h1v6h-1zM462 439h1v4h-1zM463 441h1v2h-1zM476 441h1v2h-1zM477 439h1v4h-1zM478 437h1v6h-1zM479 435h1v8h-1zM480 433h1v10h-1zM481 433h1v10h-1zM482 429h1v2h-1zM482 433h1v10h-1zM483 429h1v2h-1zM483 433h1v10h-1zM484 427h1v4h-1zM484 433h1v10h-1zM485 425h1v6h-1zM485 433h1v10h-1zM486 423h1v8h-1zM486 433h1v10h-1zM487 421h1v10h-1zM487 433h1v10h-1zM488 419h1v12h-1zM488 433h1v10h-1zM489 417h1v14h-1zM489 433h1v10h-1zM490 417h1v14h-1zM490 433h1v10h-1zM491 413h1v2h-1zM491 417h1v14h-1zM491 433h1v10h-1zM493 411h1v4h-1zM493 417h1v14h-1zM493 433h1v10h-1zM494 409h1v6h-1zM494 417h1v14h-1zM494 433h1v10h-1zM495 407h1v8h-1zM495 417h1v14h-1zM495 433h1v10h-1zM496 405h1v10h-1zM496 417h1v14h-1zM496 433h1v10h-1zM497 403h1v12h-1zM497 417h1v14h-1zM497 433h1v10h-1zM499 401h1v14h-1zM499 417h1v14h-1zM499 433h1v10h-1zM500 375h1v12h-1zM500 389h1v10h-1zM500 401h1v14h-1zM500 417h1v14h-1zM501 327h1v4h-1zM501 333h1v14h-1zM501 349h1v14h-1zM501 365h1v6h-1zM501 373h1v12h-1zM502 281h1v10h-1zM502 293h1v18h-1zM502 313h1v6h-1zM502 321h1v10h-1zM502 333h1v4h-1zM505 149h1v2h-1zM505 153h1v10h-1zM505 165h1v2h-1zM505 169h1v18h-1zM505 189h1v12h-1zM506 149h1v2h-1zM507 107h1v16h-1zM507 125h1v14h-1zM507 141h1v8h-1zM508 35h1v24h-1zM508 61h1v6h-1zM508 69h1v26h-1zM508 97h1v26h-1zM567 35h1v104h-1zM567 141h1v8h-1zM568 35h1v114h-1zM569 149h1v2h-1zM569 153h1v10h-1zM569 165h1v22h-1zM569 189h1v46h-1zM569 237h1v14h-1zM569 253h1v18h-1zM569 273h1v6h-1zM569 281h1v38h-1zM569 321h1v26h-1zM569 349h1v14h-1zM569 365h1v22h-1zM569 389h1v26h-1zM569 417h1v14h-1zM569 433h1v10h-1zM570 149h1v2h-1zM570 153h1v10h-1zM570 165h1v22h-1zM570 189h1v46h-1zM570 237h1v14h-1zM570 253h1v18h-1zM570 273h1v6h-1zM570 281h1v38h-1zM570 321h1v26h-1zM570 349h1v14h-1zM570 365h1v22h-1zM570 389h1v26h-1zM570 417h1v14h-1zM570 433h1v10h-1zM623 149h1v14h-1zM623 165h1v86h-1zM623 253h1v18h-1zM623 273h1v170h-1zM624 149h1v14h-1zM624 165h1v86h-1zM624 253h1v18h-1zM624 273h1v170h-1zM702 35h2v128h-2zM702 165h2v86h-2zM702 253h2v18h-2zM702 273h2v170h-2zM751 35h3v128h-3zM751 165h3v86h-3zM751 253h3v18h-3zM751 273h3v170h-3zM860 35h1v128h-1zM860 165h1v86h-1zM860 253h1v18h-1zM860 273h1v170h-1zM861 35h1v128h-1zM861 165h1v86h-1zM861 253h1v18h-1zM861 273h1v170h-1zM862 35h1v128h-1zM862 165h1v86h-1zM862 253h1v18h-1zM862 273h1v170h-1zM908 35h1v128h-1zM908 165h1v86h-1zM908 253h1v18h-1zM908 273h1v170h-1zM909 35h1v128h-1zM909 165h1v86h-1zM909 253h1v18h-1zM909 273h1v170h-1zM910 35h1v128h-1zM910 165h1v86h-1zM910 253h1v18h-1zM910 273h1v170h-1zM999 35h3v128h-3zM999 165h3v86h-3zM999 253h3v18h-3zM999 273h3v170h-3zM1036 35h2v128h-2zM1036 165h2v86h-2zM1036 253h2v18h-2zM1036 273h2v170h-2zM1038 35h1v128h-1zM1038 165h1v86h-1zM1038 253h1v18h-1zM1038 273h1v170h-1zM1039 35h1v408h-1z"/>
<path fill="#001a06" d="M438 437h1v6h-1zM500 433h1v10h-1zM501 385h1v2h-1zM501 389h1v10h-1zM501 401h1v14h-1zM501 417h1v14h-1zM501 433h1v8h-1zM502 337h1v10h-1zM502 349h1v14h-1zM502 365h1v6h-1zM502 373h1v14h-1zM502 389h1v4h-1zM505 201h1v2h-1zM505 205h1v18h-1zM505 225h1v10h-1zM505 237h1v14h-1zM505 253h1v14h-1zM506 153h1v10h-1zM506 165h1v2h-1zM506 169h1v18h-1zM506 189h1v14h-1zM506 205h1v18h-1zM506 225h1v4h-1zM507 149h1v2h-1zM507 153h1v10h-1zM507 165h1v2h-1zM507 169h1v4h-1zM508 125h1v14h-1zM508 141h1v8h-1zM509 35h1v24h-1zM509 61h1v6h-1zM509 69h1v26h-1zM509 97h1v26h-1zM509 125h1v14h-1zM509 141h1v8h-1zM510 35h1v24h-1zM510 61h1v6h-1zM565 35h1v104h-1zM565 141h1v8h-1zM566 35h1v104h-1zM566 141h1v8h-1zM567 149h1v2h-1zM567 153h1v10h-1zM567 165h1v22h-1zM567 189h1v46h-1zM567 237h1v14h-1zM567 253h1v18h-1zM567 273h1v6h-1zM567 281h1v38h-1zM567 321h1v26h-1zM567 349h1v14h-1zM567 365h1v22h-1zM567 389h1v26h-1zM567 417h1v14h-1zM567 433h1v10h-1zM568 149h1v2h-1zM568 153h1v10h-1zM568 165h1v22h-1zM568 189h1v46h-1zM568 237h1v14h-1zM568 253h1v18h-1zM568 273h1v6h-1zM568 281h1v38h-1zM568 321h1v26h-1zM568 349h1v14h-1zM568 365h1v22h-1zM568 389h1v26h-1zM568 417h1v14h-1zM568 433h1v10h-1zM625 35h2v128h-2zM625 165h2v86h-2zM625 253h2v18h-2zM625 273h2v170h-2zM700 35h2v128h-2zM700 165h2v86h-2zM700 253h2v18h-2zM700 273h2v170h-2zM754 35h5v128h-5zM754 165h5v86h-5zM754 253h5v18h-5zM754 273h5v170h-5zM856 35h4v128h-4zM856 165h4v86h-4zM856 253h4v18h-4zM856 273h4v170h-4zM911 35h2v128h-2zM911 165h2v86h-2zM911 253h2v18h-2zM911 273h2v170h-2zM996 35h3v128h-3zM996 165h3v86h-3zM996 253h3v18h-3zM996 273h3v170h-3zM1040 35h4v408h-4z"/>
<path fill="#0c1a00" d="M440 35h1v6h-1zM441 35h1v8h-1zM442 35h1v10h-1zM443 35h1v12h-1zM444 35h1v14h-1zM445 35h1v16h-1zM446 35h1v18h-1zM447 35h1v20h-1zM448 35h1v22h-1zM449 35h1v22h-1zM450 35h1v24h-1zM451 35h1v24h-1zM452 35h1v24h-1zM452 61h1v2h-1zM453 35h1v24h-1zM453 61h1v4h-1zM454 35h1v24h-1zM454 61h1v6h-1zM455 35h1v24h-1zM455 61h1v6h-1zM456 35h1v24h-1zM456 61h1v6h-1zM456 69h1v2h-1zM457 35h1v24h-1zM457 61h1v6h-1zM457 69h1v4h-1zM458 35h1v24h-1zM458 61h1v6h-1zM458 69h1v4h-1zM459 35h1v24h-1zM459 61h1v6h-1zM459 69h1v6h-1zM460 35h1v24h-1zM460 61h1v6h-1zM460 69h1v8h-1zM461 35h1v24h-1zM461 61h1v6h-1zM461 69h1v10h-1zM462 35h1v24h-1zM462 61h1v6h-1zM462 69h1v12h-1zM463 35h1v24h-1zM463 61h1v6h-1zM463 69h1v14h-1zM464 35h1v24h-1zM464 61h1v6h-1zM464 69h1v16h-1zM465 35h1v24h-1zM465 61h1v6h-1zM465 69h1v18h-1zM466 35h1v24h-1zM466 61h1v6h-1zM466 69h1v20h-1zM467 35h1v24h-1zM467 61h1v6h-1zM467 69h1v22h-1zM468 35h1v24h-1zM468 61h1v6h-1zM468 69h1v22h-1zM469 35h2v24h-2zM469 61h2v6h-2zM469 69h2v24h-2zM471 35h1v24h-1zM471 61h1v6h-1zM471 69h1v22h-1zM472 35h1v24h-1zM472 61h1v6h-1zM472 69h1v22h-1zM473 35h1v24h-1zM473 61h1v6h-1zM473 69h1v20h-1zM474 35h1v24h-1zM474 61h1v6h-1zM474 69h1v18h-1zM475 35h1v24h-1zM475 61h1v6h-1zM475 69h1v16h-1zM476 35h1v24h-1zM476 61h1v6h-1zM476 69h1v14h-1zM477 35h1v24h-1zM477 61h1v6h-1zM477 69h1v12h-1zM478 35h1v24h-1zM478 61h1v6h-1zM478 69h1v10h-1zM479 35h1v24h-1zM479 61h1v6h-1zM479 69h1v8h-1zM480 35h1v24h-1zM480 61h1v6h-1zM480 69h1v6h-1zM481 35h1v24h-1zM481 61h1v6h-1zM481 69h1v4h-1zM482 35h1v24h-1zM482 61h1v6h-1zM482 69h1v4h-1zM483 35h1v24h-1zM483 61h1v6h-1zM483 69h1v2h-1zM484 35h1v24h-1zM484 61h1v6h-1zM485 35h1v24h-1zM485 61h1v6h-1zM486 35h1v24h-1zM486 61h1v4h-1zM487 35h1v24h-1zM487 61h1v2h-1zM488 35h1v24h-1zM489 35h1v24h-1zM490 35h1v22h-1zM491 35h1v22h-1zM493 35h1v18h-1zM494 35h1v16h-1zM495 35h1v14h-1zM496 35h1v12h-1zM497 35h1v10h-1zM499 35h1v6h-1z"/>
<path fill="#1c1400" d="M444 67h1v2h-1zM445 67h1v2h-1zM446 67h1v2h-1zM447 67h1v2h-1zM448 59h1v2h-1zM448 67h1v2h-1zM449 59h1v2h-1zM449 67h1v2h-1zM449 139h1v2h-1zM450 59h1v2h-1zM450 67h1v2h-1zM450 139h1v2h-1zM451 59h1v2h-1zM451 67h1v2h-1zM451 95h1v2h-1zM451 139h1v2h-1zM452 59h1v2h-1zM452 67h1v2h-1zM452 95h1v2h-1zM452 139h1v2h-1zM453 59h1v2h-1zM453 67h1v2h-1zM453 95h1v2h-1zM453 139h1v2h-1zM454 59h1v2h-1zM454 67h1v2h-1zM454 95h1v2h-1zM454 139h1v2h-1zM455 59h1v2h-1zM455 67h1v2h-1zM455 95h1v2h-1zM455 139h1v2h-1zM456 59h1v2h-1zM456 67h1v2h-1zM456 95h1v2h-1zM456 139h1v2h-1zM457 59h1v2h-1zM457 67h1v2h-1zM457 95h1v2h-1zM457 139h1v2h-1zM458 59h1v2h-1zM458 67h1v2h-1zM458 95h1v2h-1zM458 139h1v2h-1zM459 59h1v2h-1zM459 67h1v2h-1zM459 95h1v2h-1zM459 139h1v2h-1zM460 59h1v2h-1zM460 67h1v2h-1zM460 95h1v2h-1zM460 139h1v2h-1zM461 59h1v2h-1zM461 67h1v2h-1zM461 95h1v2h-1zM461 139h1v2h-1zM462 59h1v2h-1zM462 67h1v2h-1zM462 95h1v2h-1zM462 139h1v2h-1zM463 59h1v2h-1zM463 67h1v2h-1zM463 95h1v2h-1zM463 139h1v2h-1zM464 59h1v2h-1zM464 67h1v2h-1zM464 95h1v2h-1zM464 139h1v2h-1zM465 59h1v2h-1zM465 67h1v2h-1zM465 95h1v2h-1zM465 139h1v2h-1zM466 59h1v2h-1zM466 67h1v2h-1zM466 95h1v2h-1zM466 139h1v2h-1zM467 59h1v2h-1zM467 67h1v2h-1zM467 95h1v2h-1zM467 123h1v2h-1zM467 139h1v2h-1zM468 59h1v2h-1zM468 67h1v2h-1zM468 95h1v2h-1zM468 123h1v2h-1zM468 139h1v2h-1zM469 59h2v2h-2zM469 67h2v2h-2zM469 95h2v2h-2zM469 123h2v2h-2zM469 139h2v2h-2zM471 59h1v2h-1zM471 67h1v2h-1zM471 95h1v2h-1zM471 123h1v2h-1zM471 139h1v2h-1zM472 59h1v2h-1zM472 67h1v2h-1zM472 95h1v2h-1zM472 123h1v2h-1zM472 139h1v2h-1zM473 59h1v2h-1zM473 67h1v2h-1zM473 95h1v2h-1zM473 139h1v2h-1zM474 59h1v2h-1zM474 67h1v2h-1zM474 95h1v2h-1zM474 139h1v2h-1zM475 59h1v2h-1zM475 67h1v2h-1zM475 95h1v2h-1zM475 139h1v2h-1zM476 59h1v2h-1zM476 67h1v2h-1zM476 95h1v2h-1zM476 139h1v2h-1zM477 59h1v2h-1zM477 67h1v2h-1zM477 95h1v2h-1zM477 139h1v2h-1zM478 59h1v2h-1zM478 67h1v2h-1zM478 95h1v2h-1zM478 139h1v2h-1zM479 59h1v2h-1zM479 67h1v2h-1zM479 95h1v2h-1zM479 139h1v2h-1zM480 59h1v2h-1zM480 67h1v2h-1zM480 95h1v2h-1zM480 139h1v2h-1zM481 59h1v2h-1zM481 67h1v2h-1zM481 95h1v2h-1zM481 139h1v2h-1zM482 59h1v2h-1zM482 67h1v2h-1zM482 95h1v2h-1zM482 139h1v2h-1zM483 59h1v2h-1zM483 67h1v2h-1zM483 95h1v2h-1zM483 139h1v2h-1zM484 59h1v2h-1zM484 67h1v2h-1zM484 95h1v2h-1zM484 139h1v2h-1zM485 59h1v2h-1zM485 67h1v2h-1zM485 95h1v2h-1zM485 139h1v2h-1zM486 59h1v2h-1zM486 67h1v2h-1zM486 95h1v2h-1zM486 139h1v2h-1zM487 59h1v2h-1zM487 67h1v2h-1zM487 95h1v2h-1zM487 139h1v2h-1zM488 59h1v2h-1zM488 67h1v2h-1zM488 95h1v2h-1zM488 139h1v2h-1zM489 59h1v2h-1zM489 67h1v2h-1zM489 139h1v2h-1zM490 59h1v2h-1zM490 67h1v2h-1zM490 139h1v2h-1zM491 59h1v2h-1zM491 67h1v2h-1zM493 67h1v2h-1zM494 67h1v2h-1zM495 67h1v2h-1zM496 67h1v2h-1zM497 67h1v2h-1zM499 67h1v2h-1z"/>
<path fill="#001a08" d="M501 441h1v2h-1zM502 393h1v6h-1zM502 401h1v14h-1zM502 417h1v14h-1zM502 433h1v10h-1zM505 267h1v4h-1zM505 273h1v6h-1zM505 281h1v10h-1zM505 293h1v18h-1zM505 313h1v6h-1zM505 321h1v10h-1zM506 229h1v6h-1zM506 237h1v14h-1zM506 253h1v18h-1zM506 273h1v6h-1zM506 281h1v10h-1zM506 293h1v12h-1zM507 173h1v14h-1zM507 189h1v14h-1zM507 205h1v18h-1zM507 225h1v10h-1zM507 237h1v14h-1zM507 253h1v12h-1zM508 149h1v2h-1zM508 153h1v10h-1zM508 165h1v2h-1zM508 169h1v18h-1zM508 189h1v14h-1zM510 69h1v26h-1zM510 97h1v26h-1zM510 125h1v14h-1zM510 141h1v8h-1zM511 35h1v24h-1zM511 61h1v6h-1zM511 69h1v26h-1zM511 97h1v26h-1zM511 125h1v14h-1zM511 141h1v8h-1zM512 35h16v24h-16zM512 61h16v6h-16zM512 69h16v26h-16zM512 97h16v26h-16zM512 125h16v14h-16zM512 141h16v8h-16zM528 35h8v24h-8zM528 61h8v6h-8zM528 69h8v26h-8zM528 97h8v42h-8zM528 141h8v8h-8zM536 35h3v24h-3zM536 61h3v6h-3zM536 69h3v26h-3zM536 97h3v42h-3zM536 141h3v8h-3zM539 35h4v24h-4zM539 61h4v6h-4zM539 69h4v26h-4zM539 97h4v42h-4zM539 141h4v8h-4zM543 35h2v24h-2zM543 61h2v78h-2zM543 141h2v8h-2zM545 35h9v104h-9zM545 141h9v8h-9zM554 35h1v104h-1zM554 141h1v8h-1zM555 35h3v104h-3zM555 141h3v8h-3zM558 35h6v104h-6zM558 141h6v8h-6zM564 35h1v104h-1zM564 141h1v8h-1zM566 149h1v2h-1zM566 153h1v10h-1zM566 165h1v22h-1zM566 189h1v46h-1zM566 237h1v14h-1zM566 253h1v18h-1zM566 273h1v6h-1zM566 281h1v38h-1zM566 321h1v26h-1zM566 349h1v14h-1zM566 365h1v22h-1zM566 389h1v26h-1zM566 417h1v14h-1zM566 433h1v10h-1zM627 35h3v128h-3zM627 165h3v86h-3zM627 253h3v18h-3zM627 273h3v170h-3zM698 35h2v128h-2zM698 165h2v86h-2zM698 253h2v18h-2zM698 273h2v170h-2zM759 35h9v128h-9zM759 165h9v86h-9zM759 253h9v18h-9zM759 273h9v170h-9zM853 35h3v128h-3zM853 165h3v86h-3zM853 253h3v18h-3zM853 273h3v170h-3zM913 35h3v128h-3zM913 165h3v86h-3zM913 253h3v18h-3zM913 273h3v170h-3zM993 35h3v128h-3zM993 165h3v86h-3zM993 253h3v18h-3zM993 273h3v170h-3zM1044 35h5v408h-5zM1108 35h1v128h-1zM1108 165h1v86h-1zM1108 253h1v18h-1zM1108 273h1v170h-1zM1109 35h1v128h-1zM1109 165h1v86h-1zM1109 253h1v18h-1zM1109 273h1v170h-1zM1110 35h42v128h-42zM1110 165h42v86h-42zM1110 253h42v18h-42zM1110 273h42v170h-42z"/>
<path fill="#081400" d="M502 387h1v2h-1zM505 311h1v2h-1zM505 347h1v2h-1zM506 203h1v2h-1zM506 279h1v2h-1zM506 347h1v2h-1zM507 203h1v2h-1zM507 235h1v2h-1zM507 279h1v2h-1zM508 167h1v2h-1zM509 151h1v2h-1zM509 167h1v2h-1zM509 187h1v2h-1zM509 223h1v2h-1zM510 59h1v2h-1zM510 67h1v2h-1zM510 95h1v2h-1zM510 123h1v2h-1zM510 187h1v2h-1zM510 223h1v2h-1zM511 59h1v2h-1zM511 67h1v2h-1zM511 95h1v2h-1zM511 123h1v2h-1zM511 167h1v2h-1zM511 187h1v2h-1zM511 223h1v2h-1zM511 415h1v2h-1zM512 59h16v2h-16zM512 67h16v2h-16zM512 95h16v2h-16zM512 123h16v2h-16zM512 151h16v2h-16zM512 167h16v2h-16zM512 187h16v2h-16zM512 223h16v2h-16zM512 279h16v2h-16zM512 347h16v2h-16zM512 399h16v2h-16zM512 415h16v2h-16zM512 431h16v2h-16zM528 59h8v2h-8zM528 67h8v2h-8zM528 95h8v2h-8zM528 151h8v2h-8zM528 167h8v2h-8zM528 187h8v2h-8zM528 223h8v2h-8zM528 279h8v2h-8zM528 347h8v2h-8zM528 399h8v2h-8zM528 415h8v2h-8zM528 431h8v2h-8zM536 59h3v2h-3zM536 67h3v2h-3zM536 95h3v2h-3zM536 151h3v2h-3zM536 167h3v2h-3zM536 187h3v2h-3zM536 223h3v2h-3zM536 279h3v2h-3zM536 347h3v2h-3zM536 399h3v2h-3zM536 415h3v2h-3zM536 431h3v2h-3zM539 59h4v2h-4zM539 67h4v2h-4zM539 95h4v2h-4zM539 151h4v2h-4zM539 187h4v2h-4zM539 223h4v2h-4zM539 279h4v2h-4zM539 347h4v2h-4zM539 415h4v2h-4zM539 431h4v2h-4zM543 59h2v2h-2zM543 151h2v2h-2zM543 187h2v2h-2zM543 223h2v2h-2zM543 279h2v2h-2zM543 347h2v2h-2zM543 415h2v2h-2zM543 431h2v2h-2zM545 151h9v2h-9zM545 187h9v2h-9zM545 223h9v2h-9zM545 279h9v2h-9zM545 347h9v2h-9zM545 415h9v2h-9zM545 431h9v2h-9zM554 151h1v2h-1zM554 187h1v2h-1zM554 223h1v2h-1zM554 279h1v2h-1zM554 347h1v2h-1zM554 415h1v2h-1zM554 431h1v2h-1zM555 151h3v2h-3zM555 187h3v2h-3zM555 223h3v2h-3zM555 279h3v2h-3zM555 347h3v2h-3zM555 415h3v2h-3zM555 431h3v2h-3zM558 151h6v2h-6zM558 187h6v2h-6zM558 279h6v2h-6zM558 347h6v2h-6zM558 415h6v2h-6zM558 431h6v2h-6zM564 151h1v2h-1zM564 187h1v2h-1zM564 279h1v2h-1zM564 347h1v2h-1zM564 415h1v2h-1zM564 431h1v2h-1zM565 151h1v2h-1zM565 279h1v2h-1zM565 347h1v2h-1zM565 363h1v2h-1zM565 431h1v2h-1zM566 151h1v2h-1zM566 235h1v2h-1zM566 279h1v2h-1zM566 363h1v2h-1zM566 387h1v2h-1zM567 387h1v2h-1z"/>
<path fill="#061400" d="M505 291h1v2h-1zM505 331h1v2h-1zM505 363h1v2h-1zM505 371h1v2h-1zM505 399h1v2h-1zM505 415h1v2h-1zM505 431h1v2h-1zM506 291h1v2h-1zM506 311h1v2h-1zM506 331h1v2h-1zM506 363h1v2h-1zM506 371h1v2h-1zM506 399h1v2h-1zM506 415h1v2h-1zM506 431h1v2h-1zM507 311h1v2h-1zM507 347h1v2h-1zM507 363h1v2h-1zM507 371h1v2h-1zM507 399h1v2h-1zM507 415h1v2h-1zM508 203h1v2h-1zM508 235h1v2h-1zM508 279h1v2h-1zM508 347h1v2h-1zM508 399h1v2h-1zM508 415h1v2h-1zM509 235h1v2h-1zM509 279h1v2h-1zM509 347h1v2h-1zM509 415h1v2h-1zM510 151h1v2h-1zM510 167h1v2h-1zM510 235h1v2h-1zM510 279h1v2h-1zM510 347h1v2h-1zM510 415h1v2h-1zM511 151h1v2h-1zM511 235h1v2h-1zM511 279h1v2h-1zM511 347h1v2h-1zM511 363h1v2h-1zM511 371h1v2h-1zM511 399h1v2h-1zM511 431h1v2h-1zM512 235h16v2h-16zM512 311h16v2h-16zM512 331h16v2h-16zM512 363h16v2h-16zM512 371h16v2h-16zM512 387h16v2h-16zM528 235h8v2h-8zM528 311h8v2h-8zM528 331h8v2h-8zM528 363h8v2h-8zM528 371h8v2h-8zM528 387h8v2h-8zM536 235h3v2h-3zM536 311h3v2h-3zM536 331h3v2h-3zM536 363h3v2h-3zM536 371h3v2h-3zM536 387h3v2h-3zM539 235h4v2h-4zM539 311h4v2h-4zM539 331h4v2h-4zM539 363h4v2h-4zM539 371h4v2h-4zM539 387h4v2h-4zM543 235h2v2h-2zM543 311h2v2h-2zM543 363h2v2h-2zM543 371h2v2h-2zM543 387h2v2h-2zM545 235h9v2h-9zM545 311h9v2h-9zM545 363h9v2h-9zM545 371h9v2h-9zM545 387h9v2h-9zM554 235h1v2h-1zM554 311h1v2h-1zM554 363h1v2h-1zM554 371h1v2h-1zM554 387h1v2h-1zM555 235h3v2h-3zM555 311h3v2h-3zM555 363h3v2h-3zM555 387h3v2h-3zM558 235h6v2h-6zM558 311h6v2h-6zM558 363h6v2h-6zM558 387h6v2h-6zM564 235h1v2h-1zM564 363h1v2h-1zM564 387h1v2h-1zM565 235h1v2h-1zM565 387h1v2h-1z"/>
<path fill="#001a0a" d="M505 333h1v14h-1zM505 349h1v14h-1zM505 365h1v6h-1zM505 373h1v14h-1zM505 389h1v10h-1zM506 305h1v6h-1zM506 313h1v6h-1zM506 321h1v10h-1zM506 333h1v14h-1zM506 349h1v14h-1zM506 365h1v6h-1zM506 373h1v8h-1zM507 265h1v6h-1zM507 273h1v6h-1zM507 281h1v10h-1zM507 293h1v18h-1zM507 313h1v6h-1zM507 321h1v10h-1zM507 333h1v14h-1zM507 349h1v8h-1zM508 205h1v18h-1zM508 225h1v10h-1zM508 237h1v14h-1zM508 253h1v18h-1zM508 273h1v6h-1zM508 281h1v10h-1zM508 293h1v18h-1zM508 313h1v6h-1zM509 149h1v2h-1zM509 153h1v10h-1zM509 165h1v2h-1zM509 169h1v18h-1zM509 189h1v14h-1zM509 205h1v18h-1zM509 225h1v10h-1zM509 237h1v14h-1zM509 253h1v4h-1zM510 149h1v2h-1zM510 153h1v10h-1zM510 165h1v2h-1zM510 169h1v18h-1zM510 189h1v14h-1zM510 205h1v18h-1zM510 225h1v4h-1zM511 149h1v2h-1zM511 153h1v10h-1zM511 165h1v2h-1zM511 169h1v18h-1zM511 189h1v14h-1zM511 205h1v18h-1zM511 225h1v10h-1zM511 237h1v14h-1zM511 253h1v18h-1zM511 273h1v6h-1zM511 281h1v10h-1zM511 293h1v18h-1zM511 313h1v6h-1zM511 321h1v10h-1zM511 333h1v4h-1zM512 149h16v2h-16zM512 153h16v10h-16zM512 165h16v2h-16zM512 169h16v18h-16zM512 189h16v14h-16zM512 205h16v18h-16zM512 225h16v10h-16zM512 237h16v14h-16zM512 253h16v18h-16zM512 273h16v6h-16zM512 281h16v10h-16zM512 293h16v18h-16zM512 313h16v6h-16zM512 321h16v10h-16zM512 333h16v14h-16zM512 349h16v14h-16zM512 365h16v6h-16zM512 373h16v14h-16zM512 389h16v10h-16zM512 401h16v14h-16zM512 417h16v14h-16zM512 433h16v10h-16zM528 149h8v2h-8zM528 153h8v10h-8zM528 165h8v2h-8zM528 169h8v18h-8zM528 189h8v14h-8zM528 205h8v18h-8zM528 225h8v10h-8zM528 237h8v14h-8zM528 253h8v18h-8zM528 273h8v6h-8zM528 281h8v10h-8zM528 293h8v18h-8zM528 313h8v6h-8zM528 321h8v10h-8zM528 333h8v14h-8zM528 349h8v14h-8zM528 365h8v6h-8zM528 373h8v14h-8zM528 389h8v10h-8zM528 401h8v14h-8zM528 417h8v14h-8zM528 433h8v10h-8zM536 149h3v2h-3zM536 153h3v10h-3zM536 165h3v2h-3zM536 169h3v18h-3zM536 189h3v14h-3zM536 205h3v18h-3zM536 225h3v10h-3zM536 237h3v14h-3zM536 253h3v18h-3zM536 273h3v6h-3zM536 281h3v30h-3zM536 313h3v6h-3zM536 321h3v10h-3zM536 333h3v14h-3zM536 349h3v14h-3zM536 365h3v6h-3zM536 373h3v14h-3zM536 389h3v10h-3zM536 401h3v14h-3zM536 417h3v14h-3zM536 433h3v10h-3zM539 149h4v2h-4zM539 153h4v10h-4zM539 165h4v22h-4zM539 189h4v14h-4zM539 205h4v18h-4zM539 225h4v10h-4zM539 237h4v14h-4zM539 253h4v18h-4zM539 273h4v6h-4zM539 281h4v30h-4zM539 313h4v6h-4zM539 321h4v10h-4zM539 333h4v14h-4zM539 349h4v14h-4zM539 365h4v6h-4zM539 373h4v14h-4zM539 389h4v26h-4zM539 417h4v14h-4zM539 433h4v10h-4zM543 149h2v2h-2zM543 153h2v10h-2zM543 165h2v22h-2zM543 189h2v14h-2zM543 205h2v18h-2zM543 225h2v10h-2zM543 237h2v14h-2zM543 253h2v18h-2zM543 273h2v6h-2zM543 281h2v30h-2zM543 313h2v6h-2zM543 321h2v26h-2zM543 349h2v14h-2zM543 365h2v6h-2zM543 373h2v14h-2zM543 389h2v26h-2zM543 417h2v14h-2zM543 433h2v10h-2zM545 149h9v2h-9zM545 153h9v10h-9zM545 165h9v22h-9zM545 189h9v14h-9zM545 205h9v18h-9zM545 225h9v10h-9zM545 237h9v14h-9zM545 253h9v18h-9zM545 273h9v6h-9zM545 281h9v30h-9zM545 313h9v6h-9zM545 321h9v26h-9zM545 349h9v14h-9zM545 365h9v6h-9zM545 373h9v14h-9zM545 389h9v26h-9zM545 417h9v14h-9zM545 433h9v10h-9zM554 149h1v2h-1zM554 153h1v10h-1zM554 165h1v22h-1zM554 189h1v34h-1zM554 225h1v10h-1zM554 237h1v14h-1zM554 253h1v18h-1zM554 273h1v6h-1zM554 281h1v30h-1zM554 313h1v6h-1zM554 321h1v26h-1zM554 349h1v14h-1zM554 365h1v6h-1zM554 373h1v14h-1zM554 389h1v26h-1zM554 417h1v14h-1zM554 433h1v10h-1zM555 149h3v2h-3zM555 153h3v10h-3zM555 165h3v22h-3zM555 189h3v34h-3zM555 225h3v10h-3zM555 237h3v14h-3zM555 253h3v18h-3zM555 273h3v6h-3zM555 281h3v30h-3zM555 313h3v6h-3zM555 321h3v26h-3zM555 349h3v14h-3zM555 365h3v22h-3zM555 389h3v26h-3zM555 417h3v14h-3zM555 433h3v10h-3zM558 149h6v2h-6zM558 153h6v10h-6zM558 165h6v22h-6zM558 189h6v46h-6zM558 237h6v14h-6zM558 253h6v18h-6zM558 273h6v6h-6zM558 281h6v30h-6zM558 313h6v6h-6zM558 321h6v26h-6zM558 349h6v14h-6zM558 365h6v22h-6zM558 389h6v26h-6zM558 417h6v14h-6zM558 433h6v10h-6zM564 149h1v2h-1zM564 153h1v10h-1zM564 165h1v22h-1zM564 189h1v46h-1zM564 237h1v14h-1zM564 253h1v18h-1zM564 273h1v6h-1zM564 281h1v38h-1zM564 321h1v26h-1zM564 349h1v14h-1zM564 365h1v22h-1zM564 389h1v26h-1zM564 417h1v14h-1zM564 433h1v10h-1zM565 149h1v2h-1zM565 153h1v10h-1zM565 165h1v22h-1zM565 189h1v46h-1zM565 237h1v14h-1zM565 253h1v18h-1zM565 273h1v6h-1zM565 281h1v38h-1zM565 321h1v26h-1zM565 349h1v14h-1zM565 365h1v22h-1zM565 389h1v26h-1zM565 417h1v14h-1zM565 433h1v10h-1zM630 35h2v128h-2zM630 165h2v86h-2zM630 253h2v18h-2zM630 273h2v170h-2zM696 35h2v128h-2zM696 165h2v86h-2zM696 253h2v18h-2zM696 273h2v170h-2zM768 35h7v128h-7zM768 165h7v86h-7zM768 253h7v18h-7zM768 273h7v170h-7zM775 35h1v128h-1zM775 165h1v86h-1zM775 253h1v18h-1zM775 273h1v170h-1zM776 35h1v128h-1zM776 165h1v86h-1zM776 253h1v18h-1zM776 273h1v170h-1zM777 35h1v128h-1zM777 165h1v86h-1zM777 253h1v18h-1zM777 273h1v170h-1zM778 35h1v128h-1zM778 165h1v86h-1zM778 253h1v18h-1zM778 273h1v170h-1zM779 35h63v128h-63zM779 165h63v86h-63zM779 253h63v18h-63zM779 273h63v170h-63zM850 35h3v128h-3zM850 165h3v86h-3zM850 253h3v18h-3zM850 273h3v170h-3zM916 35h2v128h-2zM916 165h2v86h-2zM916 253h2v18h-2zM916 273h2v170h-2zM989 35h4v128h-4zM989 165h4v86h-4zM989 253h4v18h-4zM989 273h4v170h-4zM1049 35h4v408h-4zM1102 35h6v128h-6zM1102 165h6v86h-6zM1102 253h6v18h-6zM1102 273h6v170h-6zM1152 35h4v128h-4zM1152 165h4v86h-4zM1152 253h4v18h-4zM1152 273h4v170h-4z"/>
<path fill="#041400" d="M505 387h1v2h-1zM506 387h1v2h-1zM507 291h1v2h-1zM507 331h1v2h-1zM507 387h1v2h-1zM507 431h1v2h-1zM508 291h1v2h-1zM508 311h1v2h-1zM508 331h1v2h-1zM508 363h1v2h-1zM508 371h1v2h-1zM508 387h1v2h-1zM508 431h1v2h-1zM509 203h1v2h-1zM509 291h1v2h-1zM509 311h1v2h-1zM509 331h1v2h-1zM509 363h1v2h-1zM509 371h1v2h-1zM509 399h1v2h-1zM509 431h1v2h-1zM510 203h1v2h-1zM510 291h1v2h-1zM510 311h1v2h-1zM510 331h1v2h-1zM510 363h1v2h-1zM510 371h1v2h-1zM510 387h1v2h-1zM510 399h1v2h-1zM510 431h1v2h-1zM511 203h1v2h-1zM511 291h1v2h-1zM511 311h1v2h-1zM511 331h1v2h-1zM511 387h1v2h-1zM512 203h16v2h-16zM512 291h16v2h-16zM528 203h8v2h-8zM528 291h8v2h-8zM536 203h3v2h-3zM539 203h4v2h-4zM543 203h2v2h-2zM545 203h9v2h-9z"/>
<path fill="#001a0c" d="M505 401h1v14h-1zM505 417h1v14h-1zM505 433h1v10h-1zM506 381h1v6h-1zM506 389h1v10h-1zM506 401h1v14h-1zM506 417h1v14h-1zM506 433h1v10h-1zM507 357h1v6h-1zM507 365h1v6h-1zM507 373h1v14h-1zM507 389h1v10h-1zM507 401h1v14h-1zM507 417h1v14h-1zM507 433h1v10h-1zM508 321h1v10h-1zM508 333h1v14h-1zM508 349h1v14h-1zM508 365h1v6h-1zM508 373h1v14h-1zM508 389h1v10h-1zM508 401h1v14h-1zM508 417h1v14h-1zM508 433h1v2h-1zM509 257h1v14h-1zM509 273h1v6h-1zM509 281h1v10h-1zM509 293h1v18h-1zM509 313h1v6h-1zM509 321h1v10h-1zM509 333h1v14h-1zM509 349h1v14h-1zM509 365h1v6h-1zM509 373h1v14h-1zM509 389h1v10h-1zM509 401h1v10h-1zM510 229h1v6h-1zM510 237h1v14h-1zM510 253h1v18h-1zM510 273h1v6h-1zM510 281h1v10h-1zM510 293h1v18h-1zM510 313h1v6h-1zM510 321h1v10h-1zM510 333h1v14h-1zM510 349h1v14h-1zM510 365h1v6h-1zM510 373h1v14h-1zM510 389h1v10h-1zM510 401h1v14h-1zM510 417h1v14h-1zM510 433h1v10h-1zM511 337h1v10h-1zM511 349h1v14h-1zM511 365h1v6h-1zM511 373h1v14h-1zM511 389h1v10h-1zM511 401h1v14h-1zM511 417h1v14h-1zM511 433h1v10h-1zM632 35h2v128h-2zM632 165h2v86h-2zM632 253h2v18h-2zM632 273h2v170h-2zM695 35h1v128h-1zM695 165h1v86h-1zM695 253h1v18h-1zM695 273h1v170h-1zM842 35h8v128h-8zM842 165h8v86h-8zM842 253h8v18h-8zM842 273h8v170h-8zM918 35h3v128h-3zM918 165h3v86h-3zM918 253h3v18h-3zM918 273h3v170h-3zM986 35h3v128h-3zM986 165h3v86h-3zM986 253h3v18h-3zM986 273h3v170h-3zM1053 35h1v128h-1zM1053 165h1v86h-1zM1053 253h1v18h-1zM1053 273h1v170h-1zM1054 35h44v128h-44zM1054 165h44v86h-44zM1054 253h44v18h-44zM1054 273h44v170h-44zM1098 35h1v128h-1zM1098 165h1v86h-1zM1098 253h1v18h-1zM1098 273h1v170h-1zM1099 35h3v128h-3zM1099 165h3v86h-3zM1099 253h3v18h-3zM1099 273h3v170h-3zM1156 35h2v128h-2zM1156 165h2v86h-2zM1156 253h2v18h-2zM1156 273h2v170h-2zM1158 35h1v128h-1zM1158 165h1v86h-1zM1158 253h1v18h-1zM1158 273h1v170h-1zM1159 35h1v128h-1zM1159 165h1v86h-1zM1159 253h1v18h-1zM1159 273h1v170h-1z"/>
<path fill="#001a0e" d="M508 435h1v8h-1zM509 411h1v4h-1zM509 417h1v14h-1zM509 433h1v10h-1zM634 35h2v128h-2zM634 165h2v86h-2zM634 253h2v18h-2zM634 273h2v170h-2zM693 35h2v128h-2zM693 165h2v86h-2zM693 253h2v18h-2zM693 273h2v170h-2zM921 35h7v128h-7zM921 165h7v86h-7zM921 253h7v18h-7zM921 273h7v170h-7zM928 35h30v128h-30zM928 165h30v86h-30zM928 253h30v18h-30zM928 273h30v170h-30zM958 35h9v128h-9zM958 165h9v86h-9zM958 253h9v18h-9zM958 273h9v170h-9zM967 35h1v128h-1zM967 165h1v86h-1zM967 253h1v18h-1zM967 273h1v170h-1zM968 35h1v128h-1zM968 165h1v86h-1zM968 253h1v18h-1zM968 273h1v170h-1zM969 35h17v128h-17zM969 165h17v86h-17zM969 253h17v18h-17zM969 273h17v170h-17zM1160 35h4v128h-4zM1160 165h4v86h-4zM1160 253h4v18h-4zM1160 273h4v170h-4z"/>
<path fill="#021400" d="M509 387h1v2h-1z"/>
<path fill="#521000" d="M571 83h1v56h-1zM572 83h1v56h-1z"/>
<path fill="#6c0c00" d="M571 139h1v24h-1zM572 139h1v24h-1z"/>
<path fill="#4c1000" d="M571 163h1v16h-1zM571 205h1v34h-1zM571 343h1v38h-1zM572 163h1v16h-1zM572 205h1v34h-1zM572 343h1v38h-1z"/>
<path fill="#7c0800" d="M571 239h1v52h-1zM572 239h1v52h-1z"/>
<path fill="#700c00" d="M571 381h1v62h-1zM572 381h1v62h-1z"/>
<path fill="#520c00" d="M577 163h1v2h-1zM577 251h1v2h-1zM577 271h1v2h-1zM611 163h1v2h-1zM611 251h1v2h-1zM611 271h1v2h-1zM867 163h2v2h-2zM867 251h2v2h-2zM867 271h2v2h-2zM1160 163h4v2h-4zM1160 251h4v2h-4zM1160 271h4v2h-4zM1164 163h24v2h-24zM1164 251h24v2h-24zM1164 271h24v2h-24z"/>
<path fill="#540c00" d="M578 163h2v2h-2zM578 251h2v2h-2zM578 271h2v2h-2zM869 163h1v2h-1zM869 251h1v2h-1zM869 271h1v2h-1zM889 163h3v2h-3zM889 251h3v2h-3zM889 271h3v2h-3z"/>
<path fill="#580c00" d="M582 163h2v2h-2zM582 251h2v2h-2zM582 271h2v2h-2zM610 163h1v2h-1zM610 251h1v2h-1zM610 271h1v2h-1zM872 163h1v2h-1zM872 251h1v2h-1zM872 271h1v2h-1zM887 163h1v2h-1zM887 251h1v2h-1zM887 271h1v2h-1zM894 163h2v2h-2zM894 251h2v2h-2zM894 271h2v2h-2z"/>
<path fill="#5a0c00" d="M584 163h2v2h-2zM584 251h2v2h-2zM584 271h2v2h-2zM873 163h2v2h-2zM873 251h2v2h-2zM873 271h2v2h-2zM896 163h2v2h-2zM896 251h2v2h-2zM896 271h2v2h-2z"/>
<path fill="#5c0c00" d="M586 163h4v2h-4zM586 251h4v2h-4zM586 271h4v2h-4zM590 163h5v2h-5zM590 251h5v2h-5zM590 271h5v2h-5zM595 163h6v2h-6zM595 251h6v2h-6zM595 271h6v2h-6zM601 163h2v2h-2zM601 251h2v2h-2zM601 271h2v2h-2zM603 163h4v2h-4zM603 251h4v2h-4zM603 271h4v2h-4zM607 163h3v2h-3zM607 251h3v2h-3zM607 271h3v2h-3zM875 163h12v2h-12zM875 251h12v2h-12zM875 271h12v2h-12zM898 163h7v2h-7zM898 251h7v2h-7zM898 271h7v2h-7zM905 163h3v2h-3zM905 251h3v2h-3zM905 271h3v2h-3z"/>
<path fill="#001a10" d="M636 35h2v128h-2zM636 165h2v86h-2zM636 253h2v18h-2zM636 273h2v170h-2zM692 35h1v128h-1zM692 165h1v86h-1zM692 253h1v18h-1zM692 273h1v170h-1zM1164 35h24v128h-24zM1164 165h24v86h-24zM1164 253h24v18h-24zM1164 273h24v170h-24zM1188 35h1v128h-1zM1188 165h1v86h-1zM1188 253h1v18h-1zM1188 273h1v170h-1zM1189 35h1v128h-1zM1189 165h1v86h-1zM1189 253h1v18h-1zM1189 273h1v170h-1zM1190 35h23v128h-23zM1190 165h23v86h-23zM1190 253h23v18h-23zM1190 273h23v170h-23zM1213 35h1v128h-1zM1213 165h1v86h-1zM1213 253h1v18h-1zM1213 273h1v170h-1zM1214 35h1v128h-1zM1214 165h1v86h-1zM1214 253h1v18h-1zM1214 273h1v170h-1zM1215 35h28v128h-28zM1215 165h28v86h-28zM1215 253h28v18h-28zM1215 273h28v170h-28zM1243 35h1v128h-1zM1243 165h1v86h-1zM1243 253h1v18h-1zM1243 273h1v170h-1zM1244 35h1v128h-1zM1244 165h1v86h-1zM1244 253h1v18h-1zM1244 273h1v170h-1zM1245 35h13v128h-13zM1245 165h13v86h-13zM1245 253h13v18h-13zM1245 273h13v170h-13zM1258 35h1v128h-1zM1258 165h1v66h-1zM1258 299h1v144h-1zM1259 35h1v128h-1zM1259 165h1v86h-1zM1259 253h1v18h-1zM1259 273h1v170h-1zM1260 37h3v2h-3zM1260 41h3v8h-3zM1260 51h3v24h-3zM1260 77h3v8h-3zM1260 87h3v28h-3zM1260 117h3v12h-3zM1260 131h3v10h-3zM1260 143h3v6h-3zM1260 155h3v8h-3zM1260 167h3v2h-3zM1260 173h3v8h-3zM1260 183h3v12h-3zM1260 197h3v2h-3zM1260 203h3v26h-3zM1260 233h3v10h-3zM1260 245h3v6h-3zM1260 253h3v8h-3zM1260 263h3v8h-3zM1260 273h3v4h-3zM1260 281h3v8h-3zM1260 291h3v4h-3zM1260 297h3v6h-3zM1260 309h3v6h-3zM1260 317h3v8h-3zM1260 327h3v8h-3zM1260 337h3v4h-3zM1260 345h3v24h-3zM1260 371h3v32h-3zM1260 405h3v2h-3zM1260 409h3v20h-3zM1260 431h3v4h-3zM1260 439h3v4h-3zM1263 35h1v128h-1zM1263 165h1v86h-1zM1263 253h1v18h-1zM1263 273h1v170h-1z"/>
<path fill="#001a12" d="M638 35h30v128h-30zM638 165h30v86h-30zM638 253h30v18h-30zM638 273h30v170h-30zM690 35h2v128h-2zM690 165h2v86h-2zM690 253h2v18h-2zM690 273h2v170h-2zM1264 35h1v128h-1zM1264 165h1v86h-1zM1264 253h1v18h-1zM1264 273h1v170h-1zM1265 35h3v4h-3zM1265 41h3v14h-3zM1265 57h3v8h-3zM1265 67h3v14h-3zM1265 83h3v18h-3zM1265 105h3v16h-3zM1265 123h3v18h-3zM1265 143h3v2h-3zM1265 147h3v2h-3zM1265 151h3v12h-3zM1265 165h3v18h-3zM1265 185h3v2h-3zM1265 189h3v10h-3zM1265 201h3v10h-3zM1265 213h3v24h-3zM1265 239h3v12h-3zM1265 253h3v6h-3zM1265 261h3v4h-3zM1265 269h3v2h-3zM1265 273h3v4h-3zM1265 279h3v4h-3zM1265 285h3v14h-3zM1265 301h3v8h-3zM1265 311h3v4h-3zM1265 319h3v6h-3zM1265 327h3v2h-3zM1265 331h3v10h-3zM1265 345h3v10h-3zM1265 359h3v2h-3zM1265 363h3v4h-3zM1265 369h3v14h-3zM1265 387h3v4h-3zM1265 393h3v16h-3zM1265 411h3v2h-3zM1265 415h3v8h-3zM1265 425h3v18h-3zM1268 35h3v128h-3zM1268 165h3v86h-3zM1268 253h3v18h-3zM1268 273h3v170h-3zM1271 35h1v128h-1zM1271 165h1v86h-1zM1271 253h1v18h-1zM1271 273h1v170h-1zM1272 35h1v128h-1zM1272 165h1v86h-1zM1272 253h1v18h-1zM1272 273h1v170h-1zM1276 35h32v128h-32zM1276 165h32v86h-32zM1276 253h32v18h-32zM1276 273h32v170h-32z"/>
<path fill="#001a14" d="M668 35h22v128h-22zM668 165h22v86h-22zM668 253h22v18h-22zM668 273h22v170h-22z"/>
<path fill="#1e1000" d="M737 35h1v128h-1zM737 165h1v86h-1zM737 253h1v18h-1zM737 273h1v170h-1z"/>
<path fill="#0e0c00" d="M1038 163h1v2h-1zM1038 251h1v2h-1zM1038 271h1v2h-1z"/>
<path fill="#120c00" d="M1053 163h1v2h-1zM1053 251h1v2h-1zM1053 271h1v2h-1z"/>
<path fill="#1c0800" d="M1260 115h3v2h-3z"/>
<path fill="#220800" d="M1260 153h3v2h-3zM1260 201h3v2h-3zM1260 303h3v2h-3zM1260 315h3v2h-3zM1265 81h3v2h-3zM1265 265h3v2h-3zM1265 341h3v2h-3z"/>
<path fill="#180800" d="M1260 229h3v2h-3z"/>
<path fill="#200800" d="M1260 231h3v2h-3zM1260 407h3v2h-3zM1260 437h3v2h-3zM1265 309h3v2h-3zM1265 317h3v2h-3zM1265 343h3v2h-3z"/>
<path fill="#1e0800" d="M1260 243h3v2h-3zM1260 343h3v2h-3z"/>
<path fill="#3e0800" d="M1273 35h3v2h-3zM1273 63h3v2h-3zM1273 111h3v2h-3zM1273 123h3v2h-3zM1273 147h3v2h-3zM1273 155h3v2h-3zM1273 215h3v2h-3zM1273 371h3v2h-3z"/>
<path fill="#000c04" d="M1273 37h3v2h-3zM1273 45h3v2h-3zM1273 53h3v2h-3zM1273 57h3v2h-3zM1273 65h3v2h-3zM1273 73h3v2h-3zM1273 77h3v2h-3zM1273 81h3v2h-3zM1273 89h3v2h-3zM1273 93h3v2h-3zM1273 97h3v2h-3zM1273 101h3v2h-3zM1273 117h3v2h-3zM1273 121h3v2h-3zM1273 129h3v2h-3zM1273 133h3v2h-3zM1273 137h3v2h-3zM1273 145h3v2h-3zM1273 149h3v2h-3zM1273 157h3v2h-3zM1273 161h3v2h-3zM1273 169h3v2h-3zM1273 173h3v2h-3zM1273 177h3v2h-3zM1273 181h3v2h-3zM1273 185h3v2h-3zM1273 193h3v2h-3zM1273 197h3v2h-3zM1273 201h3v2h-3zM1273 205h3v2h-3zM1273 209h3v2h-3zM1273 217h3v2h-3zM1273 221h3v2h-3zM1273 225h3v2h-3zM1273 229h3v2h-3zM1273 233h3v2h-3zM1273 237h3v2h-3zM1273 241h3v2h-3zM1273 245h3v2h-3zM1273 249h3v2h-3zM1273 257h3v2h-3zM1273 261h3v2h-3zM1273 273h3v2h-3zM1273 277h3v2h-3zM1273 289h3v2h-3zM1273 293h3v2h-3zM1273 297h3v2h-3zM1273 301h3v2h-3zM1273 305h3v2h-3zM1273 313h3v2h-3zM1273 317h3v2h-3zM1273 321h3v2h-3zM1273 329h3v2h-3zM1273 333h3v2h-3zM1273 341h3v2h-3zM1273 345h3v2h-3zM1273 349h3v2h-3zM1273 353h3v2h-3zM1273 357h3v2h-3zM1273 365h3v2h-3zM1273 373h3v2h-3zM1273 377h3v2h-3zM1273 385h3v2h-3zM1273 389h3v2h-3zM1273 393h3v2h-3zM1273 397h3v2h-3zM1273 401h3v2h-3zM1273 413h3v2h-3zM1273 417h3v2h-3zM1273 421h3v2h-3zM1273 425h3v2h-3zM1273 429h3v2h-3zM1273 441h3v2h-3z"/>
<path fill="#460800" d="M1273 41h3v2h-3zM1273 85h3v2h-3zM1273 207h3v2h-3zM1273 239h3v2h-3z"/>
<path fill="#420800" d="M1273 49h3v2h-3zM1273 61h3v2h-3zM1273 171h3v2h-3zM1273 231h3v2h-3zM1273 263h3v2h-3zM1273 381h3v2h-3zM1273 391h3v2h-3z"/>
<path fill="#440800" d="M1273 103h3v2h-3zM1273 135h3v2h-3zM1273 243h3v2h-3zM1273 287h3v2h-3zM1273 299h3v2h-3zM1273 319h3v2h-3zM1273 355h3v2h-3zM1273 409h3v2h-3z"/>
<path fill="#4e0800" d="M1273 115h3v2h-3z"/>
<path fill="#400800" d="M1273 119h3v2h-3zM1273 139h3v2h-3zM1273 151h3v2h-3zM1273 227h3v2h-3zM1273 303h3v2h-3zM1273 307h3v4h-3zM1273 327h3v2h-3zM1273 339h3v2h-3zM1273 347h3v2h-3zM1273 375h3v2h-3zM1273 399h3v2h-3z"/>
<path fill="#480800" d="M1273 167h3v2h-3zM1273 175h3v2h-3zM1273 433h3v2h-3z"/>
<path fill="#4a0800" d="M1273 427h3v2h-3z"/>
</g>
<rect x="19.4" y="35.35" width="1288.2" height="407.05" fill="none" stroke="#000" stroke-width="1.1"/>
<g opacity="0.999">
<path d="M19.40 442.40v4.9" stroke="#000" stroke-width="1.1"/>
<text x="19.40" y="461.90" text-anchor="middle" font-size="14.00" textLength="8.83" lengthAdjust="spacingAndGlyphs">0</text>
<path d="M62.40 442.40v4.9" stroke="#000" stroke-width="1.1"/>
<text x="62.40" y="461.90" text-anchor="middle" font-size="14.00" textLength="8.83" lengthAdjust="spacingAndGlyphs">1</text>
<path d="M105.40 442.40v4.9" stroke="#000" stroke-width="1.1"/>
<text x="105.40" y="461.90" text-anchor="middle" font-size="14.00" textLength="8.83" lengthAdjust="spacingAndGlyphs">2</text>
<path d="M148.40 442.40v4.9" stroke="#000" stroke-width="1.1"/>
<text x="148.40" y="461.90" text-anchor="middle" font-size="14.00" textLength="8.83" lengthAdjust="spacingAndGlyphs">3</text>
<path d="M191.40 442.40v4.9" stroke="#000" stroke-width="1.1"/>
<text x="191.40" y="461.90" text-anchor="middle" font-size="14.00" textLength="8.83" lengthAdjust="spacingAndGlyphs">4</text>
<path d="M234.40 442.40v4.9" stroke="#000" stroke-width="1.1"/>
<text x="234.40" y="461.90" text-anchor="middle" font-size="14.00" textLength="8.83" lengthAdjust="spacingAndGlyphs">5</text>
<path d="M277.40 442.40v4.9" stroke="#000" stroke-width="1.1"/>
<text x="277.40" y="461.90" text-anchor="middle" font-size="14.00" textLength="8.83" lengthAdjust="spacingAndGlyphs">6</text>
<path d="M320.40 442.40v4.9" stroke="#000" stroke-width="1.1"/>
<text x="320.40" y="461.90" text-anchor="middle" font-size="14.00" textLength="8.83" lengthAdjust="spacingAndGlyphs">7</text>
<path d="M363.40 442.40v4.9" stroke="#000" stroke-width="1.1"/>
<text x="363.40" y="461.90" text-anchor="middle" font-size="14.00" textLength="8.83" lengthAdjust="spacingAndGlyphs">8</text>
<path d="M406.40 442.40v4.9" stroke="#000" stroke-width="1.1"/>
<text x="406.40" y="461.90" text-anchor="middle" font-size="14.00" textLength="8.83" lengthAdjust="spacingAndGlyphs">9</text>
<path d="M449.40 442.40v4.9" stroke="#000" stroke-width="1.1"/>
<text x="449.40" y="461.90" text-anchor="middle" font-size="14.00" textLength="17.67" lengthAdjust="spacingAndGlyphs">10</text>
<path d="M492.40 442.40v4.9" stroke="#000" stroke-width="1.1"/>
<text x="492.40" y="461.90" text-anchor="middle" font-size="14.00" textLength="17.67" lengthAdjust="spacingAndGlyphs">11</text>
<path d="M535.40 442.40v4.9" stroke="#000" stroke-width="1.1"/>
<text x="535.40" y="461.90" text-anchor="middle" font-size="14.00" textLength="17.67" lengthAdjust="spacingAndGlyphs">12</text>
<path d="M578.40 442.40v4.9" stroke="#000" stroke-width="1.1"/>
<text x="578.40" y="461.90" text-anchor="middle" font-size="14.00" textLength="17.67" lengthAdjust="spacingAndGlyphs">13</text>
<path d="M621.40 442.40v4.9" stroke="#000" stroke-width="1.1"/>
<text x="621.40" y="461.90" text-anchor="middle" font-size="14.00" textLength="17.67" lengthAdjust="spacingAndGlyphs">14</text>
<path d="M664.40 442.40v4.9" stroke="#000" stroke-width="1.1"/>
<text x="664.40" y="461.90" text-anchor="middle" font-size="14.00" textLength="17.67" lengthAdjust="spacingAndGlyphs">15</text>
<path d="M707.40 442.40v4.9" stroke="#000" stroke-width="1.1"/>
<text x="707.40" y="461.90" text-anchor="middle" font-size="14.00" textLength="17.67" lengthAdjust="spacingAndGlyphs">16</text>
<path d="M750.40 442.40v4.9" stroke="#000" stroke-width="1.1"/>
<text x="750.40" y="461.90" text-anchor="middle" font-size="14.00" textLength="17.67" lengthAdjust="spacingAndGlyphs">17</text>
<path d="M793.40 442.40v4.9" stroke="#000" stroke-width="1.1"/>
<text x="793.40" y="461.90" text-anchor="middle" font-size="14.00" textLength="17.67" lengthAdjust="spacingAndGlyphs">18</text>
<path d="M836.40 442.40v4.9" stroke="#000" stroke-width="1.1"/>
<text x="836.40" y="461.90" text-anchor="middle" font-size="14.00" textLength="17.67" lengthAdjust="spacingAndGlyphs">19</text>
<path d="M879.40 442.40v4.9" stroke="#000" stroke-width="1.1"/>
<text x="879.40" y="461.90" text-anchor="middle" font-size="14.00" textLength="17.67" lengthAdjust="spacingAndGlyphs">20</text>
<path d="M922.40 442.40v4.9" stroke="#000" stroke-width="1.1"/>
<text x="922.40" y="461.90" text-anchor="middle" font-size="14.00" textLength="17.67" lengthAdjust="spacingAndGlyphs">21</text>
<path d="M965.40 442.40v4.9" stroke="#000" stroke-width="1.1"/>
<text x="965.40" y="461.90" text-anchor="middle" font-size="14.00" textLength="17.67" lengthAdjust="spacingAndGlyphs">22</text>
<path d="M1008.40 442.40v4.9" stroke="#000" stroke-width="1.1"/>
<text x="1008.40" y="461.90" text-anchor="middle" font-size="14.00" textLength="17.67" lengthAdjust="spacingAndGlyphs">23</text>
<path d="M1051.40 442.40v4.9" stroke="#000" stroke-width="1.1"/>
<text x="1051.40" y="461.90" text-anchor="middle" font-size="14.00" textLength="17.67" lengthAdjust="spacingAndGlyphs">24</text>
<path d="M1094.40 442.40v4.9" stroke="#000" stroke-width="1.1"/>
<text x="1094.40" y="461.90" text-anchor="middle" font-size="14.00" textLength="17.67" lengthAdjust="spacingAndGlyphs">25</text>
<path d="M1137.40 442.40v4.9" stroke="#000" stroke-width="1.1"/>
<text x="1137.40" y="461.90" text-anchor="middle" font-size="14.00" textLength="17.67" lengthAdjust="spacingAndGlyphs">26</text>
<path d="M1180.40 442.40v4.9" stroke="#000" stroke-width="1.1"/>
<text x="1180.40" y="461.90" text-anchor="middle" font-size="14.00" textLength="17.67" lengthAdjust="spacingAndGlyphs">27</text>
<path d="M1223.40 442.40v4.9" stroke="#000" stroke-width="1.1"/>
<text x="1223.40" y="461.90" text-anchor="middle" font-size="14.00" textLength="17.67" lengthAdjust="spacingAndGlyphs">28</text>
<path d="M1266.40 442.40v4.9" stroke="#000" stroke-width="1.1"/>
<text x="1266.40" y="461.90" text-anchor="middle" font-size="14.00" textLength="17.67" lengthAdjust="spacingAndGlyphs">29</text>
<text x="663.60" y="481.80" text-anchor="middle" font-size="14.00" textLength="29.72" lengthAdjust="spacingAndGlyphs">MHz</text>
<text x="663.20" y="27.20" text-anchor="middle" font-size="17.00" textLength="545.00" lengthAdjust="spacingAndGlyphs">14/12/2025 00:00 local time - KIWI_2 - Skywire loop [SNR: 24 dB]</text>
<rect x="1320.55" y="35.5" width="26" height="407" fill="url(#cb)" stroke="#000" stroke-width="1.05"/>
<path d="M1347 77.50h4.9" stroke="#000" stroke-width="1.1"/>
<text x="1355.00" y="82.60" text-anchor="start" font-size="14.00" textLength="11.64" lengthAdjust="spacingAndGlyphs">−</text>
<text x="1366.64" y="82.60" text-anchor="start" font-size="14.00" textLength="17.67" lengthAdjust="spacingAndGlyphs">20</text>
<path d="M1347 124.60h4.9" stroke="#000" stroke-width="1.1"/>
<text x="1355.00" y="129.70" text-anchor="start" font-size="14.00" textLength="11.64" lengthAdjust="spacingAndGlyphs">−</text>
<text x="1366.64" y="129.70" text-anchor="start" font-size="14.00" textLength="17.67" lengthAdjust="spacingAndGlyphs">30</text>
<path d="M1347 171.70h4.9" stroke="#000" stroke-width="1.1"/>
<text x="1355.00" y="176.80" text-anchor="start" font-size="14.00" textLength="11.64" lengthAdjust="spacingAndGlyphs">−</text>
<text x="1366.64" y="176.80" text-anchor="start" font-size="14.00" textLength="17.67" lengthAdjust="spacingAndGlyphs">40</text>
<path d="M1347 218.80h4.9" stroke="#000" stroke-width="1.1"/>
<text x="1355.00" y="223.90" text-anchor="start" font-size="14.00" textLength="11.64" lengthAdjust="spacingAndGlyphs">−</text>
<text x="1366.64" y="223.90" text-anchor="start" font-size="14.00" textLength="17.67" lengthAdjust="spacingAndGlyphs">50</text>
<path d="M1347 265.90h4.9" stroke="#000" stroke-width="1.1"/>
<text x="1355.00" y="271.00" text-anchor="start" font-size="14.00" textLength="11.64" lengthAdjust="spacingAndGlyphs">−</text>
<text x="1366.64" y="271.00" text-anchor="start" font-size="14.00" textLength="17.67" lengthAdjust="spacingAndGlyphs">60</text>
<path d="M1347 313.00h4.9" stroke="#000" stroke-width="1.1"/>
<text x="1355.00" y="318.10" text-anchor="start" font-size="14.00" textLength="11.64" lengthAdjust="spacingAndGlyphs">−</text>
<text x="1366.64" y="318.10" text-anchor="start" font-size="14.00" textLength="17.67" lengthAdjust="spacingAndGlyphs">70</text>
<path d="M1347 360.10h4.9" stroke="#000" stroke-width="1.1"/>
<text x="1355.00" y="365.20" text-anchor="start" font-size="14.00" textLength="11.64" lengthAdjust="spacingAndGlyphs">−</text>
<text x="1366.64" y="365.20" text-anchor="start" font-size="14.00" textLength="17.67" lengthAdjust="spacingAndGlyphs">80</text>
<path d="M1347 407.20h4.9" stroke="#000" stroke-width="1.1"/>
<text x="1355.00" y="412.30" text-anchor="start" font-size="14.00" textLength="11.64" lengthAdjust="spacingAndGlyphs">−</text>
<text x="1366.64" y="412.30" text-anchor="start" font-size="14.00" textLength="17.67" lengthAdjust="spacingAndGlyphs">90</text>
<text x="1333.40" y="27.20" text-anchor="middle" font-size="17.00" textLength="38.26" lengthAdjust="spacingAndGlyphs">dBm</text>
</g>
</svg>
</body></html>
